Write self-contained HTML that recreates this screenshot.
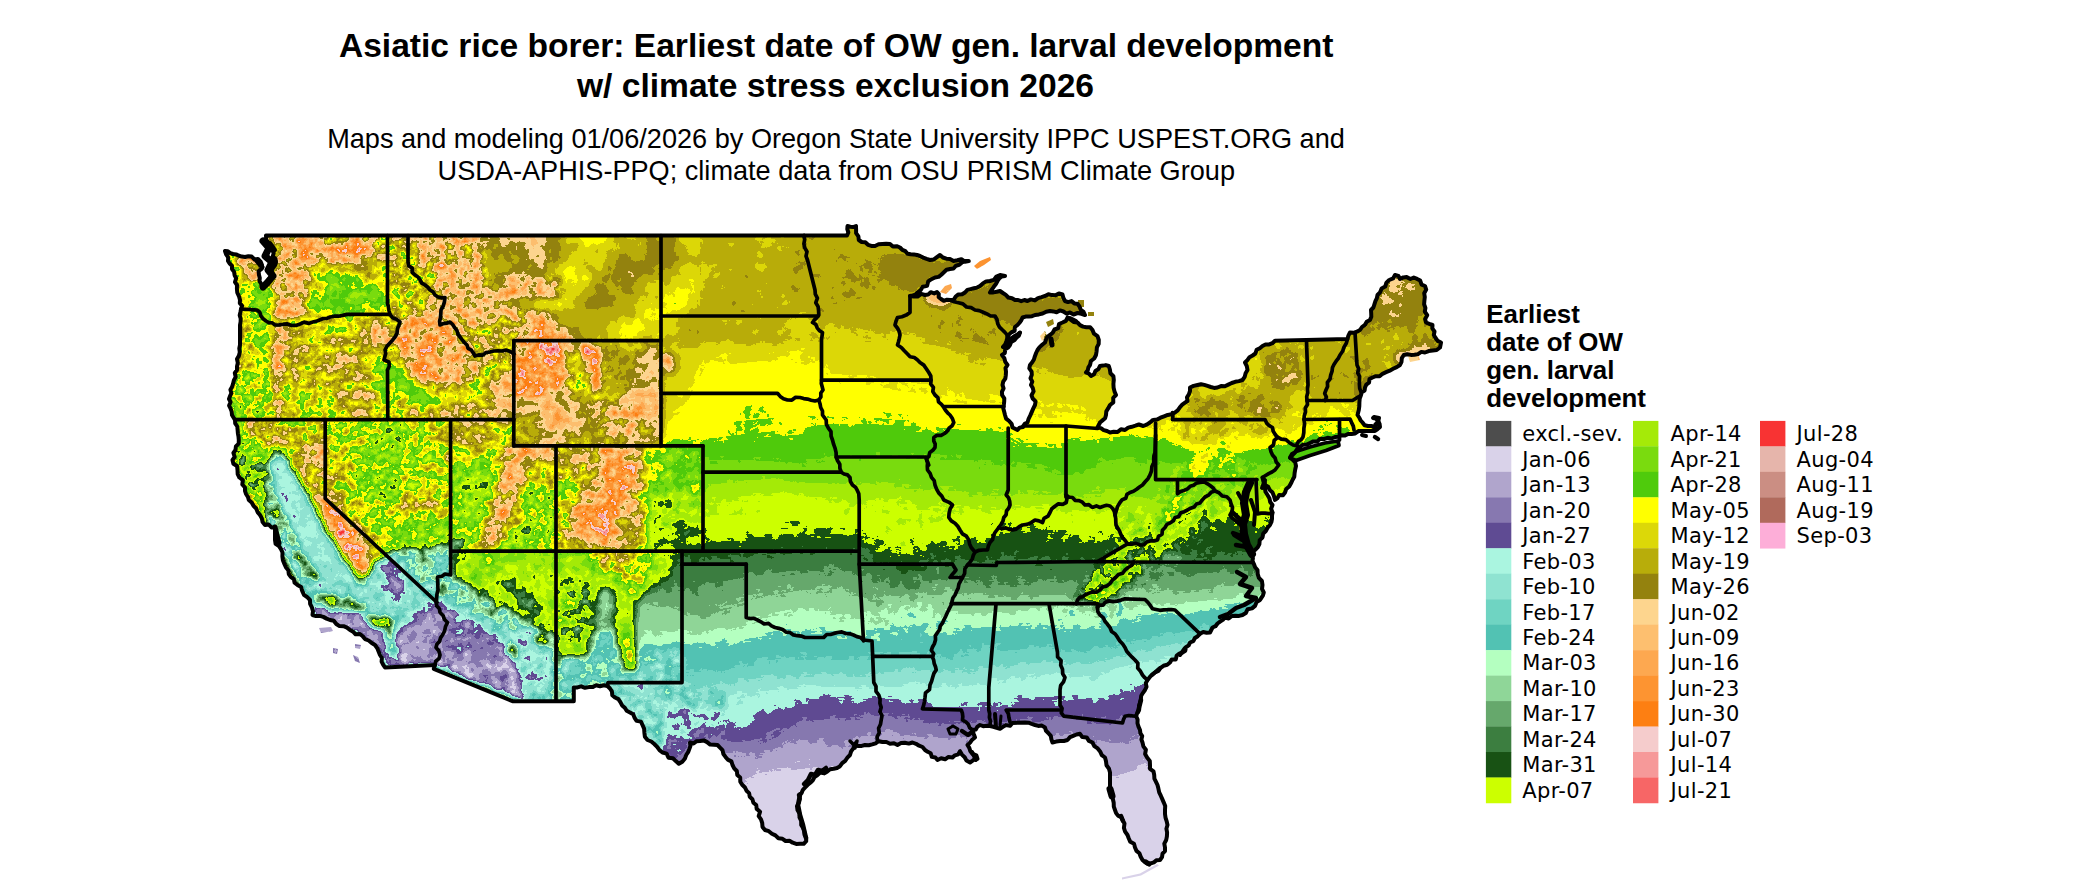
<!DOCTYPE html>
<html><head><meta charset="utf-8"><title>Asiatic rice borer: Earliest date of OW gen. larval development</title>
<style>html,body{margin:0;padding:0;background:#fff}svg{display:block}
.t{font-family:"Liberation Sans",Arial,sans-serif;font-weight:bold;font-size:33.58px;text-anchor:middle;fill:#000}
.s{font-family:"Liberation Sans",Arial,sans-serif;font-size:27.14px;text-anchor:middle;fill:#000}
.lt{font-family:"Liberation Sans",Arial,sans-serif;font-weight:bold;font-size:25.9px;fill:#000}
.ll{font-family:"DejaVu Sans",Verdana,sans-serif;font-size:21px;letter-spacing:0.32px;fill:#000}
.b{fill:none;stroke:#000;stroke-width:3.7;stroke-linejoin:round;stroke-linecap:round}
</style></head><body>
<svg width="2100" height="892" viewBox="0 0 2100 892">
<rect width="2100" height="892" fill="#fff"/>
<defs><clipPath id="us"><path d="M225.0 251.0 L227.9 251.3 L230.3 253.1 L233.0 254.0 L236.1 254.4 L238.9 255.8 L241.9 256.6 L245.0 257.0 L248.4 256.2 L251.7 256.6 L254.6 259.5 L258.0 259.0 L260.6 261.6 L262.0 265.0 L261.8 268.6 L258.6 271.2 L259.0 275.0 L259.8 278.0 L259.5 281.2 L261.3 284.0 L262.0 287.0 L265.2 285.9 L268.0 284.0 L268.0 280.2 L270.4 277.1 L272.1 273.8 L272.0 270.0 L273.4 267.4 L275.3 265.0 L276.0 262.0 L275.5 258.8 L272.8 256.4 L273.7 252.8 L272.0 250.0 L270.8 246.3 L268.4 243.0 L266.2 239.7 L266.0 235.5 L847.0 235.5 L848.3 232.4 L847.3 229.2 L847.5 226.0 L850.3 226.7 L853.2 227.1 L856.0 226.0 L856.1 229.6 L856.1 233.2 L858.4 236.4 L858.8 240.0 L861.7 242.0 L865.3 242.2 L868.0 244.8 L871.4 245.9 L875.0 246.0 L878.6 244.3 L882.4 243.9 L886.1 243.7 L890.0 244.0 L892.9 246.5 L896.7 246.2 L900.0 247.5 L902.3 249.9 L905.4 251.2 L907.5 253.8 L910.6 254.3 L913.8 254.5 L917.0 255.0 L920.0 256.0 L923.2 257.6 L926.6 258.9 L930.0 260.0 L933.9 259.4 L936.9 257.2 L940.0 255.0 L942.9 257.5 L946.3 258.7 L950.0 259.0 L953.6 260.9 L957.4 260.3 L961.4 259.2 L964.9 261.7 L968.8 261.0 L965.1 261.1 L962.0 262.5 L959.3 264.8 L956.0 265.7 L953.5 268.5 L950.0 269.0 L946.5 269.8 L943.9 272.2 L941.3 274.7 L938.6 276.9 L935.0 277.5 L931.4 279.2 L928.2 281.4 L927.1 285.9 L922.7 286.8 L920.6 290.2 L917.5 292.5 L915.4 294.6 L912.8 295.4 L910.0 296.0 L913.8 296.6 L917.6 296.6 L921.2 293.9 L925.0 295.0 L928.1 294.6 L930.7 292.2 L934.2 293.4 L937.0 292.0 L938.8 294.1 L938.7 297.2 L941.0 299.0 L943.8 300.8 L947.0 299.7 L950.0 300.0 L953.7 299.8 L955.7 296.5 L958.4 294.4 L962.1 294.3 L965.0 292.5 L967.4 289.9 L970.6 289.1 L973.9 288.3 L977.1 287.6 L980.0 286.0 L982.9 283.4 L986.1 281.4 L990.0 281.0 L993.9 279.9 L996.4 276.5 L1000.0 275.0 L1005.0 276.0 L1001.7 276.5 L999.3 278.3 L997.5 281.0 L995.9 284.1 L993.8 286.8 L991.8 289.6 L990.0 292.5 L993.4 292.4 L996.7 291.8 L1000.0 291.0 L1002.9 293.0 L1005.8 294.9 L1008.3 297.5 L1012.0 298.2 L1015.0 300.0 L1018.1 300.0 L1021.2 301.2 L1024.4 300.0 L1027.5 301.0 L1030.8 299.4 L1034.9 300.4 L1038.0 298.1 L1041.5 297.1 L1045.0 296.0 L1048.4 294.2 L1052.0 295.1 L1055.5 295.3 L1058.9 293.4 L1062.5 294.5 L1063.4 297.9 L1065.0 301.0 L1068.0 302.1 L1071.5 301.1 L1074.3 303.4 L1077.5 303.8 L1079.5 306.5 L1080.8 309.7 L1083.5 311.9 L1085.0 315.0 L1081.4 313.8 L1077.6 313.0 L1073.5 314.5 L1070.0 312.5 L1066.6 313.6 L1063.4 311.5 L1060.1 310.4 L1056.6 312.2 L1053.3 311.4 L1050.0 311.0 L1046.2 311.7 L1042.6 313.5 L1038.9 314.4 L1035.0 315.0 L1032.0 316.2 L1028.8 316.6 L1025.6 316.6 L1022.5 317.5 L1021.3 320.3 L1019.5 322.7 L1017.5 325.0 L1014.9 327.0 L1014.6 330.9 L1011.3 332.4 L1008.9 334.6 L1007.5 337.5 L1006.5 340.9 L1005.3 344.2 L1003.0 347.0 L1005.9 345.4 L1006.9 341.9 L1009.1 339.6 L1012.0 338.0 L1014.6 336.0 L1017.7 334.8 L1020.0 332.5 L1018.9 335.7 L1016.4 337.8 L1014.4 340.3 L1011.2 341.9 L1010.0 345.0 L1008.1 347.6 L1005.2 349.3 L1004.8 353.1 L1002.0 355.0 L1004.3 358.1 L1005.3 361.9 L1007.5 365.0 L1005.5 368.1 L1006.0 371.7 L1005.8 375.2 L1005.3 378.6 L1003.2 381.6 L1002.5 385.0 L1003.6 388.3 L1002.0 391.7 L1002.1 395.1 L1004.3 398.3 L1004.2 401.6 L1003.8 405.0 L1003.3 408.4 L1004.2 411.7 L1005.0 415.0 L1006.1 418.6 L1009.1 421.0 L1011.6 423.8 L1012.5 427.5 L1017.5 430.0 L1019.6 427.6 L1023.0 427.0 L1024.6 423.8 L1027.5 422.5 L1028.6 418.8 L1030.3 415.4 L1031.8 411.9 L1033.3 408.4 L1035.0 405.0 L1035.6 401.4 L1032.7 398.5 L1031.5 395.3 L1033.6 391.4 L1032.8 388.1 L1031.0 385.0 L1032.3 381.6 L1030.5 378.3 L1031.8 374.9 L1031.6 371.6 L1029.3 368.4 L1030.0 365.0 L1032.2 362.3 L1033.9 359.5 L1034.9 356.2 L1036.1 353.0 L1037.5 350.0 L1039.6 347.1 L1042.2 344.7 L1045.0 342.5 L1046.0 339.5 L1047.3 336.8 L1050.0 335.0 L1052.7 332.7 L1054.5 329.5 L1058.2 328.2 L1059.0 324.0 L1062.5 322.5 L1065.9 320.9 L1067.5 317.5 L1070.6 319.7 L1073.6 322.0 L1077.5 322.5 L1080.0 325.1 L1083.0 326.6 L1086.4 327.2 L1090.2 327.2 L1092.5 330.0 L1094.0 333.7 L1097.5 336.1 L1098.8 340.0 L1098.7 343.9 L1096.9 347.4 L1096.6 351.2 L1096.0 355.0 L1094.2 358.5 L1090.9 361.0 L1090.0 365.0 L1088.4 367.3 L1087.8 370.2 L1086.0 372.5 L1088.9 373.6 L1091.0 376.0 L1094.1 374.2 L1095.4 371.0 L1098.4 369.1 L1100.0 366.0 L1102.9 365.6 L1105.8 365.1 L1108.8 366.0 L1109.9 369.5 L1110.4 373.3 L1113.4 376.2 L1113.8 380.0 L1113.4 383.9 L1113.6 387.7 L1114.5 391.4 L1116.0 395.0 L1113.2 397.8 L1113.3 402.4 L1110.0 405.0 L1108.3 408.2 L1106.3 411.3 L1106.0 415.0 L1105.1 418.3 L1102.5 420.4 L1100.0 422.5 L1097.5 427.5 L1100.9 428.1 L1103.7 430.1 L1107.0 431.0 L1110.0 432.5 L1113.7 431.8 L1117.6 432.1 L1121.0 429.2 L1125.0 430.0 L1128.2 427.6 L1131.8 426.8 L1135.4 425.7 L1138.9 424.5 L1143.3 426.0 L1146.7 424.6 L1150.0 422.5 L1153.1 419.9 L1157.1 419.6 L1160.5 417.7 L1164.1 416.3 L1167.7 414.9 L1171.6 414.3 L1175.0 412.5 L1177.7 410.4 L1179.7 407.6 L1181.9 404.9 L1184.7 402.9 L1187.5 401.0 L1187.0 397.4 L1188.9 394.3 L1190.0 391.0 L1190.0 387.5 L1193.6 385.9 L1197.5 385.0 L1201.0 384.2 L1204.3 384.9 L1207.5 385.9 L1210.8 387.0 L1214.1 387.9 L1217.5 387.5 L1221.0 386.1 L1224.9 386.2 L1228.3 384.6 L1231.7 383.0 L1235.2 381.8 L1238.9 381.1 L1242.5 380.0 L1244.7 376.9 L1245.6 373.2 L1247.5 370.0 L1246.8 366.1 L1245.0 362.5 L1247.4 360.1 L1249.5 357.2 L1252.6 355.5 L1255.4 353.5 L1256.6 349.8 L1259.8 348.2 L1262.5 346.0 L1265.5 344.5 L1269.2 344.4 L1272.4 343.2 L1275.0 340.7 L1347.5 339.0 L1348.4 335.6 L1350.0 332.5 L1353.6 332.8 L1356.9 331.7 L1360.0 330.0 L1362.0 327.0 L1364.9 324.9 L1366.7 321.7 L1370.0 320.0 L1371.3 316.8 L1371.2 313.4 L1371.0 310.0 L1373.4 307.5 L1374.4 304.3 L1375.4 301.2 L1376.8 298.3 L1377.5 295.0 L1380.1 292.3 L1381.6 288.5 L1385.2 286.6 L1386.4 282.6 L1389.2 280.0 L1393.1 278.4 L1395.0 275.0 L1398.4 275.9 L1400.0 279.0 L1403.3 277.4 L1406.7 277.1 L1410.4 279.0 L1413.8 277.5 L1417.1 278.9 L1420.2 280.6 L1421.6 284.7 L1425.0 286.0 L1426.2 289.6 L1424.2 293.3 L1424.8 297.0 L1424.4 300.6 L1424.1 304.3 L1425.4 307.9 L1424.8 311.6 L1427.2 315.2 L1425.1 318.9 L1426.0 322.5 L1429.2 323.8 L1432.5 325.0 L1432.3 328.4 L1434.5 331.5 L1433.8 335.0 L1435.6 338.0 L1437.6 340.9 L1441.0 342.5 L1440.0 347.5 L1436.7 350.0 L1432.7 350.5 L1428.7 351.1 L1425.0 352.5 L1421.3 351.9 L1418.0 354.1 L1414.5 354.7 L1410.9 354.9 L1407.3 354.2 L1403.8 355.0 L1401.8 358.1 L1401.5 361.8 L1400.0 365.0 L1396.7 367.1 L1393.1 368.8 L1389.7 370.7 L1386.1 372.2 L1382.5 373.8 L1379.6 376.2 L1375.8 376.2 L1372.5 377.5 L1369.5 379.1 L1369.0 382.7 L1366.3 384.6 L1365.0 387.5 L1364.6 390.5 L1361.8 392.2 L1361.0 395.0 L1359.7 398.6 L1359.4 402.4 L1359.3 406.2 L1358.8 410.0 L1357.5 415.0 L1359.2 417.5 L1360.5 420.2 L1362.5 422.5 L1364.6 425.3 L1368.0 426.0 L1371.8 426.0 L1375.0 428.0 L1375.4 424.5 L1378.0 422.0 L1376.6 419.0 L1374.0 417.0 L1379.0 418.0 L1378.1 421.1 L1379.6 424.0 L1380.0 427.0 L1377.6 429.1 L1375.0 431.0 L1362.0 431.0 L1358.4 431.1 L1355.2 433.4 L1351.6 433.9 L1348.0 434.0 L1345.0 435.6 L1341.4 435.2 L1338.4 436.8 L1335.0 437.0 L1331.5 438.5 L1327.6 437.8 L1324.0 439.0 L1320.1 438.7 L1317.2 441.6 L1313.3 441.4 L1310.0 443.0 L1306.8 444.6 L1302.9 444.7 L1300.0 447.0 L1297.2 449.1 L1295.1 452.2 L1292.0 454.0 L1290.0 457.5 L1292.7 459.8 L1295.2 462.3 L1296.0 466.0 L1295.2 469.5 L1294.6 473.1 L1294.3 476.7 L1292.5 480.0 L1291.0 483.3 L1289.2 486.5 L1286.2 489.0 L1285.0 492.5 L1283.1 495.2 L1279.1 495.1 L1277.5 498.2 L1275.0 500.0 L1274.0 496.2 L1272.5 492.5 L1269.9 490.1 L1268.2 486.8 L1265.0 485.0 L1264.7 480.9 L1262.5 477.5 L1263.3 481.0 L1264.6 484.5 L1264.9 488.2 L1265.5 491.8 L1267.5 495.0 L1269.4 498.2 L1270.2 502.0 L1272.5 505.0 L1271.1 508.8 L1272.5 512.5 L1272.0 515.6 L1272.0 518.9 L1271.4 522.0 L1270.0 525.0 L1267.6 527.8 L1265.8 531.0 L1263.2 533.7 L1262.5 537.5 L1259.7 540.1 L1259.4 544.1 L1257.7 547.4 L1255.0 550.0 L1251.0 553.0 L1252.2 555.5 L1252.9 558.2 L1252.5 561.0 L1253.8 563.8 L1255.1 567.2 L1257.5 570.0 L1257.7 574.1 L1258.9 577.9 L1261.9 581.0 L1262.5 585.0 L1262.0 588.9 L1263.8 592.5 L1263.0 595.3 L1261.5 597.6 L1260.0 600.0 L1256.6 602.0 L1255.0 605.9 L1252.0 608.4 L1247.7 609.2 L1245.8 613.0 L1242.5 615.0 L1239.1 615.9 L1235.5 615.8 L1231.9 616.0 L1228.7 618.5 L1225.0 617.5 L1222.8 619.9 L1220.1 621.6 L1217.5 623.5 L1215.5 626.2 L1212.5 627.5 L1210.0 632.5 L1206.6 632.7 L1203.2 632.0 L1200.0 633.8 L1197.7 636.2 L1194.9 638.0 L1193.3 641.2 L1190.0 642.5 L1188.7 645.4 L1185.9 647.2 L1185.3 650.7 L1182.5 652.5 L1179.3 653.6 L1176.7 655.5 L1175.8 659.4 L1171.7 659.5 L1170.0 662.5 L1167.2 664.8 L1163.5 665.8 L1160.6 667.9 L1158.3 671.0 L1155.0 672.5 L1152.1 674.6 L1149.7 677.2 L1147.5 680.0 L1145.8 683.1 L1146.5 686.8 L1145.0 690.0 L1143.0 692.8 L1141.2 695.7 L1140.8 699.2 L1140.0 702.5 L1139.0 705.9 L1139.2 709.7 L1137.2 712.8 L1136.2 716.2 L1137.6 719.6 L1137.5 723.3 L1138.5 726.7 L1140.0 730.0 L1140.4 733.2 L1142.2 736.1 L1141.4 739.5 L1142.5 742.5 L1143.4 746.4 L1145.9 749.7 L1145.1 754.1 L1147.1 757.6 L1149.8 760.9 L1150.0 765.0 L1150.0 768.8 L1153.5 771.3 L1154.2 774.8 L1154.4 778.6 L1156.0 781.8 L1157.5 785.0 L1158.4 788.6 L1159.2 792.3 L1160.8 795.7 L1162.3 799.1 L1163.8 802.6 L1165.2 806.1 L1165.0 810.0 L1165.0 813.9 L1165.5 817.6 L1166.7 821.3 L1167.5 825.0 L1166.4 828.7 L1167.1 832.5 L1166.9 836.3 L1166.2 840.0 L1164.3 843.6 L1165.0 847.5 L1165.0 851.1 L1162.5 853.7 L1162.0 857.2 L1160.0 860.0 L1156.6 860.2 L1153.9 862.3 L1150.8 863.3 L1147.5 863.8 L1144.8 862.1 L1142.5 860.0 L1140.7 856.8 L1139.4 853.3 L1136.5 850.9 L1135.0 847.5 L1134.0 843.8 L1130.3 841.8 L1128.8 838.5 L1127.5 835.0 L1125.1 831.6 L1123.9 827.9 L1124.5 823.5 L1122.5 820.0 L1121.2 817.1 L1118.0 815.6 L1116.1 813.1 L1115.0 810.0 L1113.8 806.6 L1113.7 802.8 L1112.9 799.2 L1111.7 795.8 L1110.0 792.5 L1110.0 772.5 L1109.0 768.7 L1106.5 765.3 L1106.0 761.3 L1105.0 757.5 L1101.8 755.1 L1100.1 751.4 L1097.7 748.4 L1094.3 746.1 L1092.5 742.5 L1088.9 740.9 L1086.7 737.4 L1082.3 737.1 L1080.0 733.8 L1076.5 734.5 L1073.2 735.8 L1070.0 737.2 L1067.5 740.0 L1063.8 741.0 L1060.0 741.1 L1056.2 741.6 L1052.5 742.5 L1051.4 739.3 L1050.8 735.9 L1048.5 733.2 L1046.0 730.8 L1045.0 727.5 L1041.9 725.6 L1038.3 725.9 L1035.0 725.0 L1031.7 723.9 L1028.5 722.7 L1025.0 722.5 L1012.5 723.0 L1010.0 725.8 L1005.9 725.1 L1002.9 726.9 L1000.0 728.8 L996.7 727.9 L993.4 726.8 L990.0 726.0 L986.7 725.8 L983.2 726.2 L980.0 725.0 L977.5 726.6 L975.8 729.5 L972.5 730.0 L973.7 733.8 L975.0 737.5 L972.2 739.7 L970.1 742.6 L967.5 745.0 L969.3 747.9 L970.4 751.3 L972.5 753.9 L976.4 755.4 L977.5 758.8 L974.6 759.2 L972.3 760.9 L970.0 762.5 L966.5 760.6 L964.7 757.2 L961.9 754.6 L960.0 751.2 L958.3 754.3 L954.9 755.3 L952.5 757.5 L948.5 756.9 L945.1 759.3 L941.1 758.3 L937.5 760.0 L935.4 757.5 L931.8 756.9 L930.7 753.2 L927.7 751.8 L925.0 750.0 L922.5 747.0 L919.1 745.7 L916.0 743.8 L912.5 742.5 L908.8 743.6 L904.8 742.8 L901.0 743.1 L897.5 745.0 L894.0 743.2 L890.0 743.7 L886.4 742.0 L882.5 742.0 L878.8 741.2 L875.6 743.3 L872.2 744.4 L868.8 745.3 L865.0 745.0 L861.7 745.9 L858.3 746.0 L855.0 745.0 L853.3 748.3 L851.1 751.4 L850.0 755.0 L847.4 757.7 L845.2 760.8 L842.2 763.1 L840.0 766.2 L837.0 768.0 L833.6 768.8 L830.1 769.3 L827.3 771.5 L824.3 773.4 L820.3 772.6 L817.5 775.0 L814.5 777.0 L812.8 780.3 L810.3 782.8 L807.5 785.0 L805.2 787.4 L802.9 789.8 L801.6 793.0 L798.8 795.0 L799.9 798.9 L799.0 802.6 L797.0 806.2 L797.5 810.0 L799.5 813.5 L799.5 817.5 L801.2 821.0 L801.2 825.0 L803.1 828.0 L804.2 831.2 L804.5 834.7 L806.2 837.7 L806.2 841.2 L803.7 843.8 L800.0 843.8 L796.2 843.9 L792.7 842.7 L789.5 840.8 L785.6 841.0 L782.5 838.8 L778.4 838.3 L775.4 835.4 L771.9 833.7 L768.8 831.2 L765.0 830.0 L762.5 826.9 L762.2 823.0 L761.0 819.4 L758.7 816.2 L760.1 811.7 L756.7 808.9 L756.2 805.0 L753.4 802.7 L752.4 799.2 L749.8 796.8 L749.1 793.1 L746.5 790.7 L745.0 787.5 L742.2 784.8 L740.3 781.7 L740.2 777.5 L737.3 775.0 L736.8 771.0 L734.2 768.3 L732.5 765.0 L731.4 761.4 L727.7 759.6 L725.5 756.9 L723.4 754.0 L722.5 750.1 L720.0 747.6 L717.5 745.0 L713.9 744.7 L710.2 744.6 L707.1 742.1 L703.8 740.4 L700.0 741.0 L696.6 741.2 L693.6 743.5 L690.0 742.5 L690.4 746.0 L689.3 749.1 L688.1 752.2 L686.2 755.0 L684.8 758.8 L682.3 761.7 L678.8 763.8 L675.8 761.1 L672.9 758.3 L668.5 757.7 L666.6 753.6 L662.5 752.5 L659.5 750.1 L657.1 746.8 L654.3 744.0 L651.3 741.5 L647.5 740.0 L644.9 736.7 L644.4 732.7 L644.1 728.6 L642.5 725.0 L640.9 721.6 L636.6 720.9 L634.6 717.9 L633.2 714.3 L630.0 712.5 L626.7 710.8 L624.8 707.7 L622.1 705.4 L620.4 702.1 L618.4 699.1 L615.0 697.5 L612.3 695.2 L611.9 691.4 L610.0 688.5 L607.5 686.0 L603.7 685.2 L600.0 686.2 L596.2 685.2 L592.5 687.1 L588.8 687.1 L585.0 687.8 L581.2 686.3 L577.5 687.4 L573.8 687.5 L573.8 701.2 L512.5 701.2 L433.8 668.8 L435.0 665.0 L385.0 667.5 L383.1 664.6 L381.6 661.6 L381.9 657.9 L380.0 655.0 L378.6 651.5 L377.2 648.1 L375.0 645.0 L371.7 643.0 L368.7 640.5 L365.0 639.1 L362.5 636.0 L359.6 633.9 L355.6 634.3 L353.1 631.6 L350.0 630.0 L347.0 627.6 L343.6 626.2 L339.5 626.1 L336.3 624.0 L333.8 620.7 L330.0 620.0 L326.6 618.6 L323.3 616.9 L319.8 615.9 L316.0 616.1 L312.5 615.0 L313.0 611.1 L311.9 607.4 L310.1 603.8 L310.0 600.0 L307.2 597.2 L304.0 594.8 L302.3 591.2 L301.1 587.1 L297.5 585.0 L294.6 582.7 L293.8 579.1 L290.8 576.9 L288.8 574.0 L288.3 570.2 L286.0 567.5 L284.4 563.9 L282.9 560.3 L282.4 556.5 L282.5 552.5 L281.0 549.2 L279.0 546.1 L275.6 543.9 L275.0 540.0 L275.0 527.5 L271.5 527.5 L268.7 524.5 L265.0 525.0 L262.6 522.0 L261.8 518.2 L260.0 515.0 L257.6 512.1 L256.2 508.5 L253.5 505.8 L251.7 502.5 L248.8 500.0 L247.9 496.8 L246.0 494.0 L245.0 490.9 L245.0 487.5 L242.3 484.5 L242.9 480.1 L239.4 477.5 L237.7 474.1 L237.5 470.0 L237.1 466.0 L233.4 463.7 L232.5 460.0 L234.7 457.0 L233.4 453.0 L235.5 450.0 L235.9 446.4 L238.7 443.6 L238.8 440.0 L238.5 436.6 L237.9 433.3 L237.6 429.9 L237.3 426.5 L235.2 423.4 L235.0 420.0 L232.0 415.0 L231.7 411.7 L230.6 408.6 L229.1 405.6 L230.6 402.0 L229.0 399.0 L230.0 396.1 L231.4 393.2 L230.4 389.8 L232.0 387.0 L233.1 383.6 L233.9 380.2 L235.7 377.0 L234.8 373.0 L237.0 370.0 L237.0 366.4 L237.8 362.9 L237.0 359.1 L238.9 355.7 L239.8 352.2 L239.3 348.5 L240.0 345.0 L240.0 325.0 L240.6 321.8 L240.7 318.6 L239.7 315.3 L240.4 312.2 L241.0 309.0 L242.1 305.8 L239.8 303.1 L240.0 300.0 L239.0 296.3 L237.3 292.7 L236.9 288.9 L237.0 285.0 L235.0 282.1 L236.2 278.2 L234.6 275.2 L234.1 271.9 L232.0 269.0 L232.0 265.7 L229.6 263.5 L228.0 261.0 L228.2 257.3 L226.1 254.3Z M1290.0 458.0 L1296.0 451.5 L1310.0 447.0 L1325.0 443.0 L1338.0 441.0 L1339.0 445.5 L1326.0 450.5 L1310.0 455.5 L1296.0 460.5Z M974.0 266.0 L980.0 261.0 L990.0 257.0 L991.0 260.0 L984.0 265.0 L977.0 269.0Z M940.0 292.0 L945.0 286.0 L951.0 284.0 L952.0 288.0 L946.0 294.0Z M1046.0 322.0 L1053.0 319.0 L1054.0 324.0 L1048.0 327.0Z M1040.0 336.0 L1045.0 331.0 L1047.0 336.0 L1042.0 341.0Z M1078.0 300.0 L1084.0 300.0 L1084.0 307.0 L1078.0 307.0Z M1088.0 312.0 L1094.0 312.0 L1094.0 316.0 L1088.0 316.0Z M319.0 628.0 L331.0 627.0 L333.0 631.0 L321.0 633.0Z M333.0 648.0 L338.0 649.0 L337.0 654.0 L333.0 653.0Z M353.0 655.0 L358.0 657.0 L360.0 663.0 L355.0 661.0Z M355.0 644.0 L361.0 645.0 L360.0 649.0 L355.0 648.0Z M1122.0 877.5 L1140.0 873.5 L1157.0 864.0 L1159.0 865.5 L1141.0 875.5 L1122.0 879.5Z M1408.0 356.0 L1418.0 354.0 L1420.0 360.0 L1410.0 362.0Z"/></clipPath>
<filter id="terr" filterUnits="userSpaceOnUse" x="200" y="215" width="1270" height="677" color-interpolation-filters="sRGB">
<feGaussianBlur in="SourceGraphic" stdDeviation="3.5" result="bl"/>
<feColorMatrix in="bl" type="matrix" values="1 0 0 0 0  0 1 0 0 0  0 0 1 0 0  0 0 0 0 1" result="ca"/>
<feTurbulence type="fractalNoise" baseFrequency="0.016" numOctaves="4" seed="7" result="tn"/>
<feColorMatrix in="tn" type="matrix" values="0 0 0 0 1  1 0 0 0 0  0 0 0 0 0  0 0 0 0 1" result="na"/>
<feTurbulence type="fractalNoise" baseFrequency="0.11" numOctaves="3" seed="11" result="tm"/>
<feColorMatrix in="tm" type="matrix" values="0 0 0 0 0  0 0 0 0 0  1 0 0 0 0  0 0 0 0 1" result="nb"/>
<feComposite in="na" in2="nb" operator="arithmetic" k1="0" k2="1" k3="1" k4="0" result="cn"/>
<feComposite in="ca" in2="cn" operator="arithmetic" k1="1" k2="0" k3="0" k4="0" result="pr"/>
<feColorMatrix in="pr" type="matrix" values="1 0.36 0.26 0 0  1 0.36 0.26 0 0  1 0.36 0.26 0 0  0 0 0 0 1" result="xx"/>
<feColorMatrix in="ca" type="matrix" values="0 0.18 0.13 0 0  0 0.18 0.13 0 0  0 0.18 0.13 0 0  0 0 0 0 1" result="yy"/>
<feBlend in="xx" in2="yy" mode="difference" result="t2"/>
<feComponentTransfer in="t2"><feFuncR type="discrete" tableValues="0.851 0.851 0.690 0.529 0.373 0.667 0.561 0.435 0.322 0.706 0.561 0.400 0.235 0.094 0.800 0.647 0.478 0.310 1.000 0.863 0.722 0.580 0.992 0.992 0.992 0.992 0.992 0.961 0.965 0.969 0.973 0.902 0.796 0.690 0.992 0.992 0.992 0.992 0.992 0.992 0.992 0.992 0.992 0.992"/><feFuncG type="discrete" tableValues="0.824 0.824 0.647 0.471 0.294 0.961 0.890 0.831 0.761 1.000 0.839 0.659 0.494 0.322 1.000 0.918 0.859 0.796 1.000 0.847 0.678 0.510 0.835 0.749 0.659 0.580 0.498 0.800 0.600 0.400 0.200 0.710 0.557 0.416 0.682 0.682 0.682 0.682 0.682 0.682 0.682 0.682 0.682 0.682"/><feFuncB type="discrete" tableValues="0.914 0.914 0.800 0.690 0.576 0.878 0.820 0.761 0.702 0.753 0.596 0.424 0.251 0.078 0.000 0.031 0.055 0.047 0.000 0.031 0.039 0.055 0.557 0.435 0.314 0.192 0.071 0.800 0.600 0.400 0.200 0.671 0.514 0.361 0.847 0.847 0.847 0.847 0.847 0.847 0.847 0.847 0.847 0.847"/></feComponentTransfer>
</filter></defs>
<text class="t" x="836.2" y="56.9">Asiatic rice borer: Earliest date of OW gen. larval development</text>
<text class="t" x="835.5" y="96.7">w/ climate stress exclusion 2026</text>
<text class="s" x="836" y="147.5">Maps and modeling 01/06/2026 by Oregon State University IPPC USPEST.ORG and</text>
<text class="s" x="836.3" y="180.4">USDA-APHIS-PPQ; climate data from OSU PRISM Climate Group</text>
<g clip-path="url(#us)"><g id="field" filter="url(#terr)">
<rect x="150" y="165" width="1370" height="777" fill="rgb(119,14,11)"/>
<polygon points="540.0,300.0 550.0,300.0 560.0,300.0 570.0,301.6 580.0,303.2 590.0,304.8 600.0,306.3 610.0,307.9 620.0,309.5 630.0,311.1 640.0,312.7 650.0,314.3 660.0,315.8 670.0,316.0 680.0,316.0 690.0,316.0 700.0,316.0 710.0,316.0 720.0,316.0 730.0,316.0 740.0,316.0 750.0,316.0 760.0,316.0 770.0,316.0 780.0,316.0 790.0,316.0 800.0,316.0 810.0,318.0 820.0,320.0 830.0,322.0 840.0,324.0 850.0,326.0 860.0,328.0 870.0,330.0 880.0,330.0 890.0,330.0 900.0,330.0 910.0,331.7 920.0,333.3 930.0,335.0 940.0,337.3 950.0,339.7 960.0,342.0 970.0,344.5 980.0,347.0 990.0,349.5 1000.0,352.0 1010.0,355.3 1020.0,358.7 1030.0,362.0 1040.0,365.3 1050.0,368.7 1060.0,372.0 1070.0,372.8 1080.0,373.5 1090.0,374.2 1100.0,375.0 1110.0,380.0 1120.0,385.0 1130.0,386.8 1140.0,388.5 1150.0,390.2 1160.0,392.0 1170.0,389.2 1180.0,386.4 1190.0,367.5 1200.0,348.9 1210.0,346.7 1220.0,344.4 1230.0,342.2 1240.0,340.0 1250.0,339.1 1260.0,338.2 1270.0,337.3 1280.0,336.4 1290.0,335.5 1300.0,341.8 1310.0,396.0 1320.0,398.0 1330.0,400.0 1340.0,398.4 1350.0,396.8 1360.0,394.0 1370.0,392.0 1380.0,392.0 1390.0,392.0 1400.0,392.0 1410.0,392.0 1420.0,392.0 1430.0,392.0 1440.0,392.0 1450.0,392.0 1460.0,392.0 1470.0,392.0 1480.0,392.0 1480.0,950.0 540.0,950.0" fill="rgb(115,14,11)"/>
<polygon points="540.0,320.8 550.0,320.8 560.0,320.8 570.0,322.2 580.0,323.5 590.0,324.8 600.0,326.1 610.0,327.4 620.0,328.6 630.0,329.8 640.0,331.1 650.0,332.3 660.0,333.5 670.0,332.5 680.0,331.3 690.0,330.0 700.0,326.1 710.0,323.7 720.0,322.7 730.0,321.7 740.0,321.5 750.0,321.3 760.0,321.2 770.0,321.3 780.0,321.4 790.0,321.5 800.0,321.7 810.0,324.3 820.0,327.0 830.0,332.5 840.0,334.2 850.0,335.8 860.0,337.5 870.0,339.2 880.0,339.6 890.0,339.9 900.0,340.3 910.0,341.9 920.0,343.4 930.0,345.0 940.0,347.1 950.0,349.2 960.0,351.3 970.0,353.7 980.0,356.1 990.0,358.5 1000.0,360.8 1010.0,364.3 1020.0,367.8 1030.0,371.3 1040.0,374.2 1050.0,377.1 1060.0,380.0 1070.0,380.8 1080.0,381.6 1090.0,382.4 1100.0,383.2 1110.0,387.6 1120.0,391.9 1130.0,393.6 1140.0,395.3 1150.0,397.0 1160.0,398.7 1170.0,396.5 1180.0,394.3 1190.0,378.8 1200.0,363.4 1210.0,361.7 1220.0,360.0 1230.0,358.4 1240.0,356.7 1250.0,355.7 1260.0,354.7 1270.0,353.7 1280.0,352.4 1290.0,351.0 1300.0,355.7 1310.0,400.1 1320.0,401.1 1330.0,402.0 1340.0,400.0 1350.0,398.0 1360.0,395.0 1370.0,393.1 1380.0,392.9 1390.0,392.7 1400.0,392.5 1410.0,392.4 1420.0,392.2 1430.0,392.1 1440.0,392.1 1450.0,392.1 1460.0,392.1 1470.0,392.1 1480.0,392.1 1480.0,950.0 540.0,950.0" fill="rgb(114,14,11)"/>
<polygon points="540.0,341.7 550.0,341.7 560.0,341.7 570.0,342.7 580.0,343.8 590.0,344.8 600.0,345.9 610.0,346.8 620.0,347.7 630.0,348.6 640.0,349.5 650.0,350.4 660.0,351.2 670.0,349.1 680.0,346.5 690.0,344.0 700.0,336.2 710.0,331.3 720.0,329.3 730.0,327.3 740.0,327.0 750.0,326.7 760.0,326.3 770.0,326.6 780.0,326.8 790.0,327.1 800.0,327.3 810.0,330.7 820.0,334.0 830.0,343.0 840.0,344.3 850.0,345.7 860.0,347.0 870.0,348.3 880.0,349.1 890.0,349.9 900.0,350.7 910.0,352.1 920.0,353.6 930.0,355.0 940.0,356.9 950.0,358.8 960.0,360.7 970.0,362.9 980.0,365.2 990.0,367.4 1000.0,369.7 1010.0,373.3 1020.0,377.0 1030.0,380.7 1040.0,383.1 1050.0,385.6 1060.0,388.0 1070.0,388.8 1080.0,389.7 1090.0,390.5 1100.0,391.3 1110.0,395.1 1120.0,398.9 1130.0,400.5 1140.0,402.1 1150.0,403.7 1160.0,405.3 1170.0,403.8 1180.0,402.3 1190.0,390.0 1200.0,377.9 1210.0,376.8 1220.0,375.6 1230.0,374.5 1240.0,373.3 1250.0,372.3 1260.0,371.2 1270.0,370.2 1280.0,368.4 1290.0,366.5 1300.0,369.5 1310.0,404.2 1320.0,404.1 1330.0,404.0 1340.0,401.6 1350.0,399.2 1360.0,396.0 1370.0,394.2 1380.0,393.8 1390.0,393.4 1400.0,393.0 1410.0,392.7 1420.0,392.4 1430.0,392.2 1440.0,392.2 1450.0,392.2 1460.0,392.2 1470.0,392.2 1480.0,392.2 1480.0,950.0 540.0,950.0" fill="rgb(113,14,11)"/>
<polygon points="540.0,362.5 550.0,362.5 560.0,362.5 570.0,363.3 580.0,364.1 590.0,364.9 600.0,365.7 610.0,366.2 620.0,366.8 630.0,367.3 640.0,367.9 650.0,368.4 660.0,368.9 670.0,365.6 680.0,361.8 690.0,358.0 700.0,346.3 710.0,339.0 720.0,336.0 730.0,333.0 740.0,332.5 750.0,332.0 760.0,331.5 770.0,331.9 780.0,332.2 790.0,332.6 800.0,333.0 810.0,337.0 820.0,341.0 830.0,353.5 840.0,354.5 850.0,355.5 860.0,356.5 870.0,357.5 880.0,358.7 890.0,359.8 900.0,361.0 910.0,362.3 920.0,363.7 930.0,365.0 940.0,366.7 950.0,368.3 960.0,370.0 970.0,372.1 980.0,374.2 990.0,376.4 1000.0,378.5 1010.0,382.3 1020.0,386.2 1030.0,390.0 1040.0,392.0 1050.0,394.0 1060.0,396.0 1070.0,396.9 1080.0,397.8 1090.0,398.6 1100.0,399.5 1110.0,402.7 1120.0,405.8 1130.0,407.4 1140.0,408.9 1150.0,410.5 1160.0,412.0 1170.0,411.1 1180.0,410.2 1190.0,401.2 1200.0,392.4 1210.0,391.8 1220.0,391.2 1230.0,390.6 1240.0,390.0 1250.0,388.9 1260.0,387.8 1270.0,386.6 1280.0,384.3 1290.0,382.1 1300.0,383.4 1310.0,408.3 1320.0,407.2 1330.0,406.0 1340.0,403.2 1350.0,400.4 1360.0,397.0 1370.0,395.4 1380.0,394.8 1390.0,394.1 1400.0,393.5 1410.0,393.1 1420.0,392.7 1430.0,392.2 1440.0,392.2 1450.0,392.2 1460.0,392.2 1470.0,392.2 1480.0,392.2 1480.0,950.0 540.0,950.0" fill="rgb(113,14,11)"/>
<polygon points="540.0,383.3 550.0,383.3 560.0,383.3 570.0,383.9 580.0,384.4 590.0,384.9 600.0,385.4 610.0,385.6 620.0,385.8 630.0,386.0 640.0,386.2 650.0,386.4 660.0,386.6 670.0,382.1 680.0,377.1 690.0,372.0 700.0,356.4 710.0,346.7 720.0,342.7 730.0,338.7 740.0,338.0 750.0,337.3 760.0,336.7 770.0,337.2 780.0,337.7 790.0,338.2 800.0,338.7 810.0,343.3 820.0,348.0 830.0,364.0 840.0,364.7 850.0,365.3 860.0,366.0 870.0,366.7 880.0,368.2 890.0,369.8 900.0,371.3 910.0,372.6 920.0,373.8 930.0,375.0 940.0,376.4 950.0,377.9 960.0,379.3 970.0,381.3 980.0,383.3 990.0,385.3 1000.0,387.3 1010.0,391.3 1020.0,395.3 1030.0,399.3 1040.0,400.9 1050.0,402.4 1060.0,404.0 1070.0,404.9 1080.0,405.8 1090.0,406.8 1100.0,407.7 1110.0,410.2 1120.0,412.8 1130.0,414.2 1140.0,415.7 1150.0,417.2 1160.0,418.7 1170.0,418.4 1180.0,418.1 1190.0,412.5 1200.0,407.0 1210.0,406.9 1220.0,406.8 1230.0,406.7 1240.0,406.7 1250.0,405.5 1260.0,404.3 1270.0,403.1 1280.0,400.3 1290.0,397.6 1300.0,397.3 1310.0,412.4 1320.0,410.2 1330.0,408.0 1340.0,404.8 1350.0,401.6 1360.0,398.0 1370.0,396.5 1380.0,395.7 1390.0,394.8 1400.0,394.0 1410.0,393.4 1420.0,392.9 1430.0,392.3 1440.0,392.3 1450.0,392.3 1460.0,392.3 1470.0,392.3 1480.0,392.3 1480.0,950.0 540.0,950.0" fill="rgb(112,14,11)"/>
<polygon points="540.0,404.2 550.0,404.2 560.0,404.2 570.0,404.4 580.0,404.7 590.0,405.0 600.0,405.2 610.0,405.1 620.0,404.9 630.0,404.8 640.0,404.6 650.0,404.5 660.0,404.3 670.0,398.6 680.0,392.3 690.0,386.0 700.0,366.6 710.0,354.3 720.0,349.3 730.0,344.3 740.0,343.5 750.0,342.7 760.0,341.8 770.0,342.5 780.0,343.1 790.0,343.7 800.0,344.3 810.0,349.7 820.0,355.0 830.0,374.5 840.0,374.8 850.0,375.2 860.0,375.5 870.0,375.8 880.0,377.8 890.0,379.7 900.0,381.7 910.0,382.8 920.0,383.9 930.0,385.0 940.0,386.2 950.0,387.4 960.0,388.7 970.0,390.5 980.0,392.4 990.0,394.3 1000.0,396.2 1010.0,400.3 1020.0,404.5 1030.0,408.7 1040.0,409.8 1050.0,410.9 1060.0,412.0 1070.0,413.0 1080.0,413.9 1090.0,414.9 1100.0,415.8 1110.0,417.8 1120.0,419.7 1130.0,421.1 1140.0,422.5 1150.0,423.9 1160.0,425.3 1170.0,425.7 1180.0,426.1 1190.0,423.8 1200.0,421.5 1210.0,421.9 1220.0,422.4 1230.0,422.9 1240.0,423.3 1250.0,422.1 1260.0,420.8 1270.0,419.5 1280.0,416.3 1290.0,413.1 1300.0,411.1 1310.0,416.6 1320.0,413.3 1330.0,410.0 1340.0,406.4 1350.0,402.8 1360.0,399.0 1370.0,397.6 1380.0,396.6 1390.0,395.5 1400.0,394.5 1410.0,393.8 1420.0,393.1 1430.0,392.4 1440.0,392.4 1450.0,392.4 1460.0,392.4 1470.0,392.4 1480.0,392.4 1480.0,950.0 540.0,950.0" fill="rgb(111,14,11)"/>
<polygon points="540.0,425.0 550.0,425.0 560.0,425.0 570.0,425.0 580.0,425.0 590.0,425.0 600.0,425.0 610.0,424.5 620.0,424.0 630.0,423.5 640.0,423.0 650.0,422.5 660.0,422.0 670.0,415.2 680.0,407.6 690.0,400.0 700.0,376.7 710.0,362.0 720.0,356.0 730.0,350.0 740.0,349.0 750.0,348.0 760.0,347.0 770.0,347.8 780.0,348.5 790.0,349.2 800.0,350.0 810.0,356.0 820.0,362.0 830.0,385.0 840.0,385.0 850.0,385.0 860.0,385.0 870.0,385.0 880.0,387.3 890.0,389.7 900.0,392.0 910.0,393.0 920.0,394.0 930.0,395.0 940.0,396.0 950.0,397.0 960.0,398.0 970.0,399.8 980.0,401.5 990.0,403.2 1000.0,405.0 1010.0,409.3 1020.0,413.7 1030.0,418.0 1040.0,418.7 1050.0,419.3 1060.0,420.0 1070.0,421.0 1080.0,422.0 1090.0,423.0 1100.0,424.0 1110.0,425.3 1120.0,426.7 1130.0,428.0 1140.0,429.3 1150.0,430.7 1160.0,432.0 1170.0,433.0 1180.0,434.0 1190.0,435.0 1200.0,436.0 1210.0,437.0 1220.0,438.0 1230.0,439.0 1240.0,440.0 1250.0,438.7 1260.0,437.3 1270.0,436.0 1280.0,432.3 1290.0,428.7 1300.0,425.0 1310.0,420.7 1320.0,416.3 1330.0,412.0 1340.0,408.0 1350.0,404.0 1360.0,400.0 1370.0,398.8 1380.0,397.5 1390.0,396.2 1400.0,395.0 1410.0,394.2 1420.0,393.3 1430.0,392.5 1440.0,391.7 1450.0,390.8 1460.0,390.0 1470.0,390.0 1480.0,390.0 1480.0,950.0 540.0,950.0" fill="rgb(110,14,11)"/>
<polygon points="540.0,429.2 550.0,429.2 560.0,429.2 570.0,429.2 580.0,429.2 590.0,429.2 600.0,429.2 610.0,428.7 620.0,428.2 630.0,427.8 640.0,427.3 650.0,426.8 660.0,426.4 670.0,420.4 680.0,413.8 690.0,407.1 700.0,387.4 710.0,375.0 720.0,369.8 730.0,364.5 740.0,363.5 750.0,362.5 760.0,361.5 770.0,362.0 780.0,362.4 790.0,362.9 800.0,363.3 810.0,368.0 820.0,372.7 830.0,391.5 840.0,391.5 850.0,391.5 860.0,391.5 870.0,391.6 880.0,393.6 890.0,395.6 900.0,397.7 910.0,398.6 920.0,399.5 930.0,400.4 940.0,401.3 950.0,402.3 960.0,403.3 970.0,404.9 980.0,406.4 990.0,408.0 1000.0,409.5 1010.0,414.1 1020.0,418.7 1030.0,422.3 1040.0,422.9 1050.0,423.4 1060.0,424.0 1070.0,424.6 1080.0,425.2 1090.0,425.8 1100.0,426.3 1110.0,427.2 1120.0,428.1 1130.0,429.0 1140.0,430.4 1150.0,431.9 1160.0,433.3 1170.0,434.7 1180.0,436.0 1190.0,437.3 1200.0,438.7 1210.0,439.8 1220.0,441.0 1230.0,442.2 1240.0,442.6 1250.0,441.0 1260.0,439.4 1270.0,437.8 1280.0,434.2 1290.0,430.6 1300.0,427.3 1310.0,423.4 1320.0,419.6 1330.0,415.8 1340.0,412.2 1350.0,408.7 1360.0,405.3 1370.0,404.2 1380.0,403.2 1390.0,402.1 1400.0,401.0 1410.0,400.3 1420.0,399.6 1430.0,398.8 1440.0,398.1 1450.0,397.4 1460.0,396.7 1470.0,396.7 1480.0,396.7 1480.0,950.0 540.0,950.0" fill="rgb(109,14,11)"/>
<polygon points="540.0,433.3 550.0,433.3 560.0,433.3 570.0,433.3 580.0,433.3 590.0,433.3 600.0,433.3 610.0,432.9 620.0,432.5 630.0,432.0 640.0,431.6 650.0,431.1 660.0,430.7 670.0,425.6 680.0,419.9 690.0,414.3 700.0,398.1 710.0,387.9 720.0,383.5 730.0,379.1 740.0,378.0 750.0,377.0 760.0,376.0 770.0,376.2 780.0,376.3 790.0,376.5 800.0,376.7 810.0,380.0 820.0,383.3 830.0,398.0 840.0,398.0 850.0,398.0 860.0,398.0 870.0,398.2 880.0,399.9 890.0,401.6 900.0,403.3 910.0,404.2 920.0,405.0 930.0,405.8 940.0,406.7 950.0,407.7 960.0,408.7 970.0,410.0 980.0,411.3 990.0,412.7 1000.0,414.0 1010.0,418.9 1020.0,423.8 1030.0,426.7 1040.0,427.1 1050.0,427.6 1060.0,428.0 1070.0,428.2 1080.0,428.3 1090.0,428.5 1100.0,428.7 1110.0,429.1 1120.0,429.6 1130.0,430.0 1140.0,431.6 1150.0,433.1 1160.0,434.7 1170.0,436.3 1180.0,438.0 1190.0,439.7 1200.0,441.3 1210.0,442.7 1220.0,444.0 1230.0,445.3 1240.0,445.1 1250.0,443.3 1260.0,441.6 1270.0,439.6 1280.0,436.0 1290.0,432.4 1300.0,429.6 1310.0,426.2 1320.0,422.9 1330.0,419.6 1340.0,416.4 1350.0,413.3 1360.0,410.6 1370.0,409.7 1380.0,408.8 1390.0,407.9 1400.0,407.0 1410.0,406.4 1420.0,405.8 1430.0,405.2 1440.0,404.6 1450.0,403.9 1460.0,403.3 1470.0,403.3 1480.0,403.3 1480.0,950.0 540.0,950.0" fill="rgb(108,14,11)"/>
<polygon points="540.0,437.5 550.0,437.5 560.0,437.5 570.0,437.5 580.0,437.5 590.0,437.5 600.0,437.5 610.0,437.1 620.0,436.7 630.0,436.3 640.0,435.9 650.0,435.5 660.0,435.0 670.0,430.8 680.0,426.1 690.0,421.4 700.0,408.8 710.0,400.9 720.0,397.2 730.0,393.6 740.0,392.5 750.0,391.5 760.0,390.5 770.0,390.4 780.0,390.2 790.0,390.1 800.0,390.0 810.0,392.0 820.0,394.0 830.0,404.5 840.0,404.5 850.0,404.5 860.0,404.5 870.0,404.8 880.0,406.2 890.0,407.6 900.0,409.0 910.0,409.8 920.0,410.5 930.0,411.2 940.0,412.0 950.0,413.0 960.0,414.0 970.0,415.1 980.0,416.2 990.0,417.4 1000.0,418.5 1010.0,423.7 1020.0,428.8 1030.0,431.0 1040.0,431.3 1050.0,431.7 1060.0,432.0 1070.0,431.8 1080.0,431.5 1090.0,431.2 1100.0,431.0 1110.0,431.0 1120.0,431.0 1130.0,431.0 1140.0,432.7 1150.0,434.3 1160.0,436.0 1170.0,438.0 1180.0,440.0 1190.0,442.0 1200.0,444.0 1210.0,445.5 1220.0,447.0 1230.0,448.5 1240.0,447.7 1250.0,445.7 1260.0,443.7 1270.0,441.3 1280.0,437.8 1290.0,434.3 1300.0,431.8 1310.0,429.0 1320.0,426.2 1330.0,423.3 1340.0,420.7 1350.0,418.0 1360.0,415.9 1370.0,415.2 1380.0,414.5 1390.0,413.8 1400.0,413.0 1410.0,412.5 1420.0,412.0 1430.0,411.5 1440.0,411.0 1450.0,410.5 1460.0,410.0 1470.0,410.0 1480.0,410.0 1480.0,950.0 540.0,950.0" fill="rgb(107,14,11)"/>
<polygon points="540.0,441.7 550.0,441.7 560.0,441.7 570.0,441.7 580.0,441.7 590.0,441.7 600.0,441.7 610.0,441.3 620.0,440.9 630.0,440.5 640.0,440.1 650.0,439.8 660.0,439.4 670.0,436.0 680.0,432.3 690.0,428.5 700.0,419.6 710.0,413.8 720.0,411.0 730.0,408.2 740.0,407.0 750.0,406.0 760.0,405.0 770.0,404.6 780.0,404.2 790.0,403.8 800.0,403.3 810.0,404.0 820.0,404.7 830.0,411.0 840.0,411.0 850.0,411.0 860.0,411.0 870.0,411.3 880.0,412.4 890.0,413.6 900.0,414.7 910.0,415.3 920.0,416.0 930.0,416.7 940.0,417.3 950.0,418.3 960.0,419.3 970.0,420.2 980.0,421.2 990.0,422.1 1000.0,423.0 1010.0,428.4 1020.0,433.9 1030.0,435.3 1040.0,435.6 1050.0,435.8 1060.0,436.0 1070.0,435.3 1080.0,434.7 1090.0,434.0 1100.0,433.3 1110.0,432.9 1120.0,432.4 1130.0,432.0 1140.0,433.8 1150.0,435.6 1160.0,437.3 1170.0,439.7 1180.0,442.0 1190.0,444.3 1200.0,446.7 1210.0,448.3 1220.0,450.0 1230.0,451.7 1240.0,450.2 1250.0,448.0 1260.0,445.8 1270.0,443.1 1280.0,439.7 1290.0,436.2 1300.0,434.1 1310.0,431.8 1320.0,429.4 1330.0,427.1 1340.0,424.9 1350.0,422.7 1360.0,421.2 1370.0,420.7 1380.0,420.1 1390.0,419.6 1400.0,419.1 1410.0,418.7 1420.0,418.3 1430.0,417.9 1440.0,417.5 1450.0,417.1 1460.0,416.7 1470.0,416.7 1480.0,416.7 1480.0,950.0 540.0,950.0" fill="rgb(106,14,11)"/>
<polygon points="540.0,445.8 550.0,445.8 560.0,445.8 570.0,445.8 580.0,445.8 590.0,445.8 600.0,445.8 610.0,445.5 620.0,445.1 630.0,444.8 640.0,444.4 650.0,444.1 660.0,443.7 670.0,441.2 680.0,438.4 690.0,435.7 700.0,430.3 710.0,426.8 720.0,424.8 730.0,422.7 740.0,421.5 750.0,420.5 760.0,419.5 770.0,418.8 780.0,418.1 790.0,417.4 800.0,416.7 810.0,416.0 820.0,415.3 830.0,417.5 840.0,417.5 850.0,417.5 860.0,417.5 870.0,417.9 880.0,418.7 890.0,419.5 900.0,420.3 910.0,420.9 920.0,421.5 930.0,422.1 940.0,422.7 950.0,423.7 960.0,424.7 970.0,425.4 980.0,426.1 990.0,426.8 1000.0,427.5 1010.0,433.2 1020.0,438.9 1030.0,439.7 1040.0,439.8 1050.0,439.9 1060.0,440.0 1070.0,438.9 1080.0,437.8 1090.0,436.8 1100.0,435.7 1110.0,434.8 1120.0,433.9 1130.0,433.0 1140.0,434.9 1150.0,436.8 1160.0,438.7 1170.0,441.3 1180.0,444.0 1190.0,446.7 1200.0,449.3 1210.0,451.2 1220.0,453.0 1230.0,454.8 1240.0,452.8 1250.0,450.3 1260.0,447.9 1270.0,444.9 1280.0,441.5 1290.0,438.1 1300.0,436.4 1310.0,434.6 1320.0,432.7 1330.0,430.9 1340.0,429.1 1350.0,427.3 1360.0,426.5 1370.0,426.2 1380.0,425.8 1390.0,425.4 1400.0,425.1 1410.0,424.8 1420.0,424.5 1430.0,424.2 1440.0,423.9 1450.0,423.6 1460.0,423.3 1470.0,423.3 1480.0,423.3 1480.0,950.0 540.0,950.0" fill="rgb(105,14,11)"/>
<polygon points="540.0,450.0 550.0,450.0 560.0,450.0 570.0,450.0 580.0,450.0 590.0,450.0 600.0,450.0 610.0,449.7 620.0,449.3 630.0,449.0 640.0,448.7 650.0,448.4 660.0,448.0 670.0,446.4 680.0,444.6 690.0,442.8 700.0,441.0 710.0,439.8 720.0,438.5 730.0,437.2 740.0,436.0 750.0,435.0 760.0,434.0 770.0,433.0 780.0,432.0 790.0,431.0 800.0,430.0 810.0,428.0 820.0,426.0 830.0,424.0 840.0,424.0 850.0,424.0 860.0,424.0 870.0,424.5 880.0,425.0 890.0,425.5 900.0,426.0 910.0,426.5 920.0,427.0 930.0,427.5 940.0,428.0 950.0,429.0 960.0,430.0 970.0,430.5 980.0,431.0 990.0,431.5 1000.0,432.0 1010.0,438.0 1020.0,444.0 1030.0,444.0 1040.0,444.0 1050.0,444.0 1060.0,444.0 1070.0,442.5 1080.0,441.0 1090.0,439.5 1100.0,438.0 1110.0,436.7 1120.0,435.3 1130.0,434.0 1140.0,436.0 1150.0,438.0 1160.0,440.0 1170.0,443.0 1180.0,446.0 1190.0,449.0 1200.0,452.0 1210.0,454.0 1220.0,456.0 1230.0,458.0 1240.0,455.3 1250.0,452.7 1260.0,450.0 1270.0,446.7 1280.0,443.3 1290.0,440.0 1300.0,438.7 1310.0,437.3 1320.0,436.0 1330.0,434.7 1340.0,433.3 1350.0,432.0 1360.0,431.8 1370.0,431.6 1380.0,431.5 1390.0,431.3 1400.0,431.1 1410.0,430.9 1420.0,430.7 1430.0,430.5 1440.0,430.4 1450.0,430.2 1460.0,430.0 1470.0,430.0 1480.0,430.0 1480.0,950.0 540.0,950.0" fill="rgb(104,14,11)"/>
<polygon points="540.0,452.0 550.0,452.0 560.0,452.0 570.0,452.0 580.0,452.0 590.0,452.0 600.0,452.0 610.0,451.6 620.0,451.3 630.0,450.9 640.0,450.5 650.0,450.2 660.0,449.8 670.0,448.3 680.0,446.7 690.0,445.1 700.0,443.5 710.0,442.5 720.0,441.4 730.0,440.4 740.0,439.3 750.0,438.6 760.0,437.9 770.0,437.2 780.0,436.4 790.0,435.7 800.0,435.0 810.0,433.3 820.0,431.6 830.0,429.8 840.0,429.8 850.0,429.7 860.0,429.7 870.0,430.1 880.0,430.5 890.0,430.9 900.0,431.3 910.0,431.8 920.0,432.3 930.0,432.8 940.0,433.3 950.0,434.2 960.0,435.0 970.0,435.4 980.0,435.8 990.0,436.2 1000.0,436.7 1010.0,441.8 1020.0,447.0 1030.0,447.2 1040.0,447.3 1050.0,448.0 1060.0,448.7 1070.0,447.2 1080.0,445.8 1090.0,444.4 1100.0,443.0 1110.0,441.6 1120.0,440.1 1130.0,438.7 1140.0,440.6 1150.0,442.4 1160.0,444.3 1170.0,447.2 1180.0,450.2 1190.0,453.1 1200.0,456.0 1210.0,457.8 1220.0,459.5 1230.0,461.2 1240.0,459.1 1250.0,456.4 1260.0,453.8 1270.0,450.6 1280.0,446.9 1290.0,443.3 1300.0,442.2 1310.0,441.0 1320.0,439.9 1330.0,438.7 1340.0,437.5 1350.0,436.4 1360.0,436.2 1370.0,436.0 1380.0,435.8 1390.0,435.6 1400.0,435.4 1410.0,435.2 1420.0,435.0 1430.0,434.8 1440.0,434.6 1450.0,434.4 1460.0,434.2 1470.0,434.2 1480.0,434.2 1480.0,950.0 540.0,950.0" fill="rgb(103,14,11)"/>
<polygon points="540.0,454.0 550.0,454.0 560.0,454.0 570.0,454.0 580.0,454.0 590.0,454.0 600.0,454.0 610.0,453.6 620.0,453.2 630.0,452.8 640.0,452.4 650.0,452.0 660.0,451.5 670.0,450.3 680.0,448.9 690.0,447.5 700.0,446.1 710.0,445.2 720.0,444.3 730.0,443.5 740.0,442.7 750.0,442.2 760.0,441.8 770.0,441.3 780.0,440.9 790.0,440.4 800.0,440.0 810.0,438.6 820.0,437.1 830.0,435.7 840.0,435.6 850.0,435.4 860.0,435.3 870.0,435.7 880.0,436.0 890.0,436.3 900.0,436.7 910.0,437.2 920.0,437.7 930.0,438.2 940.0,438.7 950.0,439.3 960.0,440.0 970.0,440.3 980.0,440.7 990.0,441.0 1000.0,441.3 1010.0,445.7 1020.0,450.0 1030.0,450.3 1040.0,450.7 1050.0,452.0 1060.0,453.3 1070.0,452.0 1080.0,450.7 1090.0,449.3 1100.0,448.0 1110.0,446.4 1120.0,444.9 1130.0,443.3 1140.0,445.1 1150.0,446.9 1160.0,448.7 1170.0,451.5 1180.0,454.3 1190.0,457.2 1200.0,460.0 1210.0,461.5 1220.0,463.0 1230.0,464.5 1240.0,462.9 1250.0,460.2 1260.0,457.6 1270.0,454.4 1280.0,450.6 1290.0,446.7 1300.0,445.7 1310.0,444.7 1320.0,443.7 1330.0,442.7 1340.0,441.7 1350.0,440.7 1360.0,440.5 1370.0,440.3 1380.0,440.1 1390.0,439.9 1400.0,439.6 1410.0,439.4 1420.0,439.2 1430.0,439.0 1440.0,438.8 1450.0,438.6 1460.0,438.3 1470.0,438.3 1480.0,438.3 1480.0,950.0 540.0,950.0" fill="rgb(102,14,11)"/>
<polygon points="540.0,456.0 550.0,456.0 560.0,456.0 570.0,456.0 580.0,456.0 590.0,456.0 600.0,456.0 610.0,455.6 620.0,455.1 630.0,454.7 640.0,454.2 650.0,453.8 660.0,453.3 670.0,452.2 680.0,451.0 690.0,449.8 700.0,448.6 710.0,447.9 720.0,447.2 730.0,446.6 740.0,446.0 750.0,445.8 760.0,445.7 770.0,445.5 780.0,445.3 790.0,445.2 800.0,445.0 810.0,443.8 820.0,442.7 830.0,441.5 840.0,441.3 850.0,441.2 860.0,441.0 870.0,441.2 880.0,441.5 890.0,441.8 900.0,442.0 910.0,442.5 920.0,443.0 930.0,443.5 940.0,444.0 950.0,444.5 960.0,445.0 970.0,445.2 980.0,445.5 990.0,445.8 1000.0,446.0 1010.0,449.5 1020.0,453.0 1030.0,453.5 1040.0,454.0 1050.0,456.0 1060.0,458.0 1070.0,456.8 1080.0,455.5 1090.0,454.2 1100.0,453.0 1110.0,451.3 1120.0,449.7 1130.0,448.0 1140.0,449.7 1150.0,451.3 1160.0,453.0 1170.0,455.8 1180.0,458.5 1190.0,461.2 1200.0,464.0 1210.0,465.2 1220.0,466.5 1230.0,467.8 1240.0,466.7 1250.0,464.0 1260.0,461.3 1270.0,458.3 1280.0,454.2 1290.0,450.0 1300.0,449.2 1310.0,448.4 1320.0,447.6 1330.0,446.7 1340.0,445.9 1350.0,445.1 1360.0,444.9 1370.0,444.6 1380.0,444.4 1390.0,444.2 1400.0,443.9 1410.0,443.7 1420.0,443.5 1430.0,443.2 1440.0,443.0 1450.0,442.7 1460.0,442.5 1470.0,442.5 1480.0,442.5 1480.0,950.0 540.0,950.0" fill="rgb(101,14,11)"/>
<polygon points="540.0,458.0 550.0,458.0 560.0,458.0 570.0,458.0 580.0,458.0 590.0,458.0 600.0,458.0 610.0,457.5 620.0,457.0 630.0,456.5 640.0,456.0 650.0,455.5 660.0,455.1 670.0,454.1 680.0,453.1 690.0,452.2 700.0,451.2 710.0,450.6 720.0,450.2 730.0,449.8 740.0,449.3 750.0,449.4 760.0,449.6 770.0,449.7 780.0,449.8 790.0,449.9 800.0,450.0 810.0,449.1 820.0,448.2 830.0,447.3 840.0,447.1 850.0,446.9 860.0,446.7 870.0,446.8 880.0,447.0 890.0,447.2 900.0,447.3 910.0,447.8 920.0,448.3 930.0,448.8 940.0,449.3 950.0,449.7 960.0,450.0 970.0,450.2 980.0,450.3 990.0,450.5 1000.0,450.7 1010.0,453.3 1020.0,456.0 1030.0,456.7 1040.0,457.3 1050.0,460.0 1060.0,462.7 1070.0,461.5 1080.0,460.3 1090.0,459.2 1100.0,458.0 1110.0,456.2 1120.0,454.4 1130.0,452.7 1140.0,454.2 1150.0,455.8 1160.0,457.3 1170.0,460.0 1180.0,462.7 1190.0,465.3 1200.0,468.0 1210.0,469.0 1220.0,470.0 1230.0,471.0 1240.0,470.4 1250.0,467.8 1260.0,465.1 1270.0,462.2 1280.0,457.8 1290.0,453.3 1300.0,452.7 1310.0,452.1 1320.0,451.4 1330.0,450.8 1340.0,450.1 1350.0,449.5 1360.0,449.2 1370.0,449.0 1380.0,448.7 1390.0,448.5 1400.0,448.2 1410.0,448.0 1420.0,447.7 1430.0,447.4 1440.0,447.2 1450.0,446.9 1460.0,446.7 1470.0,446.7 1480.0,446.7 1480.0,950.0 540.0,950.0" fill="rgb(100,14,11)"/>
<polygon points="540.0,460.0 550.0,460.0 560.0,460.0 570.0,460.0 580.0,460.0 590.0,460.0 600.0,460.0 610.0,459.5 620.0,458.9 630.0,458.4 640.0,457.9 650.0,457.3 660.0,456.8 670.0,456.1 680.0,455.3 690.0,454.5 700.0,453.7 710.0,453.3 720.0,453.1 730.0,452.9 740.0,452.7 750.0,453.1 760.0,453.4 770.0,453.8 780.0,454.2 790.0,454.6 800.0,455.0 810.0,454.4 820.0,453.8 830.0,453.2 840.0,452.9 850.0,452.6 860.0,452.3 870.0,452.4 880.0,452.5 890.0,452.6 900.0,452.7 910.0,453.2 920.0,453.7 930.0,454.2 940.0,454.7 950.0,454.8 960.0,455.0 970.0,455.1 980.0,455.2 990.0,455.2 1000.0,455.3 1010.0,457.2 1020.0,459.0 1030.0,459.8 1040.0,460.7 1050.0,464.0 1060.0,467.3 1070.0,466.2 1080.0,465.2 1090.0,464.1 1100.0,463.0 1110.0,461.1 1120.0,459.2 1130.0,457.3 1140.0,458.8 1150.0,460.2 1160.0,461.7 1170.0,464.2 1180.0,466.8 1190.0,469.4 1200.0,472.0 1210.0,472.8 1220.0,473.5 1230.0,474.2 1240.0,474.2 1250.0,471.6 1260.0,468.9 1270.0,466.1 1280.0,461.4 1290.0,456.7 1300.0,456.2 1310.0,455.7 1320.0,455.3 1330.0,454.8 1340.0,454.3 1350.0,453.9 1360.0,453.6 1370.0,453.3 1380.0,453.0 1390.0,452.8 1400.0,452.5 1410.0,452.2 1420.0,451.9 1430.0,451.7 1440.0,451.4 1450.0,451.1 1460.0,450.8 1470.0,450.8 1480.0,450.8 1480.0,950.0 540.0,950.0" fill="rgb(99,14,11)"/>
<polygon points="540.0,462.0 550.0,462.0 560.0,462.0 570.0,462.0 580.0,462.0 590.0,462.0 600.0,462.0 610.0,461.4 620.0,460.9 630.0,460.3 640.0,459.7 650.0,459.1 660.0,458.6 670.0,458.0 680.0,457.4 690.0,456.9 700.0,456.3 710.0,456.0 720.0,456.0 730.0,456.0 740.0,456.0 750.0,456.7 760.0,457.3 770.0,458.0 780.0,458.7 790.0,459.3 800.0,460.0 810.0,459.7 820.0,459.3 830.0,459.0 840.0,458.7 850.0,458.3 860.0,458.0 870.0,458.0 880.0,458.0 890.0,458.0 900.0,458.0 910.0,458.5 920.0,459.0 930.0,459.5 940.0,460.0 950.0,460.0 960.0,460.0 970.0,460.0 980.0,460.0 990.0,460.0 1000.0,460.0 1010.0,461.0 1020.0,462.0 1030.0,463.0 1040.0,464.0 1050.0,468.0 1060.0,472.0 1070.0,471.0 1080.0,470.0 1090.0,469.0 1100.0,468.0 1110.0,466.0 1120.0,464.0 1130.0,462.0 1140.0,463.3 1150.0,464.7 1160.0,466.0 1170.0,468.5 1180.0,471.0 1190.0,473.5 1200.0,476.0 1210.0,476.5 1220.0,477.0 1230.0,477.5 1240.0,478.0 1250.0,475.3 1260.0,472.7 1270.0,470.0 1280.0,465.0 1290.0,460.0 1300.0,459.7 1310.0,459.4 1320.0,459.1 1330.0,458.8 1340.0,458.5 1350.0,458.2 1360.0,457.9 1370.0,457.6 1380.0,457.4 1390.0,457.1 1400.0,456.8 1410.0,456.5 1420.0,456.2 1430.0,455.9 1440.0,455.6 1450.0,455.3 1460.0,455.0 1470.0,455.0 1480.0,455.0 1480.0,950.0 540.0,950.0" fill="rgb(98,14,11)"/>
<polygon points="540.0,465.8 550.0,465.8 560.0,465.8 570.0,465.8 580.0,465.8 590.0,465.8 600.0,465.8 610.0,465.3 620.0,464.8 630.0,464.3 640.0,463.7 650.0,463.2 660.0,462.7 670.0,462.1 680.0,461.6 690.0,461.1 700.0,460.6 710.0,460.3 720.0,460.2 730.0,460.2 740.0,460.2 750.0,460.7 760.0,461.2 770.0,461.7 780.0,462.2 790.0,462.8 800.0,463.4 810.0,463.2 820.0,463.0 830.0,462.7 840.0,462.5 850.0,462.3 860.0,462.3 870.0,462.5 880.0,462.8 890.0,463.1 900.0,463.3 910.0,463.8 920.0,464.3 930.0,464.8 940.0,465.3 950.0,465.3 960.0,465.4 970.0,465.5 980.0,465.6 990.0,465.7 1000.0,465.8 1010.0,466.7 1020.0,467.6 1030.0,468.5 1040.0,469.4 1050.0,472.8 1060.0,476.1 1070.0,475.2 1080.0,474.3 1090.0,473.4 1100.0,472.5 1110.0,470.7 1120.0,468.9 1130.0,467.1 1140.0,468.1 1150.0,469.6 1160.0,471.0 1170.0,473.4 1180.0,475.8 1190.0,477.8 1200.0,479.8 1210.0,480.2 1220.0,480.5 1230.0,480.5 1240.0,480.5 1250.0,477.9 1260.0,475.2 1270.0,472.2 1280.0,467.2 1290.0,462.9 1300.0,462.6 1310.0,462.3 1320.0,462.0 1330.0,461.6 1340.0,461.3 1350.0,461.0 1360.0,460.7 1370.0,460.4 1380.0,460.1 1390.0,459.7 1400.0,459.4 1410.0,459.1 1420.0,458.8 1430.0,458.5 1440.0,458.1 1450.0,457.8 1460.0,457.5 1470.0,457.5 1480.0,457.5 1480.0,950.0 540.0,950.0" fill="rgb(97,14,11)"/>
<polygon points="540.0,469.7 550.0,469.7 560.0,469.7 570.0,469.7 580.0,469.7 590.0,469.7 600.0,469.7 610.0,469.2 620.0,468.7 630.0,468.2 640.0,467.7 650.0,467.3 660.0,466.8 670.0,466.3 680.0,465.8 690.0,465.3 700.0,464.9 710.0,464.6 720.0,464.5 730.0,464.4 740.0,464.3 750.0,464.7 760.0,465.0 770.0,465.4 780.0,465.8 790.0,466.4 800.0,466.9 810.0,466.8 820.0,466.6 830.0,466.5 840.0,466.4 850.0,466.2 860.0,466.5 870.0,467.1 880.0,467.6 890.0,468.1 900.0,468.7 910.0,469.1 920.0,469.6 930.0,470.1 940.0,470.5 950.0,470.7 960.0,470.9 970.0,471.1 980.0,471.3 990.0,471.5 1000.0,471.7 1010.0,472.5 1020.0,473.3 1030.0,474.1 1040.0,474.9 1050.0,477.7 1060.0,480.2 1070.0,479.4 1080.0,478.6 1090.0,477.8 1100.0,477.0 1110.0,475.4 1120.0,473.8 1130.0,472.2 1140.0,472.9 1150.0,474.4 1160.0,476.0 1170.0,478.3 1180.0,480.7 1190.0,482.2 1200.0,483.7 1210.0,483.8 1220.0,484.0 1230.0,483.5 1240.0,483.0 1250.0,480.4 1260.0,477.8 1270.0,474.3 1280.0,469.3 1290.0,465.9 1300.0,465.5 1310.0,465.2 1320.0,464.8 1330.0,464.5 1340.0,464.1 1350.0,463.8 1360.0,463.4 1370.0,463.1 1380.0,462.8 1390.0,462.4 1400.0,462.1 1410.0,461.7 1420.0,461.4 1430.0,461.0 1440.0,460.7 1450.0,460.3 1460.0,460.0 1470.0,460.0 1480.0,460.0 1480.0,950.0 540.0,950.0" fill="rgb(96,14,11)"/>
<polygon points="540.0,473.5 550.0,473.5 560.0,473.5 570.0,473.5 580.0,473.5 590.0,473.5 600.0,473.5 610.0,473.1 620.0,472.6 630.0,472.2 640.0,471.8 650.0,471.3 660.0,470.9 670.0,470.4 680.0,470.0 690.0,469.6 700.0,469.1 710.0,468.9 720.0,468.7 730.0,468.6 740.0,468.5 750.0,468.7 760.0,468.9 770.0,469.1 780.0,469.4 790.0,469.9 800.0,470.3 810.0,470.3 820.0,470.3 830.0,470.2 840.0,470.2 850.0,470.2 860.0,470.8 870.0,471.6 880.0,472.4 890.0,473.2 900.0,474.0 910.0,474.4 920.0,474.9 930.0,475.4 940.0,475.8 950.0,476.0 960.0,476.3 970.0,476.6 980.0,476.9 990.0,477.2 1000.0,477.5 1010.0,478.2 1020.0,478.9 1030.0,479.6 1040.0,480.3 1050.0,482.5 1060.0,484.3 1070.0,483.6 1080.0,482.9 1090.0,482.2 1100.0,481.5 1110.0,480.1 1120.0,478.8 1130.0,477.4 1140.0,477.7 1150.0,479.3 1160.0,481.0 1170.0,483.2 1180.0,485.5 1190.0,486.5 1200.0,487.5 1210.0,487.5 1220.0,487.5 1230.0,486.5 1240.0,485.5 1250.0,482.9 1260.0,480.3 1270.0,476.5 1280.0,471.5 1290.0,468.8 1300.0,468.4 1310.0,468.0 1320.0,467.7 1330.0,467.3 1340.0,466.9 1350.0,466.6 1360.0,466.2 1370.0,465.8 1380.0,465.5 1390.0,465.1 1400.0,464.7 1410.0,464.3 1420.0,464.0 1430.0,463.6 1440.0,463.2 1450.0,462.9 1460.0,462.5 1470.0,462.5 1480.0,462.5 1480.0,950.0 540.0,950.0" fill="rgb(95,14,11)"/>
<polygon points="540.0,477.3 550.0,477.3 560.0,477.3 570.0,477.3 580.0,477.3 590.0,477.3 600.0,477.3 610.0,476.9 620.0,476.6 630.0,476.2 640.0,475.8 650.0,475.4 660.0,475.0 670.0,474.6 680.0,474.2 690.0,473.8 700.0,473.4 710.0,473.2 720.0,473.0 730.0,472.8 740.0,472.6 750.0,472.7 760.0,472.7 770.0,472.8 780.0,473.0 790.0,473.4 800.0,473.8 810.0,473.8 820.0,473.9 830.0,474.0 840.0,474.0 850.0,474.1 860.0,475.1 870.0,476.1 880.0,477.2 890.0,478.3 900.0,479.3 910.0,479.8 920.0,480.2 930.0,480.6 940.0,481.1 950.0,481.3 960.0,481.7 970.0,482.1 980.0,482.5 990.0,482.9 1000.0,483.3 1010.0,483.9 1020.0,484.5 1030.0,485.1 1040.0,485.7 1050.0,487.3 1060.0,488.4 1070.0,487.8 1080.0,487.2 1090.0,486.6 1100.0,486.0 1110.0,484.8 1120.0,483.7 1130.0,482.5 1140.0,482.4 1150.0,484.2 1160.0,486.0 1170.0,488.2 1180.0,490.3 1190.0,490.8 1200.0,491.3 1210.0,491.2 1220.0,491.0 1230.0,489.5 1240.0,488.0 1250.0,485.4 1260.0,482.9 1270.0,478.7 1280.0,473.7 1290.0,471.7 1300.0,471.3 1310.0,470.9 1320.0,470.5 1330.0,470.1 1340.0,469.7 1350.0,469.3 1360.0,468.9 1370.0,468.5 1380.0,468.2 1390.0,467.8 1400.0,467.4 1410.0,467.0 1420.0,466.6 1430.0,466.2 1440.0,465.8 1450.0,465.4 1460.0,465.0 1470.0,465.0 1480.0,465.0 1480.0,950.0 540.0,950.0" fill="rgb(94,14,11)"/>
<polygon points="540.0,481.2 550.0,481.2 560.0,481.2 570.0,481.2 580.0,481.2 590.0,481.2 600.0,481.2 610.0,480.8 620.0,480.5 630.0,480.1 640.0,479.8 650.0,479.4 660.0,479.1 670.0,478.8 680.0,478.4 690.0,478.1 700.0,477.7 710.0,477.4 720.0,477.2 730.0,477.0 740.0,476.8 750.0,476.7 760.0,476.6 770.0,476.4 780.0,476.6 790.0,476.9 800.0,477.2 810.0,477.4 820.0,477.6 830.0,477.7 840.0,477.9 850.0,478.1 860.0,479.3 870.0,480.7 880.0,482.0 890.0,483.3 900.0,484.7 910.0,485.1 920.0,485.5 930.0,485.9 940.0,486.3 950.0,486.7 960.0,487.2 970.0,487.7 980.0,488.2 990.0,488.7 1000.0,489.2 1010.0,489.7 1020.0,490.2 1030.0,490.7 1040.0,491.2 1050.0,492.2 1060.0,492.5 1070.0,492.0 1080.0,491.5 1090.0,491.0 1100.0,490.5 1110.0,489.5 1120.0,488.6 1130.0,487.6 1140.0,487.2 1150.0,489.1 1160.0,491.0 1170.0,493.1 1180.0,495.2 1190.0,495.2 1200.0,495.2 1210.0,494.8 1220.0,494.5 1230.0,492.5 1240.0,490.5 1250.0,488.0 1260.0,485.4 1270.0,480.8 1280.0,475.8 1290.0,474.6 1300.0,474.2 1310.0,473.8 1320.0,473.4 1330.0,473.0 1340.0,472.5 1350.0,472.1 1360.0,471.7 1370.0,471.3 1380.0,470.9 1390.0,470.4 1400.0,470.0 1410.0,469.6 1420.0,469.2 1430.0,468.8 1440.0,468.3 1450.0,467.9 1460.0,467.5 1470.0,467.5 1480.0,467.5 1480.0,950.0 540.0,950.0" fill="rgb(93,14,11)"/>
<polygon points="540.0,485.0 550.0,485.0 560.0,485.0 570.0,485.0 580.0,485.0 590.0,485.0 600.0,485.0 610.0,484.7 620.0,484.4 630.0,484.1 640.0,483.8 650.0,483.5 660.0,483.2 670.0,482.9 680.0,482.6 690.0,482.3 700.0,482.0 710.0,481.7 720.0,481.5 730.0,481.2 740.0,480.9 750.0,480.7 760.0,480.4 770.0,480.1 780.0,480.1 790.0,480.4 800.0,480.7 810.0,480.9 820.0,481.2 830.0,481.5 840.0,481.7 850.0,482.0 860.0,483.6 870.0,485.2 880.0,486.8 890.0,488.4 900.0,490.0 910.0,490.4 920.0,490.8 930.0,491.2 940.0,491.6 950.0,492.0 960.0,492.6 970.0,493.2 980.0,493.8 990.0,494.4 1000.0,495.0 1010.0,495.4 1020.0,495.8 1030.0,496.2 1040.0,496.6 1050.0,497.0 1060.0,496.6 1070.0,496.2 1080.0,495.8 1090.0,495.4 1100.0,495.0 1110.0,494.2 1120.0,493.5 1130.0,492.8 1140.0,492.0 1150.0,494.0 1160.0,496.0 1170.0,498.0 1180.0,500.0 1190.0,499.5 1200.0,499.0 1210.0,498.5 1220.0,498.0 1230.0,495.5 1240.0,493.0 1250.0,490.5 1260.0,488.0 1270.0,483.0 1280.0,478.0 1290.0,477.6 1300.0,477.1 1310.0,476.7 1320.0,476.2 1330.0,475.8 1340.0,475.3 1350.0,474.9 1360.0,474.4 1370.0,474.0 1380.0,473.6 1390.0,473.1 1400.0,472.7 1410.0,472.2 1420.0,471.8 1430.0,471.3 1440.0,470.9 1450.0,470.4 1460.0,470.0 1470.0,470.0 1480.0,470.0 1480.0,950.0 540.0,950.0" fill="rgb(92,14,11)"/>
<polygon points="540.0,487.5 550.0,487.5 560.0,487.5 570.0,487.5 580.0,487.5 590.0,487.5 600.0,487.5 610.0,487.2 620.0,486.9 630.0,486.6 640.0,486.3 650.0,486.0 660.0,485.7 670.0,485.4 680.0,485.1 690.0,484.8 700.0,484.5 710.0,484.2 720.0,484.0 730.0,483.7 740.0,483.4 750.0,483.2 760.0,482.9 770.0,482.6 780.0,482.6 790.0,482.9 800.0,483.2 810.0,483.4 820.0,483.7 830.0,484.0 840.0,484.2 850.0,484.5 860.0,486.0 870.0,487.5 880.0,489.0 890.0,490.5 900.0,492.0 910.0,492.5 920.0,493.0 930.0,493.5 940.0,494.0 950.0,494.5 960.0,495.1 970.0,495.7 980.0,496.3 990.0,496.9 1000.0,497.5 1010.0,497.9 1020.0,498.3 1030.0,498.7 1040.0,499.1 1050.0,499.5 1060.0,499.1 1070.0,498.7 1080.0,498.3 1090.0,497.9 1100.0,497.5 1110.0,496.8 1120.0,496.1 1130.0,495.4 1140.0,494.7 1150.0,496.3 1160.0,498.1 1170.0,499.9 1180.0,501.7 1190.0,501.4 1200.0,501.2 1210.0,500.5 1220.0,499.8 1230.0,497.5 1240.0,495.2 1250.0,492.6 1260.0,489.9 1270.0,485.2 1280.0,480.3 1290.0,479.6 1300.0,479.2 1310.0,478.8 1320.0,478.4 1330.0,477.9 1340.0,477.5 1350.0,477.1 1360.0,476.7 1370.0,476.3 1380.0,475.8 1390.0,475.4 1400.0,475.0 1410.0,474.6 1420.0,474.2 1430.0,473.8 1440.0,473.3 1450.0,472.9 1460.0,472.5 1470.0,472.5 1480.0,472.5 1480.0,950.0 540.0,950.0" fill="rgb(91,14,11)"/>
<polygon points="540.0,490.0 550.0,490.0 560.0,490.0 570.0,490.0 580.0,490.0 590.0,490.0 600.0,490.0 610.0,489.7 620.0,489.4 630.0,489.1 640.0,488.8 650.0,488.5 660.0,488.2 670.0,487.9 680.0,487.6 690.0,487.3 700.0,487.0 710.0,486.7 720.0,486.5 730.0,486.2 740.0,485.9 750.0,485.7 760.0,485.4 770.0,485.1 780.0,485.1 790.0,485.4 800.0,485.7 810.0,485.9 820.0,486.2 830.0,486.5 840.0,486.7 850.0,487.0 860.0,488.4 870.0,489.8 880.0,491.2 890.0,492.6 900.0,494.0 910.0,494.6 920.0,495.2 930.0,495.8 940.0,496.4 950.0,497.0 960.0,497.6 970.0,498.2 980.0,498.8 990.0,499.4 1000.0,500.0 1010.0,500.4 1020.0,500.8 1030.0,501.2 1040.0,501.6 1050.0,502.0 1060.0,501.6 1070.0,501.2 1080.0,500.8 1090.0,500.4 1100.0,500.0 1110.0,499.4 1120.0,498.7 1130.0,498.1 1140.0,497.5 1150.0,498.7 1160.0,500.3 1170.0,501.9 1180.0,503.5 1190.0,503.4 1200.0,503.3 1210.0,502.5 1220.0,501.7 1230.0,499.5 1240.0,497.3 1250.0,494.6 1260.0,491.9 1270.0,487.3 1280.0,482.7 1290.0,481.7 1300.0,481.3 1310.0,480.9 1320.0,480.5 1330.0,480.1 1340.0,479.7 1350.0,479.3 1360.0,478.9 1370.0,478.5 1380.0,478.1 1390.0,477.7 1400.0,477.3 1410.0,477.0 1420.0,476.6 1430.0,476.2 1440.0,475.8 1450.0,475.4 1460.0,475.0 1470.0,475.0 1480.0,475.0 1480.0,950.0 540.0,950.0" fill="rgb(90,14,11)"/>
<polygon points="540.0,492.5 550.0,492.5 560.0,492.5 570.0,492.5 580.0,492.5 590.0,492.5 600.0,492.5 610.0,492.2 620.0,491.9 630.0,491.6 640.0,491.3 650.0,491.0 660.0,490.7 670.0,490.4 680.0,490.1 690.0,489.8 700.0,489.5 710.0,489.2 720.0,489.0 730.0,488.7 740.0,488.4 750.0,488.2 760.0,487.9 770.0,487.6 780.0,487.6 790.0,487.9 800.0,488.2 810.0,488.4 820.0,488.7 830.0,489.0 840.0,489.2 850.0,489.5 860.0,490.8 870.0,492.1 880.0,493.4 890.0,494.7 900.0,496.0 910.0,496.7 920.0,497.4 930.0,498.1 940.0,498.8 950.0,499.5 960.0,500.1 970.0,500.7 980.0,501.3 990.0,501.9 1000.0,502.5 1010.0,502.9 1020.0,503.3 1030.0,503.7 1040.0,504.1 1050.0,504.5 1060.0,504.1 1070.0,503.7 1080.0,503.3 1090.0,502.9 1100.0,502.5 1110.0,501.9 1120.0,501.4 1130.0,500.8 1140.0,500.2 1150.0,501.0 1160.0,502.4 1170.0,503.8 1180.0,505.2 1190.0,505.4 1200.0,505.5 1210.0,504.5 1220.0,503.5 1230.0,501.5 1240.0,499.5 1250.0,496.6 1260.0,493.8 1270.0,489.5 1280.0,485.0 1290.0,483.7 1300.0,483.3 1310.0,483.0 1320.0,482.6 1330.0,482.2 1340.0,481.9 1350.0,481.5 1360.0,481.2 1370.0,480.8 1380.0,480.4 1390.0,480.1 1400.0,479.7 1410.0,479.3 1420.0,479.0 1430.0,478.6 1440.0,478.2 1450.0,477.9 1460.0,477.5 1470.0,477.5 1480.0,477.5 1480.0,950.0 540.0,950.0" fill="rgb(89,14,11)"/>
<polygon points="540.0,495.0 550.0,495.0 560.0,495.0 570.0,495.0 580.0,495.0 590.0,495.0 600.0,495.0 610.0,494.7 620.0,494.4 630.0,494.1 640.0,493.8 650.0,493.5 660.0,493.2 670.0,492.9 680.0,492.6 690.0,492.3 700.0,492.0 710.0,491.7 720.0,491.5 730.0,491.2 740.0,490.9 750.0,490.7 760.0,490.4 770.0,490.1 780.0,490.1 790.0,490.4 800.0,490.7 810.0,490.9 820.0,491.2 830.0,491.5 840.0,491.7 850.0,492.0 860.0,493.2 870.0,494.4 880.0,495.6 890.0,496.8 900.0,498.0 910.0,498.8 920.0,499.6 930.0,500.4 940.0,501.2 950.0,502.0 960.0,502.6 970.0,503.2 980.0,503.8 990.0,504.4 1000.0,505.0 1010.0,505.4 1020.0,505.8 1030.0,506.2 1040.0,506.6 1050.0,507.0 1060.0,506.6 1070.0,506.2 1080.0,505.8 1090.0,505.4 1100.0,505.0 1110.0,504.5 1120.0,504.0 1130.0,503.4 1140.0,502.9 1150.0,503.3 1160.0,504.5 1170.0,505.7 1180.0,506.9 1190.0,507.3 1200.0,507.7 1210.0,506.5 1220.0,505.3 1230.0,503.5 1240.0,501.7 1250.0,498.7 1260.0,495.7 1270.0,491.7 1280.0,487.3 1290.0,485.8 1300.0,485.4 1310.0,485.1 1320.0,484.7 1330.0,484.4 1340.0,484.1 1350.0,483.7 1360.0,483.4 1370.0,483.0 1380.0,482.7 1390.0,482.4 1400.0,482.0 1410.0,481.7 1420.0,481.4 1430.0,481.0 1440.0,480.7 1450.0,480.3 1460.0,480.0 1470.0,480.0 1480.0,480.0 1480.0,950.0 540.0,950.0" fill="rgb(88,14,11)"/>
<polygon points="540.0,497.5 550.0,497.5 560.0,497.5 570.0,497.5 580.0,497.5 590.0,497.5 600.0,497.5 610.0,497.2 620.0,496.9 630.0,496.6 640.0,496.3 650.0,496.0 660.0,495.7 670.0,495.4 680.0,495.1 690.0,494.8 700.0,494.5 710.0,494.2 720.0,494.0 730.0,493.7 740.0,493.4 750.0,493.2 760.0,492.9 770.0,492.6 780.0,492.6 790.0,492.9 800.0,493.2 810.0,493.4 820.0,493.7 830.0,494.0 840.0,494.2 850.0,494.5 860.0,495.6 870.0,496.7 880.0,497.8 890.0,498.9 900.0,500.0 910.0,500.9 920.0,501.8 930.0,502.7 940.0,503.6 950.0,504.5 960.0,505.1 970.0,505.7 980.0,506.3 990.0,506.9 1000.0,507.5 1010.0,507.9 1020.0,508.3 1030.0,508.7 1040.0,509.1 1050.0,509.5 1060.0,509.1 1070.0,508.7 1080.0,508.3 1090.0,507.9 1100.0,507.5 1110.0,507.0 1120.0,506.6 1130.0,506.1 1140.0,505.7 1150.0,505.7 1160.0,506.7 1170.0,507.7 1180.0,508.7 1190.0,509.2 1200.0,509.8 1210.0,508.5 1220.0,507.2 1230.0,505.5 1240.0,503.8 1250.0,500.8 1260.0,497.7 1270.0,493.8 1280.0,489.7 1290.0,487.8 1300.0,487.5 1310.0,487.2 1320.0,486.9 1330.0,486.6 1340.0,486.2 1350.0,485.9 1360.0,485.6 1370.0,485.3 1380.0,485.0 1390.0,484.7 1400.0,484.4 1410.0,484.1 1420.0,483.7 1430.0,483.4 1440.0,483.1 1450.0,482.8 1460.0,482.5 1470.0,482.5 1480.0,482.5 1480.0,950.0 540.0,950.0" fill="rgb(87,14,11)"/>
<polygon points="540.0,500.0 550.0,500.0 560.0,500.0 570.0,500.0 580.0,500.0 590.0,500.0 600.0,500.0 610.0,499.7 620.0,499.4 630.0,499.1 640.0,498.8 650.0,498.5 660.0,498.2 670.0,497.9 680.0,497.6 690.0,497.3 700.0,497.0 710.0,496.7 720.0,496.5 730.0,496.2 740.0,495.9 750.0,495.7 760.0,495.4 770.0,495.1 780.0,495.1 790.0,495.4 800.0,495.7 810.0,495.9 820.0,496.2 830.0,496.5 840.0,496.7 850.0,497.0 860.0,498.0 870.0,499.0 880.0,500.0 890.0,501.0 900.0,502.0 910.0,503.0 920.0,504.0 930.0,505.0 940.0,506.0 950.0,507.0 960.0,507.6 970.0,508.2 980.0,508.8 990.0,509.4 1000.0,510.0 1010.0,510.4 1020.0,510.8 1030.0,511.2 1040.0,511.6 1050.0,512.0 1060.0,511.6 1070.0,511.2 1080.0,510.8 1090.0,510.4 1100.0,510.0 1110.0,509.6 1120.0,509.2 1130.0,508.8 1140.0,508.4 1150.0,508.0 1160.0,508.8 1170.0,509.6 1180.0,510.4 1190.0,511.2 1200.0,512.0 1210.0,510.5 1220.0,509.0 1230.0,507.5 1240.0,506.0 1250.0,502.8 1260.0,499.6 1270.0,496.0 1280.0,492.0 1290.0,489.9 1300.0,489.6 1310.0,489.3 1320.0,489.0 1330.0,488.7 1340.0,488.4 1350.0,488.1 1360.0,487.9 1370.0,487.6 1380.0,487.3 1390.0,487.0 1400.0,486.7 1410.0,486.4 1420.0,486.1 1430.0,485.9 1440.0,485.6 1450.0,485.3 1460.0,485.0 1470.0,485.0 1480.0,485.0 1480.0,950.0 540.0,950.0" fill="rgb(86,14,11)"/>
<polygon points="540.0,509.3 550.0,509.3 560.0,509.3 570.0,509.3 580.0,509.3 590.0,509.3 600.0,509.3 610.0,508.9 620.0,508.5 630.0,508.1 640.0,507.7 650.0,507.1 660.0,506.6 670.0,506.1 680.0,505.6 690.0,504.5 700.0,503.3 710.0,503.1 720.0,502.9 730.0,502.7 740.0,502.4 750.0,502.2 760.0,502.0 770.0,501.8 780.0,501.8 790.0,502.0 800.0,502.2 810.0,502.4 820.0,502.7 830.0,502.9 840.0,503.1 850.0,503.3 860.0,504.5 870.0,505.7 880.0,507.0 890.0,508.5 900.0,510.0 910.0,510.3 920.0,510.6 930.0,511.1 940.0,511.8 950.0,512.5 960.0,513.1 970.0,513.8 980.0,514.2 990.0,514.3 1000.0,514.5 1010.0,514.7 1020.0,514.9 1030.0,515.3 1040.0,516.0 1050.0,516.7 1060.0,516.3 1070.0,516.0 1080.0,515.7 1090.0,515.5 1100.0,515.3 1110.0,514.7 1120.0,514.0 1130.0,513.3 1140.0,512.5 1150.0,511.7 1160.0,511.8 1170.0,511.9 1180.0,512.0 1190.0,512.0 1200.0,512.1 1210.0,510.6 1220.0,509.1 1230.0,508.2 1240.0,507.5 1250.0,505.7 1260.0,503.8 1270.0,500.8 1280.0,497.5 1290.0,495.7 1300.0,495.5 1310.0,495.2 1320.0,495.0 1330.0,494.8 1340.0,494.5 1350.0,494.3 1360.0,494.0 1370.0,493.8 1380.0,493.6 1390.0,493.3 1400.0,493.1 1410.0,492.9 1420.0,492.6 1430.0,492.4 1440.0,492.1 1450.0,491.9 1460.0,491.7 1470.0,491.7 1480.0,491.7 1480.0,950.0 540.0,950.0" fill="rgb(85,14,11)"/>
<polygon points="540.0,518.7 550.0,518.7 560.0,518.7 570.0,518.7 580.0,518.7 590.0,518.7 600.0,518.7 610.0,518.1 620.0,517.6 630.0,517.1 640.0,516.5 650.0,515.8 660.0,515.0 670.0,514.3 680.0,513.5 690.0,511.7 700.0,509.7 710.0,509.5 720.0,509.3 730.0,509.1 740.0,509.0 750.0,508.8 760.0,508.6 770.0,508.4 780.0,508.4 790.0,508.6 800.0,508.8 810.0,509.0 820.0,509.1 830.0,509.3 840.0,509.5 850.0,509.7 860.0,511.0 870.0,512.3 880.0,514.0 890.0,516.0 900.0,518.0 910.0,517.6 920.0,517.2 930.0,517.2 940.0,517.6 950.0,518.0 960.0,518.7 970.0,519.3 980.0,519.5 990.0,519.3 1000.0,519.0 1010.0,519.0 1020.0,519.0 1030.0,519.5 1040.0,520.4 1050.0,521.3 1060.0,521.1 1070.0,520.8 1080.0,520.7 1090.0,520.7 1100.0,520.7 1110.0,519.7 1120.0,518.8 1130.0,517.7 1140.0,516.5 1150.0,515.3 1160.0,514.8 1170.0,514.2 1180.0,513.6 1190.0,512.8 1200.0,512.2 1210.0,510.7 1220.0,509.2 1230.0,508.8 1240.0,509.0 1250.0,508.5 1260.0,508.1 1270.0,505.7 1280.0,503.0 1290.0,501.6 1300.0,501.4 1310.0,501.2 1320.0,501.0 1330.0,500.8 1340.0,500.6 1350.0,500.4 1360.0,500.2 1370.0,500.0 1380.0,499.9 1390.0,499.7 1400.0,499.5 1410.0,499.3 1420.0,499.1 1430.0,498.9 1440.0,498.7 1450.0,498.5 1460.0,498.3 1470.0,498.3 1480.0,498.3 1480.0,950.0 540.0,950.0" fill="rgb(85,14,11)"/>
<polygon points="540.0,528.0 550.0,528.0 560.0,528.0 570.0,528.0 580.0,528.0 590.0,528.0 600.0,528.0 610.0,527.4 620.0,526.7 630.0,526.0 640.0,525.4 650.0,524.4 660.0,523.4 670.0,522.5 680.0,521.5 690.0,518.9 700.0,516.0 710.0,515.9 720.0,515.7 730.0,515.6 740.0,515.5 750.0,515.3 760.0,515.2 770.0,515.1 780.0,515.1 790.0,515.2 800.0,515.3 810.0,515.5 820.0,515.6 830.0,515.7 840.0,515.9 850.0,516.0 860.0,517.5 870.0,519.0 880.0,521.0 890.0,523.5 900.0,526.0 910.0,524.9 920.0,523.8 930.0,523.3 940.0,523.4 950.0,523.5 960.0,524.2 970.0,524.9 980.0,524.9 990.0,524.2 1000.0,523.5 1010.0,523.3 1020.0,523.1 1030.0,523.6 1040.0,524.8 1050.0,526.0 1060.0,525.8 1070.0,525.6 1080.0,525.6 1090.0,525.8 1100.0,526.0 1110.0,524.8 1120.0,523.6 1130.0,522.2 1140.0,520.6 1150.0,519.0 1160.0,517.7 1170.0,516.5 1180.0,515.2 1190.0,513.6 1200.0,512.2 1210.0,510.8 1220.0,509.2 1230.0,509.5 1240.0,510.5 1250.0,511.4 1260.0,512.3 1270.0,510.5 1280.0,508.5 1290.0,507.4 1300.0,507.3 1310.0,507.1 1320.0,507.0 1330.0,506.9 1340.0,506.7 1350.0,506.6 1360.0,506.4 1370.0,506.3 1380.0,506.1 1390.0,506.0 1400.0,505.9 1410.0,505.7 1420.0,505.6 1430.0,505.4 1440.0,505.3 1450.0,505.1 1460.0,505.0 1470.0,505.0 1480.0,505.0 1480.0,950.0 540.0,950.0" fill="rgb(84,14,11)"/>
<polygon points="540.0,537.3 550.0,537.3 560.0,537.3 570.0,537.3 580.0,537.3 590.0,537.3 600.0,537.3 610.0,536.6 620.0,535.8 630.0,535.0 640.0,534.3 650.0,533.1 660.0,531.8 670.0,530.6 680.0,529.4 690.0,526.1 700.0,522.3 710.0,522.2 720.0,522.2 730.0,522.1 740.0,522.0 750.0,521.9 760.0,521.8 770.0,521.7 780.0,521.7 790.0,521.8 800.0,521.9 810.0,522.0 820.0,522.1 830.0,522.2 840.0,522.2 850.0,522.3 860.0,524.0 870.0,525.7 880.0,528.0 890.0,531.0 900.0,534.0 910.0,532.2 920.0,530.4 930.0,529.4 940.0,529.2 950.0,529.0 960.0,529.7 970.0,530.5 980.0,530.3 990.0,529.1 1000.0,528.0 1010.0,527.6 1020.0,527.2 1030.0,527.7 1040.0,529.2 1050.0,530.7 1060.0,530.5 1070.0,530.4 1080.0,530.5 1090.0,530.9 1100.0,531.3 1110.0,529.9 1120.0,528.4 1130.0,526.7 1140.0,524.7 1150.0,522.7 1160.0,520.7 1170.0,518.8 1180.0,516.8 1190.0,514.4 1200.0,512.3 1210.0,510.8 1220.0,509.3 1230.0,510.2 1240.0,512.0 1250.0,514.3 1260.0,516.5 1270.0,515.3 1280.0,514.0 1290.0,513.3 1300.0,513.2 1310.0,513.1 1320.0,513.0 1330.0,512.9 1340.0,512.8 1350.0,512.7 1360.0,512.6 1370.0,512.5 1380.0,512.4 1390.0,512.3 1400.0,512.2 1410.0,512.1 1420.0,512.0 1430.0,512.0 1440.0,511.9 1450.0,511.8 1460.0,511.7 1470.0,511.7 1480.0,511.7 1480.0,950.0 540.0,950.0" fill="rgb(83,14,11)"/>
<polygon points="540.0,546.7 550.0,546.7 560.0,546.7 570.0,546.7 580.0,546.7 590.0,546.7 600.0,546.7 610.0,545.8 620.0,544.9 630.0,544.0 640.0,543.1 650.0,541.7 660.0,540.3 670.0,538.8 680.0,537.4 690.0,533.3 700.0,528.7 710.0,528.6 720.0,528.6 730.0,528.5 740.0,528.5 750.0,528.4 760.0,528.4 770.0,528.4 780.0,528.4 790.0,528.4 800.0,528.4 810.0,528.5 820.0,528.5 830.0,528.6 840.0,528.6 850.0,528.7 860.0,530.5 870.0,532.3 880.0,535.0 890.0,538.5 900.0,542.0 910.0,539.5 920.0,537.0 930.0,535.5 940.0,535.0 950.0,534.5 960.0,535.3 970.0,536.0 980.0,535.6 990.0,534.1 1000.0,532.5 1010.0,531.9 1020.0,531.3 1030.0,531.9 1040.0,533.6 1050.0,535.3 1060.0,535.3 1070.0,535.2 1080.0,535.5 1090.0,536.1 1100.0,536.7 1110.0,534.9 1120.0,533.2 1130.0,531.1 1140.0,528.7 1150.0,526.3 1160.0,523.7 1170.0,521.0 1180.0,518.4 1190.0,515.2 1200.0,512.4 1210.0,510.9 1220.0,509.4 1230.0,510.8 1240.0,513.5 1250.0,517.1 1260.0,520.8 1270.0,520.2 1280.0,519.5 1290.0,519.1 1300.0,519.1 1310.0,519.0 1320.0,519.0 1330.0,519.0 1340.0,518.9 1350.0,518.9 1360.0,518.8 1370.0,518.8 1380.0,518.7 1390.0,518.7 1400.0,518.6 1410.0,518.6 1420.0,518.5 1430.0,518.5 1440.0,518.4 1450.0,518.4 1460.0,518.3 1470.0,518.3 1480.0,518.3 1480.0,950.0 540.0,950.0" fill="rgb(82,14,11)"/>
<polygon points="540.0,556.0 550.0,556.0 560.0,556.0 570.0,556.0 580.0,556.0 590.0,556.0 600.0,556.0 610.0,555.0 620.0,554.0 630.0,553.0 640.0,552.0 650.0,550.3 660.0,548.7 670.0,547.0 680.0,545.3 690.0,540.6 700.0,535.0 710.0,535.0 720.0,535.0 730.0,535.0 740.0,535.0 750.0,535.0 760.0,535.0 770.0,535.0 780.0,535.0 790.0,535.0 800.0,535.0 810.0,535.0 820.0,535.0 830.0,535.0 840.0,535.0 850.0,535.0 860.0,537.0 870.0,539.0 880.0,542.0 890.0,546.0 900.0,550.0 910.0,546.8 920.0,543.6 930.0,541.6 940.0,540.8 950.0,540.0 960.0,540.8 970.0,541.6 980.0,541.0 990.0,539.0 1000.0,537.0 1010.0,536.2 1020.0,535.4 1030.0,536.0 1040.0,538.0 1050.0,540.0 1060.0,540.0 1070.0,540.0 1080.0,540.4 1090.0,541.2 1100.0,542.0 1110.0,540.0 1120.0,538.0 1130.0,535.6 1140.0,532.8 1150.0,530.0 1160.0,526.7 1170.0,523.3 1180.0,520.0 1190.0,516.0 1200.0,512.0 1210.0,510.0 1220.0,508.0 1230.0,511.5 1240.0,515.0 1250.0,520.0 1260.0,525.0 1270.0,525.0 1280.0,525.0 1290.0,525.0 1300.0,525.0 1310.0,525.0 1320.0,525.0 1330.0,525.0 1340.0,525.0 1350.0,525.0 1360.0,525.0 1370.0,525.0 1380.0,525.0 1390.0,525.0 1400.0,525.0 1410.0,525.0 1420.0,525.0 1430.0,525.0 1440.0,525.0 1450.0,525.0 1460.0,525.0 1470.0,525.0 1480.0,525.0 1480.0,950.0 540.0,950.0" fill="rgb(81,14,11)"/>
<polygon points="540.0,558.3 550.0,558.3 560.0,558.3 570.0,558.3 580.0,558.3 590.0,558.3 600.0,558.3 610.0,557.3 620.0,556.3 630.0,555.3 640.0,554.3 650.0,552.7 660.0,551.1 670.0,549.5 680.0,547.8 690.0,543.6 700.0,538.7 710.0,538.5 720.0,538.4 730.0,538.3 740.0,538.1 750.0,538.0 760.0,537.8 770.0,537.6 780.0,537.6 790.0,537.7 800.0,537.8 810.0,537.9 820.0,538.0 830.0,538.1 840.0,538.2 850.0,538.3 860.0,540.2 870.0,542.0 880.0,544.7 890.0,548.2 900.0,551.7 910.0,549.0 920.0,546.3 930.0,544.7 940.0,544.0 950.0,543.3 960.0,544.0 970.0,544.7 980.0,544.2 990.0,542.5 1000.0,540.8 1010.0,540.2 1020.0,539.5 1030.0,540.0 1040.0,541.7 1050.0,543.3 1060.0,543.4 1070.0,543.5 1080.0,543.9 1090.0,544.6 1100.0,545.3 1110.0,543.6 1120.0,541.9 1130.0,539.8 1140.0,537.4 1150.0,535.0 1160.0,532.1 1170.0,529.1 1180.0,526.2 1190.0,522.7 1200.0,519.2 1210.0,517.4 1220.0,515.6 1230.0,518.4 1240.0,521.2 1250.0,525.7 1260.0,530.2 1270.0,530.2 1280.0,530.2 1290.0,530.2 1300.0,530.2 1310.0,530.2 1320.0,530.2 1330.0,530.2 1340.0,530.2 1350.0,530.2 1360.0,530.2 1370.0,530.2 1380.0,530.2 1390.0,530.2 1400.0,530.2 1410.0,530.2 1420.0,530.2 1430.0,530.2 1440.0,530.2 1450.0,530.2 1460.0,530.2 1470.0,530.2 1480.0,530.2 1480.0,950.0 540.0,950.0" fill="rgb(80,14,11)"/>
<polygon points="540.0,560.7 550.0,560.7 560.0,560.7 570.0,560.7 580.0,560.7 590.0,560.7 600.0,560.7 610.0,559.7 620.0,558.7 630.0,557.7 640.0,556.7 650.0,555.1 660.0,553.5 670.0,551.9 680.0,550.3 690.0,546.6 700.0,542.3 710.0,542.1 720.0,541.8 730.0,541.5 740.0,541.3 750.0,541.0 760.0,540.6 770.0,540.2 780.0,540.1 790.0,540.3 800.0,540.6 810.0,540.8 820.0,541.0 830.0,541.2 840.0,541.4 850.0,541.7 860.0,543.3 870.0,545.0 880.0,547.3 890.0,550.3 900.0,553.3 910.0,551.2 920.0,549.1 930.0,547.7 940.0,547.2 950.0,546.7 960.0,547.2 970.0,547.7 980.0,547.3 990.0,546.0 1000.0,544.7 1010.0,544.1 1020.0,543.6 1030.0,544.0 1040.0,545.3 1050.0,546.7 1060.0,546.8 1070.0,546.9 1080.0,547.3 1090.0,548.0 1100.0,548.7 1110.0,547.2 1120.0,545.7 1130.0,544.0 1140.0,542.0 1150.0,540.0 1160.0,537.4 1170.0,534.9 1180.0,532.3 1190.0,529.3 1200.0,526.3 1210.0,524.8 1220.0,523.2 1230.0,525.2 1240.0,527.3 1250.0,531.3 1260.0,535.3 1270.0,535.3 1280.0,535.3 1290.0,535.3 1300.0,535.3 1310.0,535.3 1320.0,535.3 1330.0,535.3 1340.0,535.3 1350.0,535.3 1360.0,535.3 1370.0,535.3 1380.0,535.3 1390.0,535.3 1400.0,535.3 1410.0,535.3 1420.0,535.3 1430.0,535.3 1440.0,535.3 1450.0,535.3 1460.0,535.3 1470.0,535.3 1480.0,535.3 1480.0,950.0 540.0,950.0" fill="rgb(79,14,11)"/>
<polygon points="540.0,563.0 550.0,563.0 560.0,563.0 570.0,563.0 580.0,563.0 590.0,563.0 600.0,563.0 610.0,562.0 620.0,561.0 630.0,560.0 640.0,559.0 650.0,557.5 660.0,555.9 670.0,554.4 680.0,552.8 690.0,549.6 700.0,546.0 710.0,545.6 720.0,545.2 730.0,544.8 740.0,544.4 750.0,544.0 760.0,543.4 770.0,542.8 780.0,542.7 790.0,543.0 800.0,543.3 810.0,543.7 820.0,544.0 830.0,544.3 840.0,544.7 850.0,545.0 860.0,546.5 870.0,548.0 880.0,550.0 890.0,552.5 900.0,555.0 910.0,553.4 920.0,551.8 930.0,550.8 940.0,550.4 950.0,550.0 960.0,550.4 970.0,550.8 980.0,550.5 990.0,549.5 1000.0,548.5 1010.0,548.1 1020.0,547.7 1030.0,548.0 1040.0,549.0 1050.0,550.0 1060.0,550.2 1070.0,550.4 1080.0,550.8 1090.0,551.4 1100.0,552.0 1110.0,550.8 1120.0,549.6 1130.0,548.2 1140.0,546.6 1150.0,545.0 1160.0,542.8 1170.0,540.7 1180.0,538.5 1190.0,536.0 1200.0,533.5 1210.0,532.1 1220.0,530.8 1230.0,532.1 1240.0,533.5 1250.0,537.0 1260.0,540.5 1270.0,540.5 1280.0,540.5 1290.0,540.5 1300.0,540.5 1310.0,540.5 1320.0,540.5 1330.0,540.5 1340.0,540.5 1350.0,540.5 1360.0,540.5 1370.0,540.5 1380.0,540.5 1390.0,540.5 1400.0,540.5 1410.0,540.5 1420.0,540.5 1430.0,540.5 1440.0,540.5 1450.0,540.5 1460.0,540.5 1470.0,540.5 1480.0,540.5 1480.0,950.0 540.0,950.0" fill="rgb(78,14,11)"/>
<polygon points="540.0,565.3 550.0,565.3 560.0,565.3 570.0,565.3 580.0,565.3 590.0,565.3 600.0,565.3 610.0,564.3 620.0,563.3 630.0,562.3 640.0,561.3 650.0,559.8 660.0,558.3 670.0,556.8 680.0,555.3 690.0,552.6 700.0,549.7 710.0,549.1 720.0,548.6 730.0,548.1 740.0,547.5 750.0,547.0 760.0,546.2 770.0,545.4 780.0,545.2 790.0,545.7 800.0,546.1 810.0,546.6 820.0,547.0 830.0,547.4 840.0,547.9 850.0,548.3 860.0,549.7 870.0,551.0 880.0,552.7 890.0,554.7 900.0,556.7 910.0,555.6 920.0,554.5 930.0,553.9 940.0,553.6 950.0,553.3 960.0,553.6 970.0,553.9 980.0,553.7 990.0,553.0 1000.0,552.3 1010.0,552.1 1020.0,551.8 1030.0,552.0 1040.0,552.7 1050.0,553.3 1060.0,553.6 1070.0,553.9 1080.0,554.3 1090.0,554.8 1100.0,555.3 1110.0,554.4 1120.0,553.5 1130.0,552.4 1140.0,551.2 1150.0,550.0 1160.0,548.2 1170.0,546.4 1180.0,544.7 1190.0,542.7 1200.0,540.7 1210.0,539.5 1220.0,538.3 1230.0,539.0 1240.0,539.7 1250.0,542.7 1260.0,545.7 1270.0,545.7 1280.0,545.7 1290.0,545.7 1300.0,545.7 1310.0,545.7 1320.0,545.7 1330.0,545.7 1340.0,545.7 1350.0,545.7 1360.0,545.7 1370.0,545.7 1380.0,545.7 1390.0,545.7 1400.0,545.7 1410.0,545.7 1420.0,545.7 1430.0,545.7 1440.0,545.7 1450.0,545.7 1460.0,545.7 1470.0,545.7 1480.0,545.7 1480.0,950.0 540.0,950.0" fill="rgb(77,14,11)"/>
<polygon points="540.0,567.7 550.0,567.7 560.0,567.7 570.0,567.7 580.0,567.7 590.0,567.7 600.0,567.7 610.0,566.7 620.0,565.7 630.0,564.7 640.0,563.7 650.0,562.2 660.0,560.7 670.0,559.3 680.0,557.8 690.0,555.6 700.0,553.3 710.0,552.7 720.0,552.0 730.0,551.3 740.0,550.7 750.0,550.0 760.0,549.0 770.0,548.0 780.0,547.8 790.0,548.3 800.0,548.9 810.0,549.4 820.0,550.0 830.0,550.6 840.0,551.1 850.0,551.7 860.0,552.8 870.0,554.0 880.0,555.3 890.0,556.8 900.0,558.3 910.0,557.8 920.0,557.3 930.0,556.9 940.0,556.8 950.0,556.7 960.0,556.8 970.0,556.9 980.0,556.8 990.0,556.5 1000.0,556.2 1010.0,556.0 1020.0,555.9 1030.0,556.0 1040.0,556.3 1050.0,556.7 1060.0,557.0 1070.0,557.3 1080.0,557.7 1090.0,558.2 1100.0,558.7 1110.0,558.0 1120.0,557.3 1130.0,556.6 1140.0,555.8 1150.0,555.0 1160.0,553.6 1170.0,552.2 1180.0,550.8 1190.0,549.3 1200.0,547.8 1210.0,546.9 1220.0,545.9 1230.0,545.9 1240.0,545.8 1250.0,548.3 1260.0,550.8 1270.0,550.8 1280.0,550.8 1290.0,550.8 1300.0,550.8 1310.0,550.8 1320.0,550.8 1330.0,550.8 1340.0,550.8 1350.0,550.8 1360.0,550.8 1370.0,550.8 1380.0,550.8 1390.0,550.8 1400.0,550.8 1410.0,550.8 1420.0,550.8 1430.0,550.8 1440.0,550.8 1450.0,550.8 1460.0,550.8 1470.0,550.8 1480.0,550.8 1480.0,950.0 540.0,950.0" fill="rgb(76,14,11)"/>
<polygon points="540.0,570.0 550.0,570.0 560.0,570.0 570.0,570.0 580.0,570.0 590.0,570.0 600.0,570.0 610.0,569.0 620.0,568.0 630.0,567.0 640.0,566.0 650.0,564.6 660.0,563.1 670.0,561.7 680.0,560.3 690.0,558.7 700.0,557.0 710.0,556.2 720.0,555.4 730.0,554.6 740.0,553.8 750.0,553.0 760.0,551.8 770.0,550.6 780.0,550.3 790.0,551.0 800.0,551.7 810.0,552.3 820.0,553.0 830.0,553.7 840.0,554.3 850.0,555.0 860.0,556.0 870.0,557.0 880.0,558.0 890.0,559.0 900.0,560.0 910.0,560.0 920.0,560.0 930.0,560.0 940.0,560.0 950.0,560.0 960.0,560.0 970.0,560.0 980.0,560.0 990.0,560.0 1000.0,560.0 1010.0,560.0 1020.0,560.0 1030.0,560.0 1040.0,560.0 1050.0,560.0 1060.0,560.4 1070.0,560.8 1080.0,561.2 1090.0,561.6 1100.0,562.0 1110.0,561.6 1120.0,561.2 1130.0,560.8 1140.0,560.4 1150.0,560.0 1160.0,559.0 1170.0,558.0 1180.0,557.0 1190.0,556.0 1200.0,555.0 1210.0,554.2 1220.0,553.5 1230.0,552.8 1240.0,552.0 1250.0,554.0 1260.0,556.0 1270.0,556.0 1280.0,556.0 1290.0,556.0 1300.0,556.0 1310.0,556.0 1320.0,556.0 1330.0,556.0 1340.0,556.0 1350.0,556.0 1360.0,556.0 1370.0,556.0 1380.0,556.0 1390.0,556.0 1400.0,556.0 1410.0,556.0 1420.0,556.0 1430.0,556.0 1440.0,556.0 1450.0,556.0 1460.0,556.0 1470.0,556.0 1480.0,556.0 1480.0,950.0 540.0,950.0" fill="rgb(75,14,11)"/>
<polygon points="540.0,573.7 550.0,573.7 560.0,573.7 570.0,573.7 580.0,573.7 590.0,573.7 600.0,573.7 610.0,572.8 620.0,571.8 630.0,570.9 640.0,570.0 650.0,568.7 660.0,567.5 670.0,566.2 680.0,564.9 690.0,563.4 700.0,561.8 710.0,560.9 720.0,559.9 730.0,558.9 740.0,558.0 750.0,557.0 760.0,555.8 770.0,554.5 780.0,554.1 790.0,554.4 800.0,554.7 810.0,555.4 820.0,556.2 830.0,556.9 840.0,557.6 850.0,558.3 860.0,559.4 870.0,560.5 880.0,561.5 890.0,562.6 900.0,563.7 910.0,563.7 920.0,563.7 930.0,563.7 940.0,563.7 950.0,563.7 960.0,563.6 970.0,563.5 980.0,563.5 990.0,563.4 1000.0,563.3 1010.0,563.3 1020.0,563.3 1030.0,563.3 1040.0,563.3 1050.0,563.3 1060.0,563.7 1070.0,564.1 1080.0,564.5 1090.0,564.9 1100.0,565.3 1110.0,564.9 1120.0,564.4 1130.0,563.9 1140.0,563.5 1150.0,563.0 1160.0,562.0 1170.0,561.1 1180.0,560.1 1190.0,559.1 1200.0,558.2 1210.0,557.5 1220.0,556.8 1230.0,556.1 1240.0,555.4 1250.0,557.1 1260.0,558.7 1270.0,558.7 1280.0,558.7 1290.0,558.7 1300.0,558.7 1310.0,558.7 1320.0,558.7 1330.0,558.7 1340.0,558.7 1350.0,558.7 1360.0,558.7 1370.0,558.7 1380.0,558.7 1390.0,558.7 1400.0,558.7 1410.0,558.7 1420.0,558.7 1430.0,558.7 1440.0,558.7 1450.0,558.7 1460.0,558.7 1470.0,558.7 1480.0,558.7 1480.0,950.0 540.0,950.0" fill="rgb(74,14,11)"/>
<polygon points="540.0,577.3 550.0,577.3 560.0,577.3 570.0,577.3 580.0,577.3 590.0,577.3 600.0,577.3 610.0,576.5 620.0,575.7 630.0,574.8 640.0,574.0 650.0,572.9 660.0,571.8 670.0,570.7 680.0,569.6 690.0,568.1 700.0,566.7 710.0,565.5 720.0,564.4 730.0,563.3 740.0,562.1 750.0,561.0 760.0,559.7 770.0,558.5 780.0,557.8 790.0,557.8 800.0,557.8 810.0,558.6 820.0,559.3 830.0,560.1 840.0,560.9 850.0,561.7 860.0,562.8 870.0,563.9 880.0,565.1 890.0,566.2 900.0,567.3 910.0,567.3 920.0,567.3 930.0,567.3 940.0,567.3 950.0,567.3 960.0,567.2 970.0,567.1 980.0,566.9 990.0,566.8 1000.0,566.7 1010.0,566.7 1020.0,566.7 1030.0,566.7 1040.0,566.7 1050.0,566.7 1060.0,567.1 1070.0,567.5 1080.0,567.9 1090.0,568.3 1100.0,568.7 1110.0,568.1 1120.0,567.6 1130.0,567.1 1140.0,566.5 1150.0,566.0 1160.0,565.1 1170.0,564.1 1180.0,563.2 1190.0,562.3 1200.0,561.3 1210.0,560.7 1220.0,560.1 1230.0,559.5 1240.0,558.9 1250.0,560.1 1260.0,561.3 1270.0,561.3 1280.0,561.3 1290.0,561.3 1300.0,561.3 1310.0,561.3 1320.0,561.3 1330.0,561.3 1340.0,561.3 1350.0,561.3 1360.0,561.3 1370.0,561.3 1380.0,561.3 1390.0,561.3 1400.0,561.3 1410.0,561.3 1420.0,561.3 1430.0,561.3 1440.0,561.3 1450.0,561.3 1460.0,561.3 1470.0,561.3 1480.0,561.3 1480.0,950.0 540.0,950.0" fill="rgb(73,14,11)"/>
<polygon points="540.0,581.0 550.0,581.0 560.0,581.0 570.0,581.0 580.0,581.0 590.0,581.0 600.0,581.0 610.0,580.2 620.0,579.5 630.0,578.8 640.0,578.0 650.0,577.0 660.0,576.1 670.0,575.1 680.0,574.2 690.0,572.9 700.0,571.5 710.0,570.2 720.0,568.9 730.0,567.6 740.0,566.3 750.0,565.0 760.0,563.7 770.0,562.4 780.0,561.6 790.0,561.2 800.0,560.8 810.0,561.7 820.0,562.5 830.0,563.3 840.0,564.2 850.0,565.0 860.0,566.2 870.0,567.4 880.0,568.6 890.0,569.8 900.0,571.0 910.0,571.0 920.0,571.0 930.0,571.0 940.0,571.0 950.0,571.0 960.0,570.8 970.0,570.6 980.0,570.4 990.0,570.2 1000.0,570.0 1010.0,570.0 1020.0,570.0 1030.0,570.0 1040.0,570.0 1050.0,570.0 1060.0,570.4 1070.0,570.8 1080.0,571.2 1090.0,571.6 1100.0,572.0 1110.0,571.4 1120.0,570.8 1130.0,570.2 1140.0,569.6 1150.0,569.0 1160.0,568.1 1170.0,567.2 1180.0,566.3 1190.0,565.4 1200.0,564.5 1210.0,564.0 1220.0,563.4 1230.0,562.9 1240.0,562.3 1250.0,563.2 1260.0,564.0 1270.0,564.0 1280.0,564.0 1290.0,564.0 1300.0,564.0 1310.0,564.0 1320.0,564.0 1330.0,564.0 1340.0,564.0 1350.0,564.0 1360.0,564.0 1370.0,564.0 1380.0,564.0 1390.0,564.0 1400.0,564.0 1410.0,564.0 1420.0,564.0 1430.0,564.0 1440.0,564.0 1450.0,564.0 1460.0,564.0 1470.0,564.0 1480.0,564.0 1480.0,950.0 540.0,950.0" fill="rgb(72,14,11)"/>
<polygon points="540.0,584.7 550.0,584.7 560.0,584.7 570.0,584.7 580.0,584.7 590.0,584.7 600.0,584.7 610.0,584.0 620.0,583.3 630.0,582.7 640.0,582.0 650.0,581.2 660.0,580.4 670.0,579.6 680.0,578.8 690.0,577.6 700.0,576.3 710.0,574.9 720.0,573.4 730.0,571.9 740.0,570.5 750.0,569.0 760.0,567.7 770.0,566.3 780.0,565.3 790.0,564.6 800.0,563.9 810.0,564.8 820.0,565.7 830.0,566.6 840.0,567.4 850.0,568.3 860.0,569.6 870.0,570.9 880.0,572.1 890.0,573.4 900.0,574.7 910.0,574.7 920.0,574.7 930.0,574.7 940.0,574.7 950.0,574.7 960.0,574.4 970.0,574.1 980.0,573.9 990.0,573.6 1000.0,573.3 1010.0,573.3 1020.0,573.3 1030.0,573.3 1040.0,573.3 1050.0,573.3 1060.0,573.7 1070.0,574.1 1080.0,574.5 1090.0,574.9 1100.0,575.3 1110.0,574.7 1120.0,574.0 1130.0,573.3 1140.0,572.7 1150.0,572.0 1160.0,571.1 1170.0,570.3 1180.0,569.4 1190.0,568.5 1200.0,567.7 1210.0,567.2 1220.0,566.7 1230.0,566.2 1240.0,565.8 1250.0,566.2 1260.0,566.7 1270.0,566.7 1280.0,566.7 1290.0,566.7 1300.0,566.7 1310.0,566.7 1320.0,566.7 1330.0,566.7 1340.0,566.7 1350.0,566.7 1360.0,566.7 1370.0,566.7 1380.0,566.7 1390.0,566.7 1400.0,566.7 1410.0,566.7 1420.0,566.7 1430.0,566.7 1440.0,566.7 1450.0,566.7 1460.0,566.7 1470.0,566.7 1480.0,566.7 1480.0,950.0 540.0,950.0" fill="rgb(71,14,11)"/>
<polygon points="540.0,588.3 550.0,588.3 560.0,588.3 570.0,588.3 580.0,588.3 590.0,588.3 600.0,588.3 610.0,587.8 620.0,587.2 630.0,586.6 640.0,586.0 650.0,585.4 660.0,584.7 670.0,584.1 680.0,583.5 690.0,582.4 700.0,581.2 710.0,579.5 720.0,577.9 730.0,576.3 740.0,574.6 750.0,573.0 760.0,571.6 770.0,570.3 780.0,569.1 790.0,568.0 800.0,566.9 810.0,567.9 820.0,568.8 830.0,569.8 840.0,570.7 850.0,571.7 860.0,573.0 870.0,574.3 880.0,575.7 890.0,577.0 900.0,578.3 910.0,578.3 920.0,578.3 930.0,578.3 940.0,578.3 950.0,578.3 960.0,578.0 970.0,577.7 980.0,577.3 990.0,577.0 1000.0,576.7 1010.0,576.7 1020.0,576.7 1030.0,576.7 1040.0,576.7 1050.0,576.7 1060.0,577.1 1070.0,577.5 1080.0,577.9 1090.0,578.3 1100.0,578.7 1110.0,577.9 1120.0,577.2 1130.0,576.5 1140.0,575.7 1150.0,575.0 1160.0,574.2 1170.0,573.3 1180.0,572.5 1190.0,571.7 1200.0,570.8 1210.0,570.4 1220.0,570.0 1230.0,569.6 1240.0,569.2 1250.0,569.3 1260.0,569.3 1270.0,569.3 1280.0,569.3 1290.0,569.3 1300.0,569.3 1310.0,569.3 1320.0,569.3 1330.0,569.3 1340.0,569.3 1350.0,569.3 1360.0,569.3 1370.0,569.3 1380.0,569.3 1390.0,569.3 1400.0,569.3 1410.0,569.3 1420.0,569.3 1430.0,569.3 1440.0,569.3 1450.0,569.3 1460.0,569.3 1470.0,569.3 1480.0,569.3 1480.0,950.0 540.0,950.0" fill="rgb(70,14,11)"/>
<polygon points="540.0,592.0 550.0,592.0 560.0,592.0 570.0,592.0 580.0,592.0 590.0,592.0 600.0,592.0 610.0,591.5 620.0,591.0 630.0,590.5 640.0,590.0 650.0,589.5 660.0,589.0 670.0,588.6 680.0,588.1 690.0,587.1 700.0,586.0 710.0,584.2 720.0,582.4 730.0,580.6 740.0,578.8 750.0,577.0 760.0,575.6 770.0,574.2 780.0,572.8 790.0,571.4 800.0,570.0 810.0,571.0 820.0,572.0 830.0,573.0 840.0,574.0 850.0,575.0 860.0,576.4 870.0,577.8 880.0,579.2 890.0,580.6 900.0,582.0 910.0,582.0 920.0,582.0 930.0,582.0 940.0,582.0 950.0,582.0 960.0,581.6 970.0,581.2 980.0,580.8 990.0,580.4 1000.0,580.0 1010.0,580.0 1020.0,580.0 1030.0,580.0 1040.0,580.0 1050.0,580.0 1060.0,580.4 1070.0,580.8 1080.0,581.2 1090.0,581.6 1100.0,582.0 1110.0,581.2 1120.0,580.4 1130.0,579.6 1140.0,578.8 1150.0,578.0 1160.0,577.2 1170.0,576.4 1180.0,575.6 1190.0,574.8 1200.0,574.0 1210.0,573.7 1220.0,573.3 1230.0,573.0 1240.0,572.7 1250.0,572.3 1260.0,572.0 1270.0,572.0 1280.0,572.0 1290.0,572.0 1300.0,572.0 1310.0,572.0 1320.0,572.0 1330.0,572.0 1340.0,572.0 1350.0,572.0 1360.0,572.0 1370.0,572.0 1380.0,572.0 1390.0,572.0 1400.0,572.0 1410.0,572.0 1420.0,572.0 1430.0,572.0 1440.0,572.0 1450.0,572.0 1460.0,572.0 1470.0,572.0 1480.0,572.0 1480.0,950.0 540.0,950.0" fill="rgb(69,14,11)"/>
<polygon points="540.0,593.7 550.0,593.7 560.0,593.7 570.0,593.7 580.0,593.7 590.0,593.7 600.0,593.7 610.0,593.2 620.0,592.8 630.0,592.3 640.0,591.8 650.0,591.5 660.0,591.2 670.0,590.9 680.0,591.3 690.0,591.9 700.0,591.3 710.0,589.4 720.0,587.5 730.0,585.5 740.0,583.6 750.0,581.7 760.0,580.2 770.0,578.7 780.0,577.2 790.0,575.7 800.0,574.2 810.0,574.9 820.0,575.6 830.0,576.4 840.0,577.1 850.0,577.8 860.0,579.3 870.0,580.7 880.0,582.1 890.0,583.6 900.0,585.0 910.0,584.9 920.0,584.8 930.0,584.7 940.0,584.6 950.0,584.5 960.0,584.1 970.0,583.7 980.0,583.3 990.0,582.9 1000.0,582.5 1010.0,582.5 1020.0,582.5 1030.0,582.5 1040.0,582.5 1050.0,582.5 1060.0,582.9 1070.0,583.4 1080.0,583.8 1090.0,584.2 1100.0,584.7 1110.0,583.8 1120.0,582.9 1130.0,582.1 1140.0,581.2 1150.0,580.3 1160.0,579.5 1170.0,578.7 1180.0,577.9 1190.0,577.1 1200.0,576.3 1210.0,576.0 1220.0,575.7 1230.0,575.3 1240.0,575.0 1250.0,574.7 1260.0,574.3 1270.0,574.3 1280.0,574.3 1290.0,574.3 1300.0,574.3 1310.0,574.3 1320.0,574.3 1330.0,574.3 1340.0,574.3 1350.0,574.3 1360.0,574.3 1370.0,574.3 1380.0,574.3 1390.0,574.3 1400.0,574.3 1410.0,574.3 1420.0,574.3 1430.0,574.3 1440.0,574.3 1450.0,574.3 1460.0,574.3 1470.0,574.3 1480.0,574.3 1480.0,950.0 540.0,950.0" fill="rgb(68,14,11)"/>
<polygon points="540.0,595.3 550.0,595.3 560.0,595.3 570.0,595.3 580.0,595.3 590.0,595.3 600.0,595.3 610.0,594.9 620.0,594.5 630.0,594.1 640.0,593.7 650.0,593.5 660.0,593.4 670.0,593.3 680.0,594.5 690.0,596.7 700.0,596.7 710.0,594.6 720.0,592.5 730.0,590.5 740.0,588.4 750.0,586.3 760.0,584.7 770.0,583.1 780.0,581.5 790.0,579.9 800.0,578.3 810.0,578.8 820.0,579.3 830.0,579.7 840.0,580.2 850.0,580.7 860.0,582.1 870.0,583.6 880.0,585.1 890.0,586.5 900.0,588.0 910.0,587.8 920.0,587.6 930.0,587.4 940.0,587.2 950.0,587.0 960.0,586.6 970.0,586.2 980.0,585.8 990.0,585.4 1000.0,585.0 1010.0,585.0 1020.0,585.0 1030.0,585.0 1040.0,585.0 1050.0,585.0 1060.0,585.5 1070.0,585.9 1080.0,586.4 1090.0,586.9 1100.0,587.3 1110.0,586.4 1120.0,585.5 1130.0,584.5 1140.0,583.6 1150.0,582.7 1160.0,581.9 1170.0,581.1 1180.0,580.3 1190.0,579.5 1200.0,578.7 1210.0,578.3 1220.0,578.0 1230.0,577.7 1240.0,577.3 1250.0,577.0 1260.0,576.7 1270.0,576.7 1280.0,576.7 1290.0,576.7 1300.0,576.7 1310.0,576.7 1320.0,576.7 1330.0,576.7 1340.0,576.7 1350.0,576.7 1360.0,576.7 1370.0,576.7 1380.0,576.7 1390.0,576.7 1400.0,576.7 1410.0,576.7 1420.0,576.7 1430.0,576.7 1440.0,576.7 1450.0,576.7 1460.0,576.7 1470.0,576.7 1480.0,576.7 1480.0,950.0 540.0,950.0" fill="rgb(67,14,11)"/>
<polygon points="540.0,597.0 550.0,597.0 560.0,597.0 570.0,597.0 580.0,597.0 590.0,597.0 600.0,597.0 610.0,596.6 620.0,596.2 630.0,595.9 640.0,595.5 650.0,595.5 660.0,595.6 670.0,595.6 680.0,597.7 690.0,601.6 700.0,602.0 710.0,599.8 720.0,597.6 730.0,595.4 740.0,593.2 750.0,591.0 760.0,589.3 770.0,587.6 780.0,585.9 790.0,584.2 800.0,582.5 810.0,582.7 820.0,582.9 830.0,583.1 840.0,583.3 850.0,583.5 860.0,585.0 870.0,586.5 880.0,588.0 890.0,589.5 900.0,591.0 910.0,590.7 920.0,590.4 930.0,590.1 940.0,589.8 950.0,589.5 960.0,589.1 970.0,588.7 980.0,588.3 990.0,587.9 1000.0,587.5 1010.0,587.5 1020.0,587.5 1030.0,587.5 1040.0,587.5 1050.0,587.5 1060.0,588.0 1070.0,588.5 1080.0,589.0 1090.0,589.5 1100.0,590.0 1110.0,589.0 1120.0,588.0 1130.0,587.0 1140.0,586.0 1150.0,585.0 1160.0,584.2 1170.0,583.4 1180.0,582.6 1190.0,581.8 1200.0,581.0 1210.0,580.7 1220.0,580.3 1230.0,580.0 1240.0,579.7 1250.0,579.3 1260.0,579.0 1270.0,579.0 1280.0,579.0 1290.0,579.0 1300.0,579.0 1310.0,579.0 1320.0,579.0 1330.0,579.0 1340.0,579.0 1350.0,579.0 1360.0,579.0 1370.0,579.0 1380.0,579.0 1390.0,579.0 1400.0,579.0 1410.0,579.0 1420.0,579.0 1430.0,579.0 1440.0,579.0 1450.0,579.0 1460.0,579.0 1470.0,579.0 1480.0,579.0 1480.0,950.0 540.0,950.0" fill="rgb(66,14,11)"/>
<polygon points="540.0,598.7 550.0,598.7 560.0,598.7 570.0,598.7 580.0,598.7 590.0,598.7 600.0,598.7 610.0,598.3 620.0,598.0 630.0,597.7 640.0,597.3 650.0,597.6 660.0,597.8 670.0,598.0 680.0,600.9 690.0,606.4 700.0,607.3 710.0,605.0 720.0,602.7 730.0,600.3 740.0,598.0 750.0,595.7 760.0,593.9 770.0,592.1 780.0,590.3 790.0,588.5 800.0,586.7 810.0,586.6 820.0,586.5 830.0,586.5 840.0,586.4 850.0,586.3 860.0,587.9 870.0,589.4 880.0,590.9 890.0,592.5 900.0,594.0 910.0,593.6 920.0,593.2 930.0,592.8 940.0,592.4 950.0,592.0 960.0,591.6 970.0,591.2 980.0,590.8 990.0,590.4 1000.0,590.0 1010.0,590.0 1020.0,590.0 1030.0,590.0 1040.0,590.0 1050.0,590.0 1060.0,590.5 1070.0,591.1 1080.0,591.6 1090.0,592.1 1100.0,592.7 1110.0,591.6 1120.0,590.5 1130.0,589.5 1140.0,588.4 1150.0,587.3 1160.0,586.5 1170.0,585.7 1180.0,584.9 1190.0,584.1 1200.0,583.3 1210.0,583.0 1220.0,582.7 1230.0,582.3 1240.0,582.0 1250.0,581.7 1260.0,581.3 1270.0,581.3 1280.0,581.3 1290.0,581.3 1300.0,581.3 1310.0,581.3 1320.0,581.3 1330.0,581.3 1340.0,581.3 1350.0,581.3 1360.0,581.3 1370.0,581.3 1380.0,581.3 1390.0,581.3 1400.0,581.3 1410.0,581.3 1420.0,581.3 1430.0,581.3 1440.0,581.3 1450.0,581.3 1460.0,581.3 1470.0,581.3 1480.0,581.3 1480.0,950.0 540.0,950.0" fill="rgb(65,14,11)"/>
<polygon points="540.0,600.3 550.0,600.3 560.0,600.3 570.0,600.3 580.0,600.3 590.0,600.3 600.0,600.3 610.0,600.0 620.0,599.8 630.0,599.5 640.0,599.2 650.0,599.6 660.0,600.0 670.0,600.4 680.0,604.1 690.0,611.2 700.0,612.7 710.0,610.2 720.0,607.7 730.0,605.3 740.0,602.8 750.0,600.3 760.0,598.4 770.0,596.5 780.0,594.6 790.0,592.7 800.0,590.8 810.0,590.5 820.0,590.2 830.0,589.8 840.0,589.5 850.0,589.2 860.0,590.7 870.0,592.3 880.0,593.9 890.0,595.4 900.0,597.0 910.0,596.5 920.0,596.0 930.0,595.5 940.0,595.0 950.0,594.5 960.0,594.1 970.0,593.7 980.0,593.3 990.0,592.9 1000.0,592.5 1010.0,592.5 1020.0,592.5 1030.0,592.5 1040.0,592.5 1050.0,592.5 1060.0,593.1 1070.0,593.6 1080.0,594.2 1090.0,594.8 1100.0,595.3 1110.0,594.2 1120.0,593.1 1130.0,591.9 1140.0,590.8 1150.0,589.7 1160.0,588.9 1170.0,588.1 1180.0,587.3 1190.0,586.5 1200.0,585.7 1210.0,585.3 1220.0,585.0 1230.0,584.7 1240.0,584.3 1250.0,584.0 1260.0,583.7 1270.0,583.7 1280.0,583.7 1290.0,583.7 1300.0,583.7 1310.0,583.7 1320.0,583.7 1330.0,583.7 1340.0,583.7 1350.0,583.7 1360.0,583.7 1370.0,583.7 1380.0,583.7 1390.0,583.7 1400.0,583.7 1410.0,583.7 1420.0,583.7 1430.0,583.7 1440.0,583.7 1450.0,583.7 1460.0,583.7 1470.0,583.7 1480.0,583.7 1480.0,950.0 540.0,950.0" fill="rgb(64,14,11)"/>
<polygon points="540.0,602.0 550.0,602.0 560.0,602.0 570.0,602.0 580.0,602.0 590.0,602.0 600.0,602.0 610.0,601.8 620.0,601.5 630.0,601.2 640.0,601.0 650.0,601.6 660.0,602.1 670.0,602.7 680.0,607.3 690.0,616.0 700.0,618.0 710.0,615.4 720.0,612.8 730.0,610.2 740.0,607.6 750.0,605.0 760.0,603.0 770.0,601.0 780.0,599.0 790.0,597.0 800.0,595.0 810.0,594.4 820.0,593.8 830.0,593.2 840.0,592.6 850.0,592.0 860.0,593.6 870.0,595.2 880.0,596.8 890.0,598.4 900.0,600.0 910.0,599.4 920.0,598.8 930.0,598.2 940.0,597.6 950.0,597.0 960.0,596.6 970.0,596.2 980.0,595.8 990.0,595.4 1000.0,595.0 1010.0,595.0 1020.0,595.0 1030.0,595.0 1040.0,595.0 1050.0,595.0 1060.0,595.6 1070.0,596.2 1080.0,596.8 1090.0,597.4 1100.0,598.0 1110.0,596.8 1120.0,595.6 1130.0,594.4 1140.0,593.2 1150.0,592.0 1160.0,591.2 1170.0,590.4 1180.0,589.6 1190.0,588.8 1200.0,588.0 1210.0,587.7 1220.0,587.3 1230.0,587.0 1240.0,586.7 1250.0,586.3 1260.0,586.0 1270.0,586.0 1280.0,586.0 1290.0,586.0 1300.0,586.0 1310.0,586.0 1320.0,586.0 1330.0,586.0 1340.0,586.0 1350.0,586.0 1360.0,586.0 1370.0,586.0 1380.0,586.0 1390.0,586.0 1400.0,586.0 1410.0,586.0 1420.0,586.0 1430.0,586.0 1440.0,586.0 1450.0,586.0 1460.0,586.0 1470.0,586.0 1480.0,586.0 1480.0,950.0 540.0,950.0" fill="rgb(63,14,11)"/>
<polygon points="540.0,606.7 550.0,606.7 560.0,606.7 570.0,606.7 580.0,606.7 590.0,606.7 600.0,606.7 610.0,606.5 620.0,606.3 630.0,606.2 640.0,606.0 650.0,606.6 660.0,607.2 670.0,607.8 680.0,611.8 690.0,619.1 700.0,621.0 710.0,618.5 720.0,615.9 730.0,613.4 740.0,610.9 750.0,608.3 760.0,606.3 770.0,604.3 780.0,602.3 790.0,600.3 800.0,598.3 810.0,597.8 820.0,597.3 830.0,596.8 840.0,596.3 850.0,595.8 860.0,597.2 870.0,598.6 880.0,600.0 890.0,601.4 900.0,602.8 910.0,602.3 920.0,601.7 930.0,601.1 940.0,600.6 950.0,600.0 960.0,599.6 970.0,599.1 980.0,598.7 990.0,598.3 1000.0,597.8 1010.0,597.8 1020.0,597.7 1030.0,597.6 1040.0,597.6 1050.0,597.5 1060.0,598.1 1070.0,598.6 1080.0,599.2 1090.0,599.8 1100.0,600.3 1110.0,599.1 1120.0,597.9 1130.0,596.7 1140.0,595.5 1150.0,594.3 1160.0,593.5 1170.0,592.6 1180.0,591.7 1190.0,590.9 1200.0,590.0 1210.0,589.6 1220.0,589.2 1230.0,588.8 1240.0,588.4 1250.0,588.1 1260.0,587.7 1270.0,587.7 1280.0,587.7 1290.0,587.7 1300.0,587.7 1310.0,587.7 1320.0,587.7 1330.0,587.7 1340.0,587.7 1350.0,587.7 1360.0,587.7 1370.0,587.7 1380.0,587.7 1390.0,587.7 1400.0,587.7 1410.0,587.7 1420.0,587.7 1430.0,587.7 1440.0,587.7 1450.0,587.7 1460.0,587.7 1470.0,587.7 1480.0,587.7 1480.0,950.0 540.0,950.0" fill="rgb(62,14,11)"/>
<polygon points="540.0,611.3 550.0,611.3 560.0,611.3 570.0,611.3 580.0,611.3 590.0,611.3 600.0,611.3 610.0,611.2 620.0,611.2 630.0,611.1 640.0,611.0 650.0,611.6 660.0,612.2 670.0,612.9 680.0,616.2 690.0,622.3 700.0,624.0 710.0,621.5 720.0,619.1 730.0,616.6 740.0,614.1 750.0,611.7 760.0,609.7 770.0,607.7 780.0,605.7 790.0,603.7 800.0,601.7 810.0,601.3 820.0,600.9 830.0,600.5 840.0,600.1 850.0,599.7 860.0,600.9 870.0,602.1 880.0,603.3 890.0,604.5 900.0,605.7 910.0,605.1 920.0,604.6 930.0,604.1 940.0,603.5 950.0,603.0 960.0,602.5 970.0,602.1 980.0,601.6 990.0,601.1 1000.0,600.7 1010.0,600.5 1020.0,600.4 1030.0,600.3 1040.0,600.1 1050.0,600.0 1060.0,600.5 1070.0,601.1 1080.0,601.6 1090.0,602.1 1100.0,602.7 1110.0,601.5 1120.0,600.3 1130.0,599.1 1140.0,597.9 1150.0,596.7 1160.0,595.7 1170.0,594.8 1180.0,593.9 1190.0,592.9 1200.0,592.0 1210.0,591.6 1220.0,591.1 1230.0,590.7 1240.0,590.2 1250.0,589.8 1260.0,589.3 1270.0,589.3 1280.0,589.3 1290.0,589.3 1300.0,589.3 1310.0,589.3 1320.0,589.3 1330.0,589.3 1340.0,589.3 1350.0,589.3 1360.0,589.3 1370.0,589.3 1380.0,589.3 1390.0,589.3 1400.0,589.3 1410.0,589.3 1420.0,589.3 1430.0,589.3 1440.0,589.3 1450.0,589.3 1460.0,589.3 1470.0,589.3 1480.0,589.3 1480.0,950.0 540.0,950.0" fill="rgb(61,14,11)"/>
<polygon points="540.0,616.0 550.0,616.0 560.0,616.0 570.0,616.0 580.0,616.0 590.0,616.0 600.0,616.0 610.0,616.0 620.0,616.0 630.0,616.0 640.0,616.0 650.0,616.6 660.0,617.3 670.0,617.9 680.0,620.6 690.0,625.4 700.0,627.0 710.0,624.6 720.0,622.2 730.0,619.8 740.0,617.4 750.0,615.0 760.0,613.0 770.0,611.0 780.0,609.0 790.0,607.0 800.0,605.0 810.0,604.7 820.0,604.4 830.0,604.1 840.0,603.8 850.0,603.5 860.0,604.5 870.0,605.5 880.0,606.5 890.0,607.5 900.0,608.5 910.0,608.0 920.0,607.5 930.0,607.0 940.0,606.5 950.0,606.0 960.0,605.5 970.0,605.0 980.0,604.5 990.0,604.0 1000.0,603.5 1010.0,603.3 1020.0,603.1 1030.0,602.9 1040.0,602.7 1050.0,602.5 1060.0,603.0 1070.0,603.5 1080.0,604.0 1090.0,604.5 1100.0,605.0 1110.0,603.8 1120.0,602.6 1130.0,601.4 1140.0,600.2 1150.0,599.0 1160.0,598.0 1170.0,597.0 1180.0,596.0 1190.0,595.0 1200.0,594.0 1210.0,593.5 1220.0,593.0 1230.0,592.5 1240.0,592.0 1250.0,591.5 1260.0,591.0 1270.0,591.0 1280.0,591.0 1290.0,591.0 1300.0,591.0 1310.0,591.0 1320.0,591.0 1330.0,591.0 1340.0,591.0 1350.0,591.0 1360.0,591.0 1370.0,591.0 1380.0,591.0 1390.0,591.0 1400.0,591.0 1410.0,591.0 1420.0,591.0 1430.0,591.0 1440.0,591.0 1450.0,591.0 1460.0,591.0 1470.0,591.0 1480.0,591.0 1480.0,950.0 540.0,950.0" fill="rgb(60,14,11)"/>
<polygon points="540.0,620.7 550.0,620.7 560.0,620.7 570.0,620.7 580.0,620.7 590.0,620.7 600.0,620.7 610.0,620.8 620.0,620.8 630.0,620.9 640.0,621.0 650.0,621.7 660.0,622.3 670.0,623.0 680.0,625.0 690.0,628.6 700.0,630.0 710.0,627.7 720.0,625.3 730.0,623.0 740.0,620.7 750.0,618.3 760.0,616.3 770.0,614.3 780.0,612.3 790.0,610.3 800.0,608.3 810.0,608.1 820.0,607.9 830.0,607.7 840.0,607.5 850.0,607.3 860.0,608.1 870.0,608.9 880.0,609.7 890.0,610.5 900.0,611.3 910.0,610.9 920.0,610.4 930.0,609.9 940.0,609.5 950.0,609.0 960.0,608.5 970.0,607.9 980.0,607.4 990.0,606.9 1000.0,606.3 1010.0,606.1 1020.0,605.8 1030.0,605.5 1040.0,605.3 1050.0,605.0 1060.0,605.5 1070.0,605.9 1080.0,606.4 1090.0,606.9 1100.0,607.3 1110.0,606.1 1120.0,604.9 1130.0,603.7 1140.0,602.5 1150.0,601.3 1160.0,600.3 1170.0,599.2 1180.0,598.1 1190.0,597.1 1200.0,596.0 1210.0,595.4 1220.0,594.9 1230.0,594.3 1240.0,593.8 1250.0,593.2 1260.0,592.7 1270.0,592.7 1280.0,592.7 1290.0,592.7 1300.0,592.7 1310.0,592.7 1320.0,592.7 1330.0,592.7 1340.0,592.7 1350.0,592.7 1360.0,592.7 1370.0,592.7 1380.0,592.7 1390.0,592.7 1400.0,592.7 1410.0,592.7 1420.0,592.7 1430.0,592.7 1440.0,592.7 1450.0,592.7 1460.0,592.7 1470.0,592.7 1480.0,592.7 1480.0,950.0 540.0,950.0" fill="rgb(59,14,11)"/>
<polygon points="540.0,625.3 550.0,625.3 560.0,625.3 570.0,625.3 580.0,625.3 590.0,625.3 600.0,625.3 610.0,625.5 620.0,625.7 630.0,625.8 640.0,626.0 650.0,626.7 660.0,627.4 670.0,628.1 680.0,629.4 690.0,631.7 700.0,633.0 710.0,630.7 720.0,628.5 730.0,626.2 740.0,623.9 750.0,621.7 760.0,619.7 770.0,617.7 780.0,615.7 790.0,613.7 800.0,611.7 810.0,611.6 820.0,611.5 830.0,611.4 840.0,611.3 850.0,611.2 860.0,611.8 870.0,612.4 880.0,613.0 890.0,613.6 900.0,614.2 910.0,613.7 920.0,613.3 930.0,612.9 940.0,612.4 950.0,612.0 960.0,611.4 970.0,610.9 980.0,610.3 990.0,609.7 1000.0,609.2 1010.0,608.8 1020.0,608.5 1030.0,608.2 1040.0,607.8 1050.0,607.5 1060.0,607.9 1070.0,608.4 1080.0,608.8 1090.0,609.2 1100.0,609.7 1110.0,608.5 1120.0,607.3 1130.0,606.1 1140.0,604.9 1150.0,603.7 1160.0,602.5 1170.0,601.4 1180.0,600.3 1190.0,599.1 1200.0,598.0 1210.0,597.4 1220.0,596.8 1230.0,596.2 1240.0,595.6 1250.0,594.9 1260.0,594.3 1270.0,594.3 1280.0,594.3 1290.0,594.3 1300.0,594.3 1310.0,594.3 1320.0,594.3 1330.0,594.3 1340.0,594.3 1350.0,594.3 1360.0,594.3 1370.0,594.3 1380.0,594.3 1390.0,594.3 1400.0,594.3 1410.0,594.3 1420.0,594.3 1430.0,594.3 1440.0,594.3 1450.0,594.3 1460.0,594.3 1470.0,594.3 1480.0,594.3 1480.0,950.0 540.0,950.0" fill="rgb(58,14,11)"/>
<polygon points="540.0,630.0 550.0,630.0 560.0,630.0 570.0,630.0 580.0,630.0 590.0,630.0 600.0,630.0 610.0,630.2 620.0,630.5 630.0,630.8 640.0,631.0 650.0,631.7 660.0,632.4 670.0,633.1 680.0,633.9 690.0,634.9 700.0,636.0 710.0,633.8 720.0,631.6 730.0,629.4 740.0,627.2 750.0,625.0 760.0,623.0 770.0,621.0 780.0,619.0 790.0,617.0 800.0,615.0 810.0,615.0 820.0,615.0 830.0,615.0 840.0,615.0 850.0,615.0 860.0,615.4 870.0,615.8 880.0,616.2 890.0,616.6 900.0,617.0 910.0,616.6 920.0,616.2 930.0,615.8 940.0,615.4 950.0,615.0 960.0,614.4 970.0,613.8 980.0,613.2 990.0,612.6 1000.0,612.0 1010.0,611.6 1020.0,611.2 1030.0,610.8 1040.0,610.4 1050.0,610.0 1060.0,610.4 1070.0,610.8 1080.0,611.2 1090.0,611.6 1100.0,612.0 1110.0,610.8 1120.0,609.6 1130.0,608.4 1140.0,607.2 1150.0,606.0 1160.0,604.8 1170.0,603.6 1180.0,602.4 1190.0,601.2 1200.0,600.0 1210.0,599.3 1220.0,598.7 1230.0,598.0 1240.0,597.3 1250.0,596.7 1260.0,596.0 1270.0,596.0 1280.0,596.0 1290.0,596.0 1300.0,596.0 1310.0,596.0 1320.0,596.0 1330.0,596.0 1340.0,596.0 1350.0,596.0 1360.0,596.0 1370.0,596.0 1380.0,596.0 1390.0,596.0 1400.0,596.0 1410.0,596.0 1420.0,596.0 1430.0,596.0 1440.0,596.0 1450.0,596.0 1460.0,596.0 1470.0,596.0 1480.0,596.0 1480.0,950.0 540.0,950.0" fill="rgb(57,14,11)"/>
<polygon points="540.0,632.0 550.0,632.0 560.0,632.0 570.0,632.0 580.0,632.0 590.0,632.0 600.0,632.0 610.0,632.2 620.0,632.5 630.0,632.8 640.0,633.0 650.0,633.7 660.0,634.4 670.0,635.1 680.0,635.9 690.0,636.9 700.0,638.0 710.0,635.8 720.0,633.7 730.0,631.5 740.0,629.3 750.0,627.2 760.0,625.2 770.0,623.3 780.0,621.4 790.0,619.4 800.0,617.5 810.0,617.5 820.0,617.5 830.0,617.5 840.0,617.5 850.0,617.5 860.0,617.8 870.0,618.2 880.0,618.5 890.0,618.8 900.0,619.2 910.0,618.7 920.0,618.3 930.0,617.9 940.0,617.4 950.0,617.0 960.0,616.5 970.0,616.0 980.0,615.5 990.0,615.0 1000.0,614.5 1010.0,614.1 1020.0,613.7 1030.0,613.3 1040.0,612.9 1050.0,612.5 1060.0,612.9 1070.0,613.2 1080.0,613.6 1090.0,614.0 1100.0,614.3 1110.0,613.0 1120.0,611.7 1130.0,610.3 1140.0,609.0 1150.0,607.7 1160.0,606.4 1170.0,605.1 1180.0,603.9 1190.0,602.6 1200.0,601.3 1210.0,600.6 1220.0,599.9 1230.0,599.2 1240.0,598.4 1250.0,597.7 1260.0,597.0 1270.0,597.0 1280.0,597.0 1290.0,597.0 1300.0,597.0 1310.0,597.0 1320.0,597.0 1330.0,597.0 1340.0,597.0 1350.0,597.0 1360.0,597.0 1370.0,597.0 1380.0,597.0 1390.0,597.0 1400.0,597.0 1410.0,597.0 1420.0,597.0 1430.0,597.0 1440.0,597.0 1450.0,597.0 1460.0,597.0 1470.0,597.0 1480.0,597.0 1480.0,950.0 540.0,950.0" fill="rgb(57,14,11)"/>
<polygon points="540.0,634.0 550.0,634.0 560.0,634.0 570.0,634.0 580.0,634.0 590.0,634.0 600.0,634.0 610.0,634.2 620.0,634.5 630.0,634.8 640.0,635.0 650.0,635.7 660.0,636.4 670.0,637.1 680.0,637.9 690.0,638.9 700.0,640.0 710.0,637.9 720.0,635.7 730.0,633.6 740.0,631.5 750.0,629.3 760.0,627.5 770.0,625.6 780.0,623.7 790.0,621.9 800.0,620.0 810.0,620.0 820.0,620.0 830.0,620.0 840.0,620.0 850.0,620.0 860.0,620.3 870.0,620.5 880.0,620.8 890.0,621.1 900.0,621.3 910.0,620.9 920.0,620.4 930.0,619.9 940.0,619.5 950.0,619.0 960.0,618.6 970.0,618.2 980.0,617.8 990.0,617.4 1000.0,617.0 1010.0,616.6 1020.0,616.2 1030.0,615.8 1040.0,615.4 1050.0,615.0 1060.0,615.3 1070.0,615.7 1080.0,616.0 1090.0,616.3 1100.0,616.7 1110.0,615.2 1120.0,613.7 1130.0,612.3 1140.0,610.8 1150.0,609.3 1160.0,608.0 1170.0,606.7 1180.0,605.3 1190.0,604.0 1200.0,602.7 1210.0,601.9 1220.0,601.1 1230.0,600.3 1240.0,599.6 1250.0,598.8 1260.0,598.0 1270.0,598.0 1280.0,598.0 1290.0,598.0 1300.0,598.0 1310.0,598.0 1320.0,598.0 1330.0,598.0 1340.0,598.0 1350.0,598.0 1360.0,598.0 1370.0,598.0 1380.0,598.0 1390.0,598.0 1400.0,598.0 1410.0,598.0 1420.0,598.0 1430.0,598.0 1440.0,598.0 1450.0,598.0 1460.0,598.0 1470.0,598.0 1480.0,598.0 1480.0,950.0 540.0,950.0" fill="rgb(56,14,11)"/>
<polygon points="540.0,636.0 550.0,636.0 560.0,636.0 570.0,636.0 580.0,636.0 590.0,636.0 600.0,636.0 610.0,636.2 620.0,636.5 630.0,636.8 640.0,637.0 650.0,637.7 660.0,638.4 670.0,639.1 680.0,639.9 690.0,640.9 700.0,642.0 710.0,639.9 720.0,637.8 730.0,635.7 740.0,633.6 750.0,631.5 760.0,629.7 770.0,627.9 780.0,626.1 790.0,624.3 800.0,622.5 810.0,622.5 820.0,622.5 830.0,622.5 840.0,622.5 850.0,622.5 860.0,622.7 870.0,622.9 880.0,623.1 890.0,623.3 900.0,623.5 910.0,623.0 920.0,622.5 930.0,622.0 940.0,621.5 950.0,621.0 960.0,620.7 970.0,620.4 980.0,620.1 990.0,619.8 1000.0,619.5 1010.0,619.1 1020.0,618.7 1030.0,618.3 1040.0,617.9 1050.0,617.5 1060.0,617.8 1070.0,618.1 1080.0,618.4 1090.0,618.7 1100.0,619.0 1110.0,617.4 1120.0,615.8 1130.0,614.2 1140.0,612.6 1150.0,611.0 1160.0,609.6 1170.0,608.2 1180.0,606.8 1190.0,605.4 1200.0,604.0 1210.0,603.2 1220.0,602.3 1230.0,601.5 1240.0,600.7 1250.0,599.8 1260.0,599.0 1270.0,599.0 1280.0,599.0 1290.0,599.0 1300.0,599.0 1310.0,599.0 1320.0,599.0 1330.0,599.0 1340.0,599.0 1350.0,599.0 1360.0,599.0 1370.0,599.0 1380.0,599.0 1390.0,599.0 1400.0,599.0 1410.0,599.0 1420.0,599.0 1430.0,599.0 1440.0,599.0 1450.0,599.0 1460.0,599.0 1470.0,599.0 1480.0,599.0 1480.0,950.0 540.0,950.0" fill="rgb(55,14,11)"/>
<polygon points="540.0,638.0 550.0,638.0 560.0,638.0 570.0,638.0 580.0,638.0 590.0,638.0 600.0,638.0 610.0,638.2 620.0,638.5 630.0,638.8 640.0,639.0 650.0,639.7 660.0,640.4 670.0,641.1 680.0,641.9 690.0,642.9 700.0,644.0 710.0,641.9 720.0,639.9 730.0,637.8 740.0,635.7 750.0,633.7 760.0,631.9 770.0,630.2 780.0,628.5 790.0,626.7 800.0,625.0 810.0,625.0 820.0,625.0 830.0,625.0 840.0,625.0 850.0,625.0 860.0,625.1 870.0,625.3 880.0,625.4 890.0,625.5 900.0,625.7 910.0,625.1 920.0,624.6 930.0,624.1 940.0,623.5 950.0,623.0 960.0,622.8 970.0,622.6 980.0,622.4 990.0,622.2 1000.0,622.0 1010.0,621.6 1020.0,621.2 1030.0,620.8 1040.0,620.4 1050.0,620.0 1060.0,620.3 1070.0,620.5 1080.0,620.8 1090.0,621.1 1100.0,621.3 1110.0,619.6 1120.0,617.9 1130.0,616.1 1140.0,614.4 1150.0,612.7 1160.0,611.2 1170.0,609.7 1180.0,608.3 1190.0,606.8 1200.0,605.3 1210.0,604.4 1220.0,603.6 1230.0,602.7 1240.0,601.8 1250.0,600.9 1260.0,600.0 1270.0,600.0 1280.0,600.0 1290.0,600.0 1300.0,600.0 1310.0,600.0 1320.0,600.0 1330.0,600.0 1340.0,600.0 1350.0,600.0 1360.0,600.0 1370.0,600.0 1380.0,600.0 1390.0,600.0 1400.0,600.0 1410.0,600.0 1420.0,600.0 1430.0,600.0 1440.0,600.0 1450.0,600.0 1460.0,600.0 1470.0,600.0 1480.0,600.0 1480.0,950.0 540.0,950.0" fill="rgb(54,14,11)"/>
<polygon points="540.0,640.0 550.0,640.0 560.0,640.0 570.0,640.0 580.0,640.0 590.0,640.0 600.0,640.0 610.0,640.2 620.0,640.5 630.0,640.8 640.0,641.0 650.0,641.7 660.0,642.4 670.0,643.1 680.0,643.9 690.0,644.9 700.0,646.0 710.0,644.0 720.0,641.9 730.0,639.9 740.0,637.9 750.0,635.8 760.0,634.2 770.0,632.5 780.0,630.8 790.0,629.2 800.0,627.5 810.0,627.5 820.0,627.5 830.0,627.5 840.0,627.5 850.0,627.5 860.0,627.6 870.0,627.6 880.0,627.7 890.0,627.8 900.0,627.8 910.0,627.3 920.0,626.7 930.0,626.1 940.0,625.6 950.0,625.0 960.0,624.9 970.0,624.8 980.0,624.7 990.0,624.6 1000.0,624.5 1010.0,624.1 1020.0,623.7 1030.0,623.3 1040.0,622.9 1050.0,622.5 1060.0,622.7 1070.0,623.0 1080.0,623.2 1090.0,623.4 1100.0,623.7 1110.0,621.8 1120.0,619.9 1130.0,618.1 1140.0,616.2 1150.0,614.3 1160.0,612.8 1170.0,611.3 1180.0,609.7 1190.0,608.2 1200.0,606.7 1210.0,605.7 1220.0,604.8 1230.0,603.8 1240.0,602.9 1250.0,601.9 1260.0,601.0 1270.0,601.0 1280.0,601.0 1290.0,601.0 1300.0,601.0 1310.0,601.0 1320.0,601.0 1330.0,601.0 1340.0,601.0 1350.0,601.0 1360.0,601.0 1370.0,601.0 1380.0,601.0 1390.0,601.0 1400.0,601.0 1410.0,601.0 1420.0,601.0 1430.0,601.0 1440.0,601.0 1450.0,601.0 1460.0,601.0 1470.0,601.0 1480.0,601.0 1480.0,950.0 540.0,950.0" fill="rgb(53,14,11)"/>
<polygon points="540.0,642.0 550.0,642.0 560.0,642.0 570.0,642.0 580.0,642.0 590.0,642.0 600.0,642.0 610.0,642.2 620.0,642.5 630.0,642.8 640.0,643.0 650.0,643.7 660.0,644.4 670.0,645.1 680.0,645.9 690.0,646.9 700.0,648.0 710.0,646.0 720.0,644.0 730.0,642.0 740.0,640.0 750.0,638.0 760.0,636.4 770.0,634.8 780.0,633.2 790.0,631.6 800.0,630.0 810.0,630.0 820.0,630.0 830.0,630.0 840.0,630.0 850.0,630.0 860.0,630.0 870.0,630.0 880.0,630.0 890.0,630.0 900.0,630.0 910.0,629.4 920.0,628.8 930.0,628.2 940.0,627.6 950.0,627.0 960.0,627.0 970.0,627.0 980.0,627.0 990.0,627.0 1000.0,627.0 1010.0,626.6 1020.0,626.2 1030.0,625.8 1040.0,625.4 1050.0,625.0 1060.0,625.2 1070.0,625.4 1080.0,625.6 1090.0,625.8 1100.0,626.0 1110.0,624.0 1120.0,622.0 1130.0,620.0 1140.0,618.0 1150.0,616.0 1160.0,614.4 1170.0,612.8 1180.0,611.2 1190.0,609.6 1200.0,608.0 1210.0,607.0 1220.0,606.0 1230.0,605.0 1240.0,604.0 1250.0,603.0 1260.0,602.0 1270.0,602.0 1280.0,602.0 1290.0,602.0 1300.0,602.0 1310.0,602.0 1320.0,602.0 1330.0,602.0 1340.0,602.0 1350.0,602.0 1360.0,602.0 1370.0,602.0 1380.0,602.0 1390.0,602.0 1400.0,602.0 1410.0,602.0 1420.0,602.0 1430.0,602.0 1440.0,602.0 1450.0,602.0 1460.0,602.0 1470.0,602.0 1480.0,602.0 1480.0,950.0 540.0,950.0" fill="rgb(52,14,11)"/>
<polygon points="540.0,648.3 550.0,648.3 560.0,648.3 570.0,648.3 580.0,648.3 590.0,648.3 600.0,648.3 610.0,648.5 620.0,648.6 630.0,648.7 640.0,648.8 650.0,649.3 660.0,649.8 670.0,650.3 680.0,650.7 690.0,651.4 700.0,652.2 710.0,650.2 720.0,648.2 730.0,646.3 740.0,644.3 750.0,642.3 760.0,640.8 770.0,639.2 780.0,637.6 790.0,636.1 800.0,634.5 810.0,634.5 820.0,634.5 830.0,634.5 840.0,634.5 850.0,634.5 860.0,634.5 870.0,634.5 880.0,634.5 890.0,634.5 900.0,634.5 910.0,633.9 920.0,633.4 930.0,632.8 940.0,632.2 950.0,631.7 960.0,631.6 970.0,631.5 980.0,631.4 990.0,631.3 1000.0,631.2 1010.0,630.7 1020.0,630.2 1030.0,629.8 1040.0,629.3 1050.0,628.8 1060.0,629.0 1070.0,629.1 1080.0,629.2 1090.0,629.4 1100.0,629.5 1110.0,627.6 1120.0,625.7 1130.0,623.8 1140.0,621.9 1150.0,620.0 1160.0,618.3 1170.0,616.7 1180.0,615.0 1190.0,613.3 1200.0,611.7 1210.0,610.8 1220.0,609.9 1230.0,609.1 1240.0,608.2 1250.0,607.3 1260.0,606.5 1270.0,606.4 1280.0,606.4 1290.0,606.4 1300.0,606.3 1310.0,606.3 1320.0,606.3 1330.0,606.2 1340.0,606.2 1350.0,606.2 1360.0,606.2 1370.0,606.1 1380.0,606.1 1390.0,606.1 1400.0,606.0 1410.0,606.0 1420.0,606.0 1430.0,605.9 1440.0,605.9 1450.0,605.9 1460.0,605.8 1470.0,605.8 1480.0,605.8 1480.0,950.0 540.0,950.0" fill="rgb(51,14,11)"/>
<polygon points="540.0,654.7 550.0,654.7 560.0,654.7 570.0,654.7 580.0,654.7 590.0,654.7 600.0,654.7 610.0,654.7 620.0,654.7 630.0,654.7 640.0,654.7 650.0,654.9 660.0,655.1 670.0,655.4 680.0,655.6 690.0,656.0 700.0,656.3 710.0,654.4 720.0,652.5 730.0,650.5 740.0,648.6 750.0,646.7 760.0,645.1 770.0,643.6 780.0,642.1 790.0,640.5 800.0,639.0 810.0,639.0 820.0,639.0 830.0,639.0 840.0,639.0 850.0,639.0 860.0,639.0 870.0,639.0 880.0,639.0 890.0,639.0 900.0,639.0 910.0,638.5 920.0,637.9 930.0,637.4 940.0,636.9 950.0,636.3 960.0,636.1 970.0,635.9 980.0,635.7 990.0,635.5 1000.0,635.3 1010.0,634.8 1020.0,634.3 1030.0,633.7 1040.0,633.2 1050.0,632.7 1060.0,632.7 1070.0,632.8 1080.0,632.9 1090.0,632.9 1100.0,633.0 1110.0,631.2 1120.0,629.4 1130.0,627.6 1140.0,625.8 1150.0,624.0 1160.0,622.3 1170.0,620.5 1180.0,618.8 1190.0,617.1 1200.0,615.3 1210.0,614.6 1220.0,613.9 1230.0,613.1 1240.0,612.4 1250.0,611.7 1260.0,610.9 1270.0,610.9 1280.0,610.8 1290.0,610.8 1300.0,610.7 1310.0,610.6 1320.0,610.6 1330.0,610.5 1340.0,610.4 1350.0,610.4 1360.0,610.3 1370.0,610.2 1380.0,610.2 1390.0,610.1 1400.0,610.1 1410.0,610.0 1420.0,609.9 1430.0,609.9 1440.0,609.8 1450.0,609.7 1460.0,609.7 1470.0,609.7 1480.0,609.7 1480.0,950.0 540.0,950.0" fill="rgb(50,14,11)"/>
<polygon points="540.0,661.0 550.0,661.0 560.0,661.0 570.0,661.0 580.0,661.0 590.0,661.0 600.0,661.0 610.0,660.9 620.0,660.8 630.0,660.6 640.0,660.5 650.0,660.5 660.0,660.5 670.0,660.5 680.0,660.5 690.0,660.5 700.0,660.5 710.0,658.6 720.0,656.7 730.0,654.8 740.0,652.9 750.0,651.0 760.0,649.5 770.0,648.0 780.0,646.5 790.0,645.0 800.0,643.5 810.0,643.5 820.0,643.5 830.0,643.5 840.0,643.5 850.0,643.5 860.0,643.5 870.0,643.5 880.0,643.5 890.0,643.5 900.0,643.5 910.0,643.0 920.0,642.5 930.0,642.0 940.0,641.5 950.0,641.0 960.0,640.7 970.0,640.4 980.0,640.1 990.0,639.8 1000.0,639.5 1010.0,638.9 1020.0,638.3 1030.0,637.7 1040.0,637.1 1050.0,636.5 1060.0,636.5 1070.0,636.5 1080.0,636.5 1090.0,636.5 1100.0,636.5 1110.0,634.8 1120.0,633.1 1130.0,631.4 1140.0,629.7 1150.0,628.0 1160.0,626.2 1170.0,624.4 1180.0,622.6 1190.0,620.8 1200.0,619.0 1210.0,618.4 1220.0,617.8 1230.0,617.2 1240.0,616.6 1250.0,616.0 1260.0,615.4 1270.0,615.3 1280.0,615.2 1290.0,615.1 1300.0,615.0 1310.0,614.9 1320.0,614.8 1330.0,614.8 1340.0,614.7 1350.0,614.6 1360.0,614.5 1370.0,614.4 1380.0,614.3 1390.0,614.2 1400.0,614.1 1410.0,614.0 1420.0,613.9 1430.0,613.8 1440.0,613.7 1450.0,613.6 1460.0,613.5 1470.0,613.5 1480.0,613.5 1480.0,950.0 540.0,950.0" fill="rgb(49,14,11)"/>
<polygon points="540.0,667.3 550.0,667.3 560.0,667.3 570.0,667.3 580.0,667.3 590.0,667.3 600.0,667.3 610.0,667.1 620.0,666.8 630.0,666.6 640.0,666.3 650.0,666.1 660.0,665.9 670.0,665.6 680.0,665.4 690.0,665.0 700.0,664.7 710.0,662.8 720.0,660.9 730.0,659.1 740.0,657.2 750.0,655.3 760.0,653.9 770.0,652.4 780.0,650.9 790.0,649.5 800.0,648.0 810.0,648.0 820.0,648.0 830.0,648.0 840.0,648.0 850.0,648.0 860.0,648.0 870.0,648.0 880.0,648.0 890.0,648.0 900.0,648.0 910.0,647.5 920.0,647.1 930.0,646.6 940.0,646.1 950.0,645.7 960.0,645.3 970.0,644.9 980.0,644.5 990.0,644.1 1000.0,643.7 1010.0,643.0 1020.0,642.3 1030.0,641.7 1040.0,641.0 1050.0,640.3 1060.0,640.3 1070.0,640.2 1080.0,640.1 1090.0,640.1 1100.0,640.0 1110.0,638.4 1120.0,636.8 1130.0,635.2 1140.0,633.6 1150.0,632.0 1160.0,630.1 1170.0,628.3 1180.0,626.4 1190.0,624.5 1200.0,622.7 1210.0,622.2 1220.0,621.7 1230.0,621.3 1240.0,620.8 1250.0,620.4 1260.0,619.9 1270.0,619.8 1280.0,619.6 1290.0,619.5 1300.0,619.4 1310.0,619.3 1320.0,619.1 1330.0,619.0 1340.0,618.9 1350.0,618.7 1360.0,618.6 1370.0,618.5 1380.0,618.4 1390.0,618.2 1400.0,618.1 1410.0,618.0 1420.0,617.8 1430.0,617.7 1440.0,617.6 1450.0,617.5 1460.0,617.3 1470.0,617.3 1480.0,617.3 1480.0,950.0 540.0,950.0" fill="rgb(48,14,11)"/>
<polygon points="540.0,673.7 550.0,673.7 560.0,673.7 570.0,673.7 580.0,673.7 590.0,673.7 600.0,673.7 610.0,673.3 620.0,672.9 630.0,672.5 640.0,672.2 650.0,671.7 660.0,671.2 670.0,670.7 680.0,670.3 690.0,669.6 700.0,668.8 710.0,667.0 720.0,665.2 730.0,663.3 740.0,661.5 750.0,659.7 760.0,658.2 770.0,656.8 780.0,655.4 790.0,653.9 800.0,652.5 810.0,652.5 820.0,652.5 830.0,652.5 840.0,652.5 850.0,652.5 860.0,652.5 870.0,652.5 880.0,652.5 890.0,652.5 900.0,652.5 910.0,652.1 920.0,651.6 930.0,651.2 940.0,650.8 950.0,650.3 960.0,649.8 970.0,649.3 980.0,648.8 990.0,648.3 1000.0,647.8 1010.0,647.1 1020.0,646.4 1030.0,645.6 1040.0,644.9 1050.0,644.2 1060.0,644.0 1070.0,643.9 1080.0,643.8 1090.0,643.6 1100.0,643.5 1110.0,642.0 1120.0,640.5 1130.0,639.0 1140.0,637.5 1150.0,636.0 1160.0,634.1 1170.0,632.1 1180.0,630.2 1190.0,628.3 1200.0,626.3 1210.0,626.0 1220.0,625.7 1230.0,625.4 1240.0,625.0 1250.0,624.7 1260.0,624.4 1270.0,624.2 1280.0,624.1 1290.0,623.9 1300.0,623.7 1310.0,623.6 1320.0,623.4 1330.0,623.2 1340.0,623.1 1350.0,622.9 1360.0,622.8 1370.0,622.6 1380.0,622.4 1390.0,622.3 1400.0,622.1 1410.0,622.0 1420.0,621.8 1430.0,621.6 1440.0,621.5 1450.0,621.3 1460.0,621.2 1470.0,621.2 1480.0,621.2 1480.0,950.0 540.0,950.0" fill="rgb(47,14,11)"/>
<polygon points="540.0,680.0 550.0,680.0 560.0,680.0 570.0,680.0 580.0,680.0 590.0,680.0 600.0,680.0 610.0,679.5 620.0,679.0 630.0,678.5 640.0,678.0 650.0,677.3 660.0,676.6 670.0,675.9 680.0,675.1 690.0,674.1 700.0,673.0 710.0,671.2 720.0,669.4 730.0,667.6 740.0,665.8 750.0,664.0 760.0,662.6 770.0,661.2 780.0,659.8 790.0,658.4 800.0,657.0 810.0,657.0 820.0,657.0 830.0,657.0 840.0,657.0 850.0,657.0 860.0,657.0 870.0,657.0 880.0,657.0 890.0,657.0 900.0,657.0 910.0,656.6 920.0,656.2 930.0,655.8 940.0,655.4 950.0,655.0 960.0,654.4 970.0,653.8 980.0,653.2 990.0,652.6 1000.0,652.0 1010.0,651.2 1020.0,650.4 1030.0,649.6 1040.0,648.8 1050.0,648.0 1060.0,647.8 1070.0,647.6 1080.0,647.4 1090.0,647.2 1100.0,647.0 1110.0,645.6 1120.0,644.2 1130.0,642.8 1140.0,641.4 1150.0,640.0 1160.0,638.0 1170.0,636.0 1180.0,634.0 1190.0,632.0 1200.0,630.0 1210.0,629.8 1220.0,629.6 1230.0,629.4 1240.0,629.2 1250.0,629.0 1260.0,628.8 1270.0,628.7 1280.0,628.5 1290.0,628.3 1300.0,628.1 1310.0,627.9 1320.0,627.7 1330.0,627.5 1340.0,627.3 1350.0,627.1 1360.0,626.9 1370.0,626.7 1380.0,626.5 1390.0,626.3 1400.0,626.2 1410.0,626.0 1420.0,625.8 1430.0,625.6 1440.0,625.4 1450.0,625.2 1460.0,625.0 1470.0,625.0 1480.0,625.0 1480.0,950.0 540.0,950.0" fill="rgb(46,14,11)"/>
<polygon points="540.0,682.8 550.0,682.8 560.0,682.8 570.0,682.8 580.0,682.8 590.0,682.8 600.0,682.8 610.0,682.3 620.0,681.8 630.0,681.3 640.0,680.8 650.0,680.0 660.0,679.2 670.0,678.5 680.0,677.7 690.0,676.6 700.0,675.5 710.0,673.7 720.0,672.0 730.0,670.2 740.0,668.4 750.0,666.7 760.0,665.3 770.0,664.0 780.0,662.7 790.0,661.3 800.0,660.0 810.0,660.0 820.0,660.0 830.0,660.0 840.0,660.0 850.0,660.0 860.0,660.0 870.0,660.0 880.0,660.0 890.0,660.0 900.0,660.0 910.0,659.6 920.0,659.1 930.0,658.7 940.0,658.3 950.0,657.8 960.0,657.2 970.0,656.6 980.0,655.9 990.0,655.3 1000.0,654.7 1010.0,653.8 1020.0,652.9 1030.0,652.1 1040.0,651.2 1050.0,650.3 1060.0,650.1 1070.0,649.9 1080.0,649.6 1090.0,649.4 1100.0,649.2 1110.0,647.7 1120.0,646.3 1130.0,644.9 1140.0,643.4 1150.0,642.0 1160.0,639.9 1170.0,637.9 1180.0,635.8 1190.0,633.7 1200.0,631.7 1210.0,631.5 1220.0,631.3 1230.0,631.2 1240.0,631.0 1250.0,630.9 1260.0,630.7 1270.0,630.5 1280.0,630.4 1290.0,630.2 1300.0,630.1 1310.0,629.9 1320.0,629.7 1330.0,629.6 1340.0,629.4 1350.0,629.3 1360.0,629.1 1370.0,628.9 1380.0,628.8 1390.0,628.6 1400.0,628.5 1410.0,628.3 1420.0,628.1 1430.0,628.0 1440.0,627.8 1450.0,627.7 1460.0,627.5 1470.0,627.5 1480.0,627.5 1480.0,950.0 540.0,950.0" fill="rgb(45,14,11)"/>
<polygon points="540.0,685.7 550.0,685.7 560.0,685.7 570.0,685.7 580.0,685.7 590.0,685.7 600.0,685.7 610.0,685.2 620.0,684.7 630.0,684.2 640.0,683.7 650.0,682.8 660.0,681.9 670.0,681.0 680.0,680.2 690.0,679.1 700.0,678.0 710.0,676.3 720.0,674.5 730.0,672.8 740.0,671.1 750.0,669.3 760.0,668.1 770.0,666.8 780.0,665.5 790.0,664.3 800.0,663.0 810.0,663.0 820.0,663.0 830.0,663.0 840.0,663.0 850.0,663.0 860.0,663.0 870.0,663.0 880.0,663.0 890.0,663.0 900.0,663.0 910.0,662.5 920.0,662.1 930.0,661.6 940.0,661.1 950.0,660.7 960.0,660.0 970.0,659.3 980.0,658.7 990.0,658.0 1000.0,657.3 1010.0,656.4 1020.0,655.5 1030.0,654.5 1040.0,653.6 1050.0,652.7 1060.0,652.4 1070.0,652.1 1080.0,651.9 1090.0,651.6 1100.0,651.3 1110.0,649.9 1120.0,648.4 1130.0,646.9 1140.0,645.5 1150.0,644.0 1160.0,641.9 1170.0,639.7 1180.0,637.6 1190.0,635.5 1200.0,633.3 1210.0,633.2 1220.0,633.1 1230.0,632.9 1240.0,632.8 1250.0,632.7 1260.0,632.6 1270.0,632.4 1280.0,632.3 1290.0,632.2 1300.0,632.1 1310.0,631.9 1320.0,631.8 1330.0,631.7 1340.0,631.5 1350.0,631.4 1360.0,631.3 1370.0,631.2 1380.0,631.0 1390.0,630.9 1400.0,630.8 1410.0,630.6 1420.0,630.5 1430.0,630.4 1440.0,630.3 1450.0,630.1 1460.0,630.0 1470.0,630.0 1480.0,630.0 1480.0,950.0 540.0,950.0" fill="rgb(44,14,11)"/>
<polygon points="540.0,688.5 550.0,688.5 560.0,688.5 570.0,688.5 580.0,688.5 590.0,688.5 600.0,688.5 610.0,688.0 620.0,687.5 630.0,687.0 640.0,686.5 650.0,685.5 660.0,684.6 670.0,683.6 680.0,682.7 690.0,681.6 700.0,680.5 710.0,678.8 720.0,677.1 730.0,675.4 740.0,673.7 750.0,672.0 760.0,670.8 770.0,669.6 780.0,668.4 790.0,667.2 800.0,666.0 810.0,666.0 820.0,666.0 830.0,666.0 840.0,666.0 850.0,666.0 860.0,666.0 870.0,666.0 880.0,666.0 890.0,666.0 900.0,666.0 910.0,665.5 920.0,665.0 930.0,664.5 940.0,664.0 950.0,663.5 960.0,662.8 970.0,662.1 980.0,661.4 990.0,660.7 1000.0,660.0 1010.0,659.0 1020.0,658.0 1030.0,657.0 1040.0,656.0 1050.0,655.0 1060.0,654.7 1070.0,654.4 1080.0,654.1 1090.0,653.8 1100.0,653.5 1110.0,652.0 1120.0,650.5 1130.0,649.0 1140.0,647.5 1150.0,646.0 1160.0,643.8 1170.0,641.6 1180.0,639.4 1190.0,637.2 1200.0,635.0 1210.0,634.9 1220.0,634.8 1230.0,634.7 1240.0,634.6 1250.0,634.5 1260.0,634.4 1270.0,634.3 1280.0,634.2 1290.0,634.1 1300.0,634.0 1310.0,633.9 1320.0,633.8 1330.0,633.8 1340.0,633.7 1350.0,633.6 1360.0,633.5 1370.0,633.4 1380.0,633.3 1390.0,633.2 1400.0,633.1 1410.0,633.0 1420.0,632.9 1430.0,632.8 1440.0,632.7 1450.0,632.6 1460.0,632.5 1470.0,632.5 1480.0,632.5 1480.0,950.0 540.0,950.0" fill="rgb(43,14,11)"/>
<polygon points="540.0,691.3 550.0,691.3 560.0,691.3 570.0,691.3 580.0,691.3 590.0,691.3 600.0,691.3 610.0,690.8 620.0,690.3 630.0,689.8 640.0,689.3 650.0,688.3 660.0,687.3 670.0,686.2 680.0,685.2 690.0,684.1 700.0,683.0 710.0,681.3 720.0,679.7 730.0,678.0 740.0,676.3 750.0,674.7 760.0,673.5 770.0,672.4 780.0,671.3 790.0,670.1 800.0,669.0 810.0,669.0 820.0,669.0 830.0,669.0 840.0,669.0 850.0,669.0 860.0,669.0 870.0,669.0 880.0,669.0 890.0,669.0 900.0,669.0 910.0,668.5 920.0,667.9 930.0,667.4 940.0,666.9 950.0,666.3 960.0,665.6 970.0,664.9 980.0,664.1 990.0,663.4 1000.0,662.7 1010.0,661.6 1020.0,660.5 1030.0,659.5 1040.0,658.4 1050.0,657.3 1060.0,657.0 1070.0,656.7 1080.0,656.3 1090.0,656.0 1100.0,655.7 1110.0,654.1 1120.0,652.6 1130.0,651.1 1140.0,649.5 1150.0,648.0 1160.0,645.7 1170.0,643.5 1180.0,641.2 1190.0,638.9 1200.0,636.7 1210.0,636.6 1220.0,636.5 1230.0,636.5 1240.0,636.4 1250.0,636.3 1260.0,636.3 1270.0,636.2 1280.0,636.2 1290.0,636.1 1300.0,636.0 1310.0,636.0 1320.0,635.9 1330.0,635.8 1340.0,635.8 1350.0,635.7 1360.0,635.6 1370.0,635.6 1380.0,635.5 1390.0,635.4 1400.0,635.4 1410.0,635.3 1420.0,635.3 1430.0,635.2 1440.0,635.1 1450.0,635.1 1460.0,635.0 1470.0,635.0 1480.0,635.0 1480.0,950.0 540.0,950.0" fill="rgb(42,14,11)"/>
<polygon points="540.0,694.2 550.0,694.2 560.0,694.2 570.0,694.2 580.0,694.2 590.0,694.2 600.0,694.2 610.0,693.7 620.0,693.2 630.0,692.7 640.0,692.2 650.0,691.1 660.0,689.9 670.0,688.8 680.0,687.7 690.0,686.6 700.0,685.5 710.0,683.9 720.0,682.2 730.0,680.6 740.0,679.0 750.0,677.3 760.0,676.3 770.0,675.2 780.0,674.1 790.0,673.1 800.0,672.0 810.0,672.0 820.0,672.0 830.0,672.0 840.0,672.0 850.0,672.0 860.0,672.0 870.0,672.0 880.0,672.0 890.0,672.0 900.0,672.0 910.0,671.4 920.0,670.9 930.0,670.3 940.0,669.7 950.0,669.2 960.0,668.4 970.0,667.6 980.0,666.9 990.0,666.1 1000.0,665.3 1010.0,664.2 1020.0,663.1 1030.0,661.9 1040.0,660.8 1050.0,659.7 1060.0,659.3 1070.0,658.9 1080.0,658.6 1090.0,658.2 1100.0,657.8 1110.0,656.3 1120.0,654.7 1130.0,653.1 1140.0,651.6 1150.0,650.0 1160.0,647.7 1170.0,645.3 1180.0,643.0 1190.0,640.7 1200.0,638.3 1210.0,638.3 1220.0,638.3 1230.0,638.2 1240.0,638.2 1250.0,638.2 1260.0,638.1 1270.0,638.1 1280.0,638.1 1290.0,638.0 1300.0,638.0 1310.0,638.0 1320.0,637.9 1330.0,637.9 1340.0,637.9 1350.0,637.9 1360.0,637.8 1370.0,637.8 1380.0,637.8 1390.0,637.7 1400.0,637.7 1410.0,637.7 1420.0,637.6 1430.0,637.6 1440.0,637.6 1450.0,637.5 1460.0,637.5 1470.0,637.5 1480.0,637.5 1480.0,950.0 540.0,950.0" fill="rgb(41,14,11)"/>
<polygon points="540.0,697.0 550.0,697.0 560.0,697.0 570.0,697.0 580.0,697.0 590.0,697.0 600.0,697.0 610.0,696.5 620.0,696.0 630.0,695.5 640.0,695.0 650.0,693.8 660.0,692.6 670.0,691.4 680.0,690.2 690.0,689.1 700.0,688.0 710.0,686.4 720.0,684.8 730.0,683.2 740.0,681.6 750.0,680.0 760.0,679.0 770.0,678.0 780.0,677.0 790.0,676.0 800.0,675.0 810.0,675.0 820.0,675.0 830.0,675.0 840.0,675.0 850.0,675.0 860.0,675.0 870.0,675.0 880.0,675.0 890.0,675.0 900.0,675.0 910.0,674.4 920.0,673.8 930.0,673.2 940.0,672.6 950.0,672.0 960.0,671.2 970.0,670.4 980.0,669.6 990.0,668.8 1000.0,668.0 1010.0,666.8 1020.0,665.6 1030.0,664.4 1040.0,663.2 1050.0,662.0 1060.0,661.6 1070.0,661.2 1080.0,660.8 1090.0,660.4 1100.0,660.0 1110.0,658.4 1120.0,656.8 1130.0,655.2 1140.0,653.6 1150.0,652.0 1160.0,649.6 1170.0,647.2 1180.0,644.8 1190.0,642.4 1200.0,640.0 1210.0,640.0 1220.0,640.0 1230.0,640.0 1240.0,640.0 1250.0,640.0 1260.0,640.0 1270.0,640.0 1280.0,640.0 1290.0,640.0 1300.0,640.0 1310.0,640.0 1320.0,640.0 1330.0,640.0 1340.0,640.0 1350.0,640.0 1360.0,640.0 1370.0,640.0 1380.0,640.0 1390.0,640.0 1400.0,640.0 1410.0,640.0 1420.0,640.0 1430.0,640.0 1440.0,640.0 1450.0,640.0 1460.0,640.0 1470.0,640.0 1480.0,640.0 1480.0,950.0 540.0,950.0" fill="rgb(40,14,11)"/>
<polygon points="540.0,699.5 550.0,699.5 560.0,699.5 570.0,699.5 580.0,699.5 590.0,699.5 600.0,699.5 610.0,699.0 620.0,698.5 630.0,698.0 640.0,697.5 650.0,696.1 660.0,694.7 670.0,693.3 680.0,691.9 690.0,690.8 700.0,689.7 710.0,688.1 720.0,686.6 730.0,685.1 740.0,683.5 750.0,682.0 760.0,681.0 770.0,680.0 780.0,679.0 790.0,678.0 800.0,677.0 810.0,677.0 820.0,677.0 830.0,677.0 840.0,677.0 850.0,677.0 860.0,677.0 870.0,677.0 880.0,677.0 890.0,677.0 900.0,677.0 910.0,676.4 920.0,675.9 930.0,675.3 940.0,674.7 950.0,674.2 960.0,673.3 970.0,672.5 980.0,671.7 990.0,670.8 1000.0,670.0 1010.0,668.8 1020.0,667.6 1030.0,666.4 1040.0,665.2 1050.0,664.0 1060.0,663.6 1070.0,663.2 1080.0,662.8 1090.0,662.4 1100.0,662.0 1110.0,660.2 1120.0,658.5 1130.0,656.8 1140.0,655.0 1150.0,653.6 1160.0,651.6 1170.0,649.6 1180.0,647.5 1190.0,645.5 1200.0,643.4 1210.0,643.4 1220.0,643.4 1230.0,643.3 1240.0,643.3 1250.0,643.3 1260.0,643.2 1270.0,643.2 1280.0,643.2 1290.0,643.1 1300.0,643.1 1310.0,643.0 1320.0,643.0 1330.0,643.0 1340.0,642.9 1350.0,642.9 1360.0,642.9 1370.0,642.8 1380.0,642.8 1390.0,642.8 1400.0,642.7 1410.0,642.7 1420.0,642.6 1430.0,642.6 1440.0,642.6 1450.0,642.5 1460.0,642.5 1470.0,642.5 1480.0,642.5 1480.0,950.0 540.0,950.0" fill="rgb(39,14,11)"/>
<polygon points="540.0,702.0 550.0,702.0 560.0,702.0 570.0,702.0 580.0,702.0 590.0,702.0 600.0,702.0 610.0,701.5 620.0,701.0 630.0,700.5 640.0,700.0 650.0,698.4 660.0,696.8 670.0,695.2 680.0,693.7 690.0,692.4 700.0,691.3 710.0,689.9 720.0,688.4 730.0,686.9 740.0,685.5 750.0,684.0 760.0,683.0 770.0,682.0 780.0,681.0 790.0,680.0 800.0,679.0 810.0,679.0 820.0,679.0 830.0,679.0 840.0,679.0 850.0,679.0 860.0,679.0 870.0,679.0 880.0,679.0 890.0,679.0 900.0,679.0 910.0,678.5 920.0,677.9 930.0,677.4 940.0,676.9 950.0,676.3 960.0,675.5 970.0,674.6 980.0,673.7 990.0,672.9 1000.0,672.0 1010.0,670.8 1020.0,669.6 1030.0,668.4 1040.0,667.2 1050.0,666.0 1060.0,665.6 1070.0,665.2 1080.0,664.8 1090.0,664.4 1100.0,664.0 1110.0,662.1 1120.0,660.2 1130.0,658.3 1140.0,656.4 1150.0,655.3 1160.0,653.6 1170.0,651.9 1180.0,650.2 1190.0,648.6 1200.0,646.9 1210.0,646.8 1220.0,646.8 1230.0,646.7 1240.0,646.6 1250.0,646.5 1260.0,646.5 1270.0,646.4 1280.0,646.3 1290.0,646.2 1300.0,646.2 1310.0,646.1 1320.0,646.0 1330.0,645.9 1340.0,645.9 1350.0,645.8 1360.0,645.7 1370.0,645.7 1380.0,645.6 1390.0,645.5 1400.0,645.4 1410.0,645.4 1420.0,645.3 1430.0,645.2 1440.0,645.1 1450.0,645.1 1460.0,645.0 1470.0,645.0 1480.0,645.0 1480.0,950.0 540.0,950.0" fill="rgb(38,14,11)"/>
<polygon points="540.0,704.5 550.0,704.5 560.0,704.5 570.0,704.5 580.0,704.5 590.0,704.5 600.0,704.5 610.0,704.0 620.0,703.5 630.0,703.0 640.0,702.5 650.0,700.7 660.0,698.9 670.0,697.1 680.0,695.4 690.0,694.1 700.0,693.0 710.0,691.6 720.0,690.2 730.0,688.8 740.0,687.4 750.0,686.0 760.0,685.0 770.0,684.0 780.0,683.0 790.0,682.0 800.0,681.0 810.0,681.0 820.0,681.0 830.0,681.0 840.0,681.0 850.0,681.0 860.0,681.0 870.0,681.0 880.0,681.0 890.0,681.0 900.0,681.0 910.0,680.5 920.0,680.0 930.0,679.5 940.0,679.0 950.0,678.5 960.0,677.6 970.0,676.7 980.0,675.8 990.0,674.9 1000.0,674.0 1010.0,672.8 1020.0,671.6 1030.0,670.4 1040.0,669.2 1050.0,668.0 1060.0,667.6 1070.0,667.2 1080.0,666.8 1090.0,666.4 1100.0,666.0 1110.0,664.0 1120.0,661.9 1130.0,659.9 1140.0,657.8 1150.0,656.9 1160.0,655.6 1170.0,654.3 1180.0,653.0 1190.0,651.7 1200.0,650.3 1210.0,650.2 1220.0,650.1 1230.0,650.0 1240.0,649.9 1250.0,649.8 1260.0,649.7 1270.0,649.6 1280.0,649.5 1290.0,649.4 1300.0,649.2 1310.0,649.1 1320.0,649.0 1330.0,648.9 1340.0,648.8 1350.0,648.7 1360.0,648.6 1370.0,648.5 1380.0,648.4 1390.0,648.3 1400.0,648.2 1410.0,648.0 1420.0,647.9 1430.0,647.8 1440.0,647.7 1450.0,647.6 1460.0,647.5 1470.0,647.5 1480.0,647.5 1480.0,950.0 540.0,950.0" fill="rgb(37,14,11)"/>
<polygon points="540.0,707.0 550.0,707.0 560.0,707.0 570.0,707.0 580.0,707.0 590.0,707.0 600.0,707.0 610.0,706.5 620.0,706.0 630.0,705.5 640.0,705.0 650.0,703.0 660.0,701.0 670.0,699.0 680.0,697.1 690.0,695.8 700.0,694.7 710.0,693.3 720.0,692.0 730.0,690.7 740.0,689.3 750.0,688.0 760.0,687.0 770.0,686.0 780.0,685.0 790.0,684.0 800.0,683.0 810.0,683.0 820.0,683.0 830.0,683.0 840.0,683.0 850.0,683.0 860.0,683.0 870.0,683.0 880.0,683.0 890.0,683.0 900.0,683.0 910.0,682.5 920.0,682.1 930.0,681.6 940.0,681.1 950.0,680.7 960.0,679.7 970.0,678.8 980.0,677.9 990.0,676.9 1000.0,676.0 1010.0,674.8 1020.0,673.6 1030.0,672.4 1040.0,671.2 1050.0,670.0 1060.0,669.6 1070.0,669.2 1080.0,668.8 1090.0,668.4 1100.0,668.0 1110.0,665.8 1120.0,663.6 1130.0,661.4 1140.0,659.2 1150.0,658.5 1160.0,657.6 1170.0,656.6 1180.0,655.7 1190.0,654.7 1200.0,653.8 1210.0,653.6 1220.0,653.5 1230.0,653.4 1240.0,653.2 1250.0,653.1 1260.0,652.9 1270.0,652.8 1280.0,652.6 1290.0,652.5 1300.0,652.3 1310.0,652.2 1320.0,652.0 1330.0,651.9 1340.0,651.8 1350.0,651.6 1360.0,651.5 1370.0,651.3 1380.0,651.2 1390.0,651.0 1400.0,650.9 1410.0,650.7 1420.0,650.6 1430.0,650.4 1440.0,650.3 1450.0,650.1 1460.0,650.0 1470.0,650.0 1480.0,650.0 1480.0,950.0 540.0,950.0" fill="rgb(36,14,11)"/>
<polygon points="540.0,709.5 550.0,709.5 560.0,709.5 570.0,709.5 580.0,709.5 590.0,709.5 600.0,709.5 610.0,709.0 620.0,708.5 630.0,708.0 640.0,707.5 650.0,705.3 660.0,703.1 670.0,701.0 680.0,698.8 690.0,697.4 700.0,696.3 710.0,695.1 720.0,693.8 730.0,692.5 740.0,691.3 750.0,690.0 760.0,689.0 770.0,688.0 780.0,687.0 790.0,686.0 800.0,685.0 810.0,685.0 820.0,685.0 830.0,685.0 840.0,685.0 850.0,685.0 860.0,685.0 870.0,685.0 880.0,685.0 890.0,685.0 900.0,685.0 910.0,684.6 920.0,684.1 930.0,683.7 940.0,683.3 950.0,682.8 960.0,681.9 970.0,680.9 980.0,679.9 990.0,679.0 1000.0,678.0 1010.0,676.8 1020.0,675.6 1030.0,674.4 1040.0,673.2 1050.0,672.0 1060.0,671.6 1070.0,671.2 1080.0,670.8 1090.0,670.4 1100.0,670.0 1110.0,667.6 1120.0,665.3 1130.0,663.0 1140.0,660.6 1150.0,660.2 1160.0,659.6 1170.0,659.0 1180.0,658.4 1190.0,657.8 1200.0,657.2 1210.0,657.1 1220.0,656.9 1230.0,656.7 1240.0,656.5 1250.0,656.3 1260.0,656.1 1270.0,656.0 1280.0,655.8 1290.0,655.6 1300.0,655.4 1310.0,655.2 1320.0,655.1 1330.0,654.9 1340.0,654.7 1350.0,654.5 1360.0,654.3 1370.0,654.1 1380.0,654.0 1390.0,653.8 1400.0,653.6 1410.0,653.4 1420.0,653.2 1430.0,653.0 1440.0,652.9 1450.0,652.7 1460.0,652.5 1470.0,652.5 1480.0,652.5 1480.0,950.0 540.0,950.0" fill="rgb(35,14,11)"/>
<polygon points="540.0,712.0 550.0,712.0 560.0,712.0 570.0,712.0 580.0,712.0 590.0,712.0 600.0,712.0 610.0,711.5 620.0,711.0 630.0,710.5 640.0,710.0 650.0,707.6 660.0,705.2 670.0,702.9 680.0,700.5 690.0,699.1 700.0,698.0 710.0,696.8 720.0,695.6 730.0,694.4 740.0,693.2 750.0,692.0 760.0,691.0 770.0,690.0 780.0,689.0 790.0,688.0 800.0,687.0 810.0,687.0 820.0,687.0 830.0,687.0 840.0,687.0 850.0,687.0 860.0,687.0 870.0,687.0 880.0,687.0 890.0,687.0 900.0,687.0 910.0,686.6 920.0,686.2 930.0,685.8 940.0,685.4 950.0,685.0 960.0,684.0 970.0,683.0 980.0,682.0 990.0,681.0 1000.0,680.0 1010.0,678.8 1020.0,677.6 1030.0,676.4 1040.0,675.2 1050.0,674.0 1060.0,673.6 1070.0,673.2 1080.0,672.8 1090.0,672.4 1100.0,672.0 1110.0,669.5 1120.0,667.0 1130.0,664.5 1140.0,662.0 1150.0,661.8 1160.0,661.6 1170.0,661.3 1180.0,661.1 1190.0,660.9 1200.0,660.7 1210.0,660.5 1220.0,660.2 1230.0,660.0 1240.0,659.8 1250.0,659.6 1260.0,659.4 1270.0,659.2 1280.0,658.9 1290.0,658.7 1300.0,658.5 1310.0,658.3 1320.0,658.1 1330.0,657.8 1340.0,657.6 1350.0,657.4 1360.0,657.2 1370.0,657.0 1380.0,656.8 1390.0,656.5 1400.0,656.3 1410.0,656.1 1420.0,655.9 1430.0,655.7 1440.0,655.4 1450.0,655.2 1460.0,655.0 1470.0,655.0 1480.0,655.0 1480.0,950.0 540.0,950.0" fill="rgb(34,14,11)"/>
<polygon points="540.0,716.7 550.0,716.7 560.0,716.7 570.0,716.7 580.0,716.7 590.0,716.7 600.0,716.7 610.0,715.9 620.0,715.2 630.0,714.4 640.0,713.7 650.0,711.3 660.0,706.9 670.0,703.3 680.0,701.3 690.0,700.0 700.0,699.0 710.0,700.9 720.0,701.0 730.0,700.2 740.0,699.0 750.0,697.8 760.0,694.9 770.0,693.8 780.0,692.0 790.0,689.9 800.0,688.7 810.0,688.8 820.0,688.9 830.0,689.0 840.0,689.1 850.0,689.2 860.0,689.2 870.0,689.3 880.0,689.4 890.0,689.4 900.0,689.5 910.0,689.2 920.0,688.8 930.0,688.5 940.0,688.2 950.0,687.8 960.0,687.0 970.0,686.2 980.0,685.4 990.0,684.6 1000.0,683.8 1010.0,682.8 1020.0,681.8 1030.0,680.7 1040.0,679.7 1050.0,678.7 1060.0,678.2 1070.0,677.7 1080.0,677.3 1090.0,676.8 1100.0,676.3 1110.0,673.8 1120.0,671.3 1130.0,668.8 1140.0,665.8 1150.0,664.8 1160.0,664.6 1170.0,664.3 1180.0,664.1 1190.0,663.9 1200.0,663.6 1210.0,663.4 1220.0,663.2 1230.0,662.9 1240.0,662.7 1250.0,662.5 1260.0,662.2 1270.0,662.0 1280.0,661.7 1290.0,661.5 1300.0,661.3 1310.0,661.0 1320.0,660.8 1330.0,660.6 1340.0,660.3 1350.0,660.1 1360.0,659.9 1370.0,659.6 1380.0,659.4 1390.0,659.2 1400.0,658.9 1410.0,658.7 1420.0,658.4 1430.0,658.2 1440.0,658.0 1450.0,657.7 1460.0,657.5 1470.0,657.5 1480.0,657.5 1480.0,950.0 540.0,950.0" fill="rgb(33,14,11)"/>
<polygon points="540.0,721.3 550.0,721.3 560.0,721.3 570.0,721.3 580.0,721.3 590.0,721.3 600.0,721.3 610.0,720.3 620.0,719.3 630.0,718.3 640.0,717.3 650.0,715.1 660.0,708.5 670.0,703.8 680.0,702.0 690.0,700.9 700.0,700.0 710.0,705.0 720.0,706.4 730.0,706.1 740.0,704.9 750.0,703.7 760.0,698.8 770.0,697.6 780.0,695.0 790.0,691.8 800.0,690.3 810.0,690.5 820.0,690.7 830.0,690.9 840.0,691.1 850.0,691.3 860.0,691.5 870.0,691.6 880.0,691.7 890.0,691.9 900.0,692.0 910.0,691.7 920.0,691.5 930.0,691.2 940.0,690.9 950.0,690.7 960.0,690.1 970.0,689.5 980.0,688.9 990.0,688.3 1000.0,687.7 1010.0,686.8 1020.0,685.9 1030.0,685.1 1040.0,684.2 1050.0,683.3 1060.0,682.8 1070.0,682.3 1080.0,681.7 1090.0,681.2 1100.0,680.7 1110.0,678.1 1120.0,675.6 1130.0,673.0 1140.0,669.7 1150.0,667.9 1160.0,667.6 1170.0,667.3 1180.0,667.1 1190.0,666.8 1200.0,666.6 1210.0,666.3 1220.0,666.1 1230.0,665.8 1240.0,665.6 1250.0,665.3 1260.0,665.1 1270.0,664.8 1280.0,664.6 1290.0,664.3 1300.0,664.1 1310.0,663.8 1320.0,663.5 1330.0,663.3 1340.0,663.0 1350.0,662.8 1360.0,662.5 1370.0,662.3 1380.0,662.0 1390.0,661.8 1400.0,661.5 1410.0,661.3 1420.0,661.0 1430.0,660.8 1440.0,660.5 1450.0,660.3 1460.0,660.0 1470.0,660.0 1480.0,660.0 1480.0,950.0 540.0,950.0" fill="rgb(32,14,11)"/>
<polygon points="540.0,726.0 550.0,726.0 560.0,726.0 570.0,726.0 580.0,726.0 590.0,726.0 600.0,726.0 610.0,724.8 620.0,723.5 630.0,722.2 640.0,721.0 650.0,718.8 660.0,710.1 670.0,704.3 680.0,702.8 690.0,701.8 700.0,701.0 710.0,709.1 720.0,711.8 730.0,711.9 740.0,710.7 750.0,709.5 760.0,702.6 770.0,701.4 780.0,698.0 790.0,693.7 800.0,692.0 810.0,692.3 820.0,692.6 830.0,692.9 840.0,693.2 850.0,693.5 860.0,693.7 870.0,693.9 880.0,694.1 890.0,694.3 900.0,694.5 910.0,694.3 920.0,694.1 930.0,693.9 940.0,693.7 950.0,693.5 960.0,693.1 970.0,692.7 980.0,692.3 990.0,691.9 1000.0,691.5 1010.0,690.8 1020.0,690.1 1030.0,689.4 1040.0,688.7 1050.0,688.0 1060.0,687.4 1070.0,686.8 1080.0,686.2 1090.0,685.6 1100.0,685.0 1110.0,682.4 1120.0,679.8 1130.0,677.2 1140.0,673.5 1150.0,670.9 1160.0,670.6 1170.0,670.3 1180.0,670.1 1190.0,669.8 1200.0,669.5 1210.0,669.3 1220.0,669.0 1230.0,668.7 1240.0,668.5 1250.0,668.2 1260.0,667.9 1270.0,667.6 1280.0,667.4 1290.0,667.1 1300.0,666.8 1310.0,666.6 1320.0,666.3 1330.0,666.0 1340.0,665.7 1350.0,665.5 1360.0,665.2 1370.0,664.9 1380.0,664.7 1390.0,664.4 1400.0,664.1 1410.0,663.9 1420.0,663.6 1430.0,663.3 1440.0,663.0 1450.0,662.8 1460.0,662.5 1470.0,662.5 1480.0,662.5 1480.0,950.0 540.0,950.0" fill="rgb(31,14,11)"/>
<polygon points="540.0,730.7 550.0,730.7 560.0,730.7 570.0,730.7 580.0,730.7 590.0,730.7 600.0,730.7 610.0,729.2 620.0,727.7 630.0,726.2 640.0,724.7 650.0,722.5 660.0,711.7 670.0,704.8 680.0,703.6 690.0,702.8 700.0,702.0 710.0,713.3 720.0,717.3 730.0,717.7 740.0,716.5 750.0,715.3 760.0,706.5 770.0,705.2 780.0,701.0 790.0,695.5 800.0,693.7 810.0,694.1 820.0,694.5 830.0,694.9 840.0,695.3 850.0,695.7 860.0,695.9 870.0,696.2 880.0,696.5 890.0,696.7 900.0,697.0 910.0,696.9 920.0,696.7 930.0,696.6 940.0,696.5 950.0,696.3 960.0,696.1 970.0,695.9 980.0,695.7 990.0,695.5 1000.0,695.3 1010.0,694.8 1020.0,694.3 1030.0,693.7 1040.0,693.2 1050.0,692.7 1060.0,692.0 1070.0,691.3 1080.0,690.7 1090.0,690.0 1100.0,689.3 1110.0,686.7 1120.0,684.1 1130.0,681.5 1140.0,677.3 1150.0,673.9 1160.0,673.6 1170.0,673.4 1180.0,673.1 1190.0,672.8 1200.0,672.5 1210.0,672.2 1220.0,671.9 1230.0,671.6 1240.0,671.3 1250.0,671.0 1260.0,670.8 1270.0,670.5 1280.0,670.2 1290.0,669.9 1300.0,669.6 1310.0,669.3 1320.0,669.0 1330.0,668.7 1340.0,668.5 1350.0,668.2 1360.0,667.9 1370.0,667.6 1380.0,667.3 1390.0,667.0 1400.0,666.7 1410.0,666.4 1420.0,666.2 1430.0,665.9 1440.0,665.6 1450.0,665.3 1460.0,665.0 1470.0,665.0 1480.0,665.0 1480.0,950.0 540.0,950.0" fill="rgb(30,14,11)"/>
<polygon points="540.0,735.3 550.0,735.3 560.0,735.3 570.0,735.3 580.0,735.3 590.0,735.3 600.0,735.3 610.0,733.6 620.0,731.8 630.0,730.1 640.0,728.3 650.0,726.3 660.0,713.4 670.0,705.3 680.0,704.4 690.0,703.7 700.0,703.0 710.0,717.4 720.0,722.7 730.0,723.6 740.0,722.4 750.0,721.2 760.0,710.4 770.0,709.0 780.0,704.0 790.0,697.4 800.0,695.3 810.0,695.8 820.0,696.3 830.0,696.8 840.0,697.3 850.0,697.8 860.0,698.2 870.0,698.5 880.0,698.8 890.0,699.2 900.0,699.5 910.0,699.4 920.0,699.4 930.0,699.3 940.0,699.2 950.0,699.2 960.0,699.2 970.0,699.2 980.0,699.2 990.0,699.2 1000.0,699.2 1010.0,698.8 1020.0,698.4 1030.0,698.1 1040.0,697.7 1050.0,697.3 1060.0,696.6 1070.0,695.9 1080.0,695.1 1090.0,694.4 1100.0,693.7 1110.0,691.0 1120.0,688.4 1130.0,685.8 1140.0,681.2 1150.0,677.0 1160.0,676.7 1170.0,676.4 1180.0,676.0 1190.0,675.7 1200.0,675.4 1210.0,675.1 1220.0,674.8 1230.0,674.5 1240.0,674.2 1250.0,673.9 1260.0,673.6 1270.0,673.3 1280.0,673.0 1290.0,672.7 1300.0,672.4 1310.0,672.1 1320.0,671.8 1330.0,671.5 1340.0,671.2 1350.0,670.9 1360.0,670.6 1370.0,670.2 1380.0,669.9 1390.0,669.6 1400.0,669.3 1410.0,669.0 1420.0,668.7 1430.0,668.4 1440.0,668.1 1450.0,667.8 1460.0,667.5 1470.0,667.5 1480.0,667.5 1480.0,950.0 540.0,950.0" fill="rgb(29,14,11)"/>
<polygon points="540.0,740.0 550.0,740.0 560.0,740.0 570.0,740.0 580.0,740.0 590.0,740.0 600.0,740.0 610.0,738.0 620.0,736.0 630.0,734.0 640.0,732.0 650.0,730.0 660.0,715.0 670.0,705.8 680.0,705.2 690.0,704.6 700.0,704.0 710.0,721.5 720.0,728.1 730.0,729.4 740.0,728.2 750.0,727.0 760.0,714.2 770.0,712.8 780.0,707.0 790.0,699.3 800.0,697.0 810.0,697.6 820.0,698.2 830.0,698.8 840.0,699.4 850.0,700.0 860.0,700.4 870.0,700.8 880.0,701.2 890.0,701.6 900.0,702.0 910.0,702.0 920.0,702.0 930.0,702.0 940.0,702.0 950.0,702.0 960.0,702.2 970.0,702.4 980.0,702.6 990.0,702.8 1000.0,703.0 1010.0,702.8 1020.0,702.6 1030.0,702.4 1040.0,702.2 1050.0,702.0 1060.0,701.2 1070.0,700.4 1080.0,699.6 1090.0,698.8 1100.0,698.0 1110.0,695.3 1120.0,692.7 1130.0,690.0 1140.0,685.0 1150.0,680.0 1160.0,679.7 1170.0,679.4 1180.0,679.0 1190.0,678.7 1200.0,678.4 1210.0,678.1 1220.0,677.7 1230.0,677.4 1240.0,677.1 1250.0,676.8 1260.0,676.5 1270.0,676.1 1280.0,675.8 1290.0,675.5 1300.0,675.2 1310.0,674.8 1320.0,674.5 1330.0,674.2 1340.0,673.9 1350.0,673.5 1360.0,673.2 1370.0,672.9 1380.0,672.6 1390.0,672.3 1400.0,671.9 1410.0,671.6 1420.0,671.3 1430.0,671.0 1440.0,670.6 1450.0,670.3 1460.0,670.0 1470.0,670.0 1480.0,670.0 1480.0,950.0 540.0,950.0" fill="rgb(28,14,11)"/>
<polygon points="540.0,743.3 550.0,743.3 560.0,743.3 570.0,743.3 580.0,743.3 590.0,743.3 600.0,743.3 610.0,741.1 620.0,739.0 630.0,736.8 640.0,734.6 650.0,732.4 660.0,719.4 670.0,711.2 680.0,710.1 690.0,709.1 700.0,708.0 710.0,723.5 720.0,729.9 730.0,731.6 740.0,730.8 750.0,730.0 760.0,719.2 770.0,717.7 780.0,712.2 790.0,704.4 800.0,701.2 810.0,701.5 820.0,701.9 830.0,702.3 840.0,702.6 850.0,703.0 860.0,703.4 870.0,703.8 880.0,704.2 890.0,704.6 900.0,705.0 910.0,705.1 920.0,705.1 930.0,705.2 940.0,705.3 950.0,705.3 960.0,705.4 970.0,705.5 980.0,705.6 990.0,705.7 1000.0,705.8 1010.0,705.7 1020.0,705.5 1030.0,705.3 1040.0,705.2 1050.0,705.0 1060.0,704.4 1070.0,703.8 1080.0,703.2 1090.0,702.6 1100.0,702.0 1110.0,699.5 1120.0,697.1 1130.0,694.6 1140.0,690.2 1150.0,686.0 1160.0,685.7 1170.0,685.5 1180.0,685.2 1190.0,684.9 1200.0,684.7 1210.0,684.4 1220.0,684.1 1230.0,683.8 1240.0,683.6 1250.0,683.3 1260.0,683.0 1270.0,682.8 1280.0,682.5 1290.0,682.2 1300.0,682.0 1310.0,681.7 1320.0,681.4 1330.0,681.2 1340.0,680.9 1350.0,680.6 1360.0,680.4 1370.0,680.1 1380.0,679.8 1390.0,679.5 1400.0,679.3 1410.0,679.0 1420.0,678.7 1430.0,678.5 1440.0,678.2 1450.0,677.9 1460.0,677.7 1470.0,677.7 1480.0,677.7 1480.0,950.0 540.0,950.0" fill="rgb(28,14,11)"/>
<polygon points="540.0,746.7 550.0,746.7 560.0,746.7 570.0,746.7 580.0,746.7 590.0,746.7 600.0,746.7 610.0,744.3 620.0,741.9 630.0,739.5 640.0,737.2 650.0,734.8 660.0,723.8 670.0,716.6 680.0,715.1 690.0,713.6 700.0,712.0 710.0,725.5 720.0,731.8 730.0,733.8 740.0,733.4 750.0,733.0 760.0,724.1 770.0,722.7 780.0,717.3 790.0,709.5 800.0,705.3 810.0,705.5 820.0,705.6 830.0,705.7 840.0,705.9 850.0,706.0 860.0,706.4 870.0,706.8 880.0,707.2 890.0,707.6 900.0,708.0 910.0,708.1 920.0,708.3 930.0,708.4 940.0,708.5 950.0,708.7 960.0,708.7 970.0,708.7 980.0,708.7 990.0,708.7 1000.0,708.7 1010.0,708.5 1020.0,708.4 1030.0,708.3 1040.0,708.1 1050.0,708.0 1060.0,707.6 1070.0,707.2 1080.0,706.8 1090.0,706.4 1100.0,706.0 1110.0,703.7 1120.0,701.4 1130.0,699.2 1140.0,695.3 1150.0,692.0 1160.0,691.8 1170.0,691.6 1180.0,691.4 1190.0,691.1 1200.0,690.9 1210.0,690.7 1220.0,690.5 1230.0,690.3 1240.0,690.1 1250.0,689.8 1260.0,689.6 1270.0,689.4 1280.0,689.2 1290.0,689.0 1300.0,688.8 1310.0,688.6 1320.0,688.3 1330.0,688.1 1340.0,687.9 1350.0,687.7 1360.0,687.5 1370.0,687.3 1380.0,687.1 1390.0,686.8 1400.0,686.6 1410.0,686.4 1420.0,686.2 1430.0,686.0 1440.0,685.8 1450.0,685.5 1460.0,685.3 1470.0,685.3 1480.0,685.3 1480.0,950.0 540.0,950.0" fill="rgb(27,14,11)"/>
<polygon points="540.0,750.0 550.0,750.0 560.0,750.0 570.0,750.0 580.0,750.0 590.0,750.0 600.0,750.0 610.0,747.4 620.0,744.9 630.0,742.3 640.0,739.8 650.0,737.2 660.0,728.1 670.0,721.9 680.0,720.1 690.0,718.0 700.0,716.0 710.0,727.5 720.0,733.6 730.0,736.0 740.0,736.0 750.0,736.0 760.0,729.0 770.0,727.7 780.0,722.5 790.0,714.7 800.0,709.5 810.0,709.4 820.0,709.3 830.0,709.2 840.0,709.1 850.0,709.0 860.0,709.4 870.0,709.8 880.0,710.2 890.0,710.6 900.0,711.0 910.0,711.2 920.0,711.4 930.0,711.6 940.0,711.8 950.0,712.0 960.0,711.9 970.0,711.8 980.0,711.7 990.0,711.6 1000.0,711.5 1010.0,711.4 1020.0,711.3 1030.0,711.2 1040.0,711.1 1050.0,711.0 1060.0,710.8 1070.0,710.6 1080.0,710.4 1090.0,710.2 1100.0,710.0 1110.0,707.9 1120.0,705.8 1130.0,703.8 1140.0,700.5 1150.0,698.0 1160.0,697.8 1170.0,697.7 1180.0,697.5 1190.0,697.4 1200.0,697.2 1210.0,697.0 1220.0,696.9 1230.0,696.7 1240.0,696.5 1250.0,696.4 1260.0,696.2 1270.0,696.1 1280.0,695.9 1290.0,695.7 1300.0,695.6 1310.0,695.4 1320.0,695.3 1330.0,695.1 1340.0,694.9 1350.0,694.8 1360.0,694.6 1370.0,694.5 1380.0,694.3 1390.0,694.1 1400.0,694.0 1410.0,693.8 1420.0,693.6 1430.0,693.5 1440.0,693.3 1450.0,693.2 1460.0,693.0 1470.0,693.0 1480.0,693.0 1480.0,950.0 540.0,950.0" fill="rgb(26,14,11)"/>
<polygon points="540.0,753.3 550.0,753.3 560.0,753.3 570.0,753.3 580.0,753.3 590.0,753.3 600.0,753.3 610.0,750.6 620.0,747.8 630.0,745.1 640.0,742.3 650.0,739.6 660.0,732.5 670.0,727.3 680.0,725.1 690.0,722.5 700.0,720.0 710.0,729.6 720.0,735.5 730.0,738.2 740.0,738.6 750.0,739.0 760.0,733.9 770.0,732.6 780.0,727.7 790.0,719.8 800.0,713.7 810.0,713.3 820.0,713.0 830.0,712.7 840.0,712.3 850.0,712.0 860.0,712.4 870.0,712.8 880.0,713.2 890.0,713.6 900.0,714.0 910.0,714.3 920.0,714.5 930.0,714.8 940.0,715.1 950.0,715.3 960.0,715.1 970.0,714.9 980.0,714.7 990.0,714.5 1000.0,714.3 1010.0,714.3 1020.0,714.2 1030.0,714.1 1040.0,714.1 1050.0,714.0 1060.0,714.0 1070.0,714.0 1080.0,714.0 1090.0,714.0 1100.0,714.0 1110.0,712.1 1120.0,710.2 1130.0,708.3 1140.0,705.7 1150.0,704.0 1160.0,703.9 1170.0,703.8 1180.0,703.7 1190.0,703.6 1200.0,703.5 1210.0,703.4 1220.0,703.2 1230.0,703.1 1240.0,703.0 1250.0,702.9 1260.0,702.8 1270.0,702.7 1280.0,702.6 1290.0,702.5 1300.0,702.4 1310.0,702.3 1320.0,702.2 1330.0,702.1 1340.0,702.0 1350.0,701.8 1360.0,701.7 1370.0,701.6 1380.0,701.5 1390.0,701.4 1400.0,701.3 1410.0,701.2 1420.0,701.1 1430.0,701.0 1440.0,700.9 1450.0,700.8 1460.0,700.7 1470.0,700.7 1480.0,700.7 1480.0,950.0 540.0,950.0" fill="rgb(25,14,11)"/>
<polygon points="540.0,756.7 550.0,756.7 560.0,756.7 570.0,756.7 580.0,756.7 590.0,756.7 600.0,756.7 610.0,753.7 620.0,750.8 630.0,747.9 640.0,744.9 650.0,742.0 660.0,736.9 670.0,732.7 680.0,730.0 690.0,727.0 700.0,724.0 710.0,731.6 720.0,737.3 730.0,740.4 740.0,741.2 750.0,742.0 760.0,738.9 770.0,737.6 780.0,732.8 790.0,724.9 800.0,717.8 810.0,717.3 820.0,716.7 830.0,716.1 840.0,715.6 850.0,715.0 860.0,715.4 870.0,715.8 880.0,716.2 890.0,716.6 900.0,717.0 910.0,717.3 920.0,717.7 930.0,718.0 940.0,718.3 950.0,718.7 960.0,718.4 970.0,718.1 980.0,717.8 990.0,717.5 1000.0,717.2 1010.0,717.1 1020.0,717.1 1030.0,717.1 1040.0,717.0 1050.0,717.0 1060.0,717.2 1070.0,717.4 1080.0,717.6 1090.0,717.8 1100.0,718.0 1110.0,716.3 1120.0,714.6 1130.0,712.9 1140.0,710.8 1150.0,710.0 1160.0,709.9 1170.0,709.9 1180.0,709.8 1190.0,709.8 1200.0,709.7 1210.0,709.7 1220.0,709.6 1230.0,709.6 1240.0,709.5 1250.0,709.5 1260.0,709.4 1270.0,709.4 1280.0,709.3 1290.0,709.2 1300.0,709.2 1310.0,709.1 1320.0,709.1 1330.0,709.0 1340.0,709.0 1350.0,708.9 1360.0,708.9 1370.0,708.8 1380.0,708.8 1390.0,708.7 1400.0,708.7 1410.0,708.6 1420.0,708.5 1430.0,708.5 1440.0,708.4 1450.0,708.4 1460.0,708.3 1470.0,708.3 1480.0,708.3 1480.0,950.0 540.0,950.0" fill="rgb(24,14,11)"/>
<polygon points="540.0,760.0 550.0,760.0 560.0,760.0 570.0,760.0 580.0,760.0 590.0,760.0 600.0,760.0 610.0,756.9 620.0,753.8 630.0,750.6 640.0,747.5 650.0,744.4 660.0,741.2 670.0,738.1 680.0,735.0 690.0,731.5 700.0,728.0 710.0,733.6 720.0,739.2 730.0,742.6 740.0,743.8 750.0,745.0 760.0,743.8 770.0,742.6 780.0,738.0 790.0,730.0 800.0,722.0 810.0,721.2 820.0,720.4 830.0,719.6 840.0,718.8 850.0,718.0 860.0,718.4 870.0,718.8 880.0,719.2 890.0,719.6 900.0,720.0 910.0,720.4 920.0,720.8 930.0,721.2 940.0,721.6 950.0,722.0 960.0,721.6 970.0,721.2 980.0,720.8 990.0,720.4 1000.0,720.0 1010.0,720.0 1020.0,720.0 1030.0,720.0 1040.0,720.0 1050.0,720.0 1060.0,720.4 1070.0,720.8 1080.0,721.2 1090.0,721.6 1100.0,722.0 1110.0,720.5 1120.0,719.0 1130.0,717.5 1140.0,716.0 1150.0,716.0 1160.0,716.0 1170.0,716.0 1180.0,716.0 1190.0,716.0 1200.0,716.0 1210.0,716.0 1220.0,716.0 1230.0,716.0 1240.0,716.0 1250.0,716.0 1260.0,716.0 1270.0,716.0 1280.0,716.0 1290.0,716.0 1300.0,716.0 1310.0,716.0 1320.0,716.0 1330.0,716.0 1340.0,716.0 1350.0,716.0 1360.0,716.0 1370.0,716.0 1380.0,716.0 1390.0,716.0 1400.0,716.0 1410.0,716.0 1420.0,716.0 1430.0,716.0 1440.0,716.0 1450.0,716.0 1460.0,716.0 1470.0,716.0 1480.0,716.0 1480.0,950.0 540.0,950.0" fill="rgb(23,14,11)"/>
<polygon points="540.0,761.7 550.0,761.7 560.0,761.7 570.0,761.7 580.0,761.7 590.0,761.7 600.0,761.7 610.0,758.6 620.0,755.6 630.0,752.6 640.0,749.6 650.0,746.6 660.0,743.5 670.0,740.5 680.0,737.5 690.0,734.7 700.0,731.8 710.0,736.6 720.0,741.3 730.0,744.2 740.0,745.2 750.0,746.2 760.0,745.2 770.0,744.2 780.0,739.9 790.0,732.5 800.0,725.0 810.0,724.2 820.0,723.3 830.0,722.5 840.0,721.7 850.0,720.8 860.0,721.2 870.0,721.5 880.0,721.8 890.0,722.2 900.0,722.5 910.0,722.9 920.0,723.4 930.0,723.8 940.0,724.2 950.0,724.7 960.0,724.2 970.0,723.8 980.0,723.4 990.0,722.9 1000.0,722.5 1010.0,722.5 1020.0,722.5 1030.0,722.5 1040.0,722.5 1050.0,722.5 1060.0,723.0 1070.0,723.5 1080.0,724.0 1090.0,724.5 1100.0,725.0 1110.0,724.2 1120.0,723.3 1130.0,721.5 1140.0,719.7 1150.0,719.7 1160.0,719.7 1170.0,719.7 1180.0,719.7 1190.0,719.7 1200.0,719.7 1210.0,719.7 1220.0,719.7 1230.0,719.7 1240.0,719.7 1250.0,719.7 1260.0,719.7 1270.0,719.7 1280.0,719.7 1290.0,719.7 1300.0,719.7 1310.0,719.7 1320.0,719.7 1330.0,719.7 1340.0,719.7 1350.0,719.7 1360.0,719.7 1370.0,719.7 1380.0,719.7 1390.0,719.7 1400.0,719.7 1410.0,719.7 1420.0,719.7 1430.0,719.7 1440.0,719.7 1450.0,719.7 1460.0,719.7 1470.0,719.7 1480.0,719.7 1480.0,950.0 540.0,950.0" fill="rgb(22,14,11)"/>
<polygon points="540.0,763.3 550.0,763.3 560.0,763.3 570.0,763.3 580.0,763.3 590.0,763.3 600.0,763.3 610.0,760.4 620.0,757.5 630.0,754.6 640.0,751.7 650.0,748.8 660.0,745.8 670.0,742.9 680.0,740.0 690.0,737.8 700.0,735.6 710.0,739.5 720.0,743.4 730.0,745.7 740.0,746.5 750.0,747.3 760.0,746.5 770.0,745.7 780.0,741.9 790.0,734.9 800.0,728.0 810.0,727.1 820.0,726.3 830.0,725.4 840.0,724.5 850.0,723.7 860.0,723.9 870.0,724.2 880.0,724.5 890.0,724.7 900.0,725.0 910.0,725.5 920.0,725.9 930.0,726.4 940.0,726.9 950.0,727.3 960.0,726.9 970.0,726.4 980.0,725.9 990.0,725.5 1000.0,725.0 1010.0,725.0 1020.0,725.0 1030.0,725.0 1040.0,725.0 1050.0,725.0 1060.0,725.6 1070.0,726.2 1080.0,726.8 1090.0,727.4 1100.0,728.0 1110.0,727.8 1120.0,727.7 1130.0,725.5 1140.0,723.3 1150.0,723.3 1160.0,723.3 1170.0,723.3 1180.0,723.3 1190.0,723.3 1200.0,723.3 1210.0,723.3 1220.0,723.3 1230.0,723.3 1240.0,723.3 1250.0,723.3 1260.0,723.3 1270.0,723.3 1280.0,723.3 1290.0,723.3 1300.0,723.3 1310.0,723.3 1320.0,723.3 1330.0,723.3 1340.0,723.3 1350.0,723.3 1360.0,723.3 1370.0,723.3 1380.0,723.3 1390.0,723.3 1400.0,723.3 1410.0,723.3 1420.0,723.3 1430.0,723.3 1440.0,723.3 1450.0,723.3 1460.0,723.3 1470.0,723.3 1480.0,723.3 1480.0,950.0 540.0,950.0" fill="rgb(21,14,11)"/>
<polygon points="540.0,765.0 550.0,765.0 560.0,765.0 570.0,765.0 580.0,765.0 590.0,765.0 600.0,765.0 610.0,762.2 620.0,759.4 630.0,756.6 640.0,753.8 650.0,750.9 660.0,748.1 670.0,745.3 680.0,742.5 690.0,741.0 700.0,739.4 710.0,742.5 720.0,745.5 730.0,747.3 740.0,747.9 750.0,748.5 760.0,747.9 770.0,747.3 780.0,743.8 790.0,737.4 800.0,731.0 810.0,730.1 820.0,729.2 830.0,728.3 840.0,727.4 850.0,726.5 860.0,726.7 870.0,726.9 880.0,727.1 890.0,727.3 900.0,727.5 910.0,728.0 920.0,728.5 930.0,729.0 940.0,729.5 950.0,730.0 960.0,729.5 970.0,729.0 980.0,728.5 990.0,728.0 1000.0,727.5 1010.0,727.5 1020.0,727.5 1030.0,727.5 1040.0,727.5 1050.0,727.5 1060.0,728.2 1070.0,728.9 1080.0,729.6 1090.0,730.3 1100.0,731.0 1110.0,731.5 1120.0,732.0 1130.0,729.5 1140.0,727.0 1150.0,727.0 1160.0,727.0 1170.0,727.0 1180.0,727.0 1190.0,727.0 1200.0,727.0 1210.0,727.0 1220.0,727.0 1230.0,727.0 1240.0,727.0 1250.0,727.0 1260.0,727.0 1270.0,727.0 1280.0,727.0 1290.0,727.0 1300.0,727.0 1310.0,727.0 1320.0,727.0 1330.0,727.0 1340.0,727.0 1350.0,727.0 1360.0,727.0 1370.0,727.0 1380.0,727.0 1390.0,727.0 1400.0,727.0 1410.0,727.0 1420.0,727.0 1430.0,727.0 1440.0,727.0 1450.0,727.0 1460.0,727.0 1470.0,727.0 1480.0,727.0 1480.0,950.0 540.0,950.0" fill="rgb(20,14,11)"/>
<polygon points="540.0,766.7 550.0,766.7 560.0,766.7 570.0,766.7 580.0,766.7 590.0,766.7 600.0,766.7 610.0,764.0 620.0,761.2 630.0,758.5 640.0,755.8 650.0,753.1 660.0,750.4 670.0,747.7 680.0,745.0 690.0,744.1 700.0,743.3 710.0,745.4 720.0,747.6 730.0,748.9 740.0,749.3 750.0,749.7 760.0,749.3 770.0,748.9 780.0,745.7 790.0,739.9 800.0,734.0 810.0,733.1 820.0,732.1 830.0,731.2 840.0,730.3 850.0,729.3 860.0,729.5 870.0,729.6 880.0,729.7 890.0,729.9 900.0,730.0 910.0,730.5 920.0,731.1 930.0,731.6 940.0,732.1 950.0,732.7 960.0,732.1 970.0,731.6 980.0,731.1 990.0,730.5 1000.0,730.0 1010.0,730.0 1020.0,730.0 1030.0,730.0 1040.0,730.0 1050.0,730.0 1060.0,730.8 1070.0,731.6 1080.0,732.4 1090.0,733.2 1100.0,734.0 1110.0,735.2 1120.0,736.3 1130.0,733.5 1140.0,730.7 1150.0,730.7 1160.0,730.7 1170.0,730.7 1180.0,730.7 1190.0,730.7 1200.0,730.7 1210.0,730.7 1220.0,730.7 1230.0,730.7 1240.0,730.7 1250.0,730.7 1260.0,730.7 1270.0,730.7 1280.0,730.7 1290.0,730.7 1300.0,730.7 1310.0,730.7 1320.0,730.7 1330.0,730.7 1340.0,730.7 1350.0,730.7 1360.0,730.7 1370.0,730.7 1380.0,730.7 1390.0,730.7 1400.0,730.7 1410.0,730.7 1420.0,730.7 1430.0,730.7 1440.0,730.7 1450.0,730.7 1460.0,730.7 1470.0,730.7 1480.0,730.7 1480.0,950.0 540.0,950.0" fill="rgb(19,14,11)"/>
<polygon points="540.0,768.3 550.0,768.3 560.0,768.3 570.0,768.3 580.0,768.3 590.0,768.3 600.0,768.3 610.0,765.7 620.0,763.1 630.0,760.5 640.0,757.9 650.0,755.3 660.0,752.7 670.0,750.1 680.0,747.5 690.0,747.3 700.0,747.1 710.0,748.4 720.0,749.7 730.0,750.4 740.0,750.6 750.0,750.8 760.0,750.6 770.0,750.4 780.0,747.7 790.0,742.3 800.0,737.0 810.0,736.0 820.0,735.1 830.0,734.1 840.0,733.1 850.0,732.2 860.0,732.2 870.0,732.3 880.0,732.4 890.0,732.4 900.0,732.5 910.0,733.1 920.0,733.6 930.0,734.2 940.0,734.8 950.0,735.3 960.0,734.8 970.0,734.2 980.0,733.6 990.0,733.1 1000.0,732.5 1010.0,732.5 1020.0,732.5 1030.0,732.5 1040.0,732.5 1050.0,732.5 1060.0,733.4 1070.0,734.3 1080.0,735.2 1090.0,736.1 1100.0,737.0 1110.0,738.8 1120.0,740.7 1130.0,737.5 1140.0,734.3 1150.0,734.3 1160.0,734.3 1170.0,734.3 1180.0,734.3 1190.0,734.3 1200.0,734.3 1210.0,734.3 1220.0,734.3 1230.0,734.3 1240.0,734.3 1250.0,734.3 1260.0,734.3 1270.0,734.3 1280.0,734.3 1290.0,734.3 1300.0,734.3 1310.0,734.3 1320.0,734.3 1330.0,734.3 1340.0,734.3 1350.0,734.3 1360.0,734.3 1370.0,734.3 1380.0,734.3 1390.0,734.3 1400.0,734.3 1410.0,734.3 1420.0,734.3 1430.0,734.3 1440.0,734.3 1450.0,734.3 1460.0,734.3 1470.0,734.3 1480.0,734.3 1480.0,950.0 540.0,950.0" fill="rgb(18,14,11)"/>
<polygon points="540.0,770.0 550.0,770.0 560.0,770.0 570.0,770.0 580.0,770.0 590.0,770.0 600.0,770.0 610.0,767.5 620.0,765.0 630.0,762.5 640.0,760.0 650.0,757.5 660.0,755.0 670.0,752.5 680.0,750.0 690.0,750.4 700.0,750.9 710.0,751.3 720.0,751.8 730.0,752.0 740.0,752.0 750.0,752.0 760.0,752.0 770.0,752.0 780.0,749.6 790.0,744.8 800.0,740.0 810.0,739.0 820.0,738.0 830.0,737.0 840.0,736.0 850.0,735.0 860.0,735.0 870.0,735.0 880.0,735.0 890.0,735.0 900.0,735.0 910.0,735.6 920.0,736.2 930.0,736.8 940.0,737.4 950.0,738.0 960.0,737.4 970.0,736.8 980.0,736.2 990.0,735.6 1000.0,735.0 1010.0,735.0 1020.0,735.0 1030.0,735.0 1040.0,735.0 1050.0,735.0 1060.0,736.0 1070.0,737.0 1080.0,738.0 1090.0,739.0 1100.0,740.0 1110.0,742.5 1120.0,745.0 1130.0,741.5 1140.0,738.0 1150.0,738.0 1160.0,738.0 1170.0,738.0 1180.0,738.0 1190.0,738.0 1200.0,738.0 1210.0,738.0 1220.0,738.0 1230.0,738.0 1240.0,738.0 1250.0,738.0 1260.0,738.0 1270.0,738.0 1280.0,738.0 1290.0,738.0 1300.0,738.0 1310.0,738.0 1320.0,738.0 1330.0,738.0 1340.0,738.0 1350.0,738.0 1360.0,738.0 1370.0,738.0 1380.0,738.0 1390.0,738.0 1400.0,738.0 1410.0,738.0 1420.0,738.0 1430.0,738.0 1440.0,738.0 1450.0,738.0 1460.0,738.0 1470.0,738.0 1480.0,738.0 1480.0,950.0 540.0,950.0" fill="rgb(17,14,11)"/>
<polygon points="540.0,773.3 550.0,773.3 560.0,773.3 570.0,773.3 580.0,773.3 590.0,773.3 600.0,773.3 610.0,771.2 620.0,769.0 630.0,766.9 640.0,764.8 650.0,762.6 660.0,760.5 670.0,758.3 680.0,756.2 690.0,756.5 700.0,756.8 710.0,757.1 720.0,757.4 730.0,757.6 740.0,757.5 750.0,756.7 760.0,755.8 770.0,755.7 780.0,753.6 790.0,749.5 800.0,745.3 810.0,744.3 820.0,743.2 830.0,742.2 840.0,741.6 850.0,741.1 860.0,741.4 870.0,741.7 880.0,741.7 890.0,741.7 900.0,741.7 910.0,742.2 920.0,742.7 930.0,743.2 940.0,743.7 950.0,744.2 960.0,743.7 970.0,743.2 980.0,742.7 990.0,742.2 1000.0,741.7 1010.0,741.7 1020.0,741.7 1030.0,741.7 1040.0,741.7 1050.0,741.7 1060.0,742.5 1070.0,743.3 1080.0,744.2 1090.0,745.0 1100.0,746.2 1110.0,748.6 1120.0,750.6 1130.0,747.1 1140.0,743.6 1150.0,743.0 1160.0,743.0 1170.0,743.0 1180.0,743.0 1190.0,743.0 1200.0,743.0 1210.0,743.0 1220.0,743.0 1230.0,743.0 1240.0,743.0 1250.0,743.0 1260.0,743.0 1270.0,743.0 1280.0,743.0 1290.0,743.0 1300.0,743.0 1310.0,743.0 1320.0,743.0 1330.0,743.0 1340.0,743.0 1350.0,743.0 1360.0,743.0 1370.0,743.0 1380.0,743.0 1390.0,743.0 1400.0,743.0 1410.0,743.0 1420.0,743.0 1430.0,743.0 1440.0,743.0 1450.0,743.0 1460.0,743.0 1470.0,743.0 1480.0,743.0 1480.0,950.0 540.0,950.0" fill="rgb(16,14,11)"/>
<polygon points="540.0,776.7 550.0,776.7 560.0,776.7 570.0,776.7 580.0,776.7 590.0,776.7 600.0,776.7 610.0,774.9 620.0,773.1 630.0,771.3 640.0,769.5 650.0,767.7 660.0,766.0 670.0,764.2 680.0,762.4 690.0,762.6 700.0,762.7 710.0,762.9 720.0,763.1 730.0,763.1 740.0,763.0 750.0,761.3 760.0,759.7 770.0,759.4 780.0,757.6 790.0,754.1 800.0,750.7 810.0,749.6 820.0,748.4 830.0,747.3 840.0,747.2 850.0,747.2 860.0,747.8 870.0,748.3 880.0,748.3 890.0,748.3 900.0,748.3 910.0,748.7 920.0,749.1 930.0,749.5 940.0,749.9 950.0,750.3 960.0,749.9 970.0,749.5 980.0,749.1 990.0,748.7 1000.0,748.3 1010.0,748.3 1020.0,748.3 1030.0,748.3 1040.0,748.3 1050.0,748.3 1060.0,749.0 1070.0,749.7 1080.0,750.3 1090.0,751.0 1100.0,752.3 1110.0,754.7 1120.0,756.1 1130.0,752.7 1140.0,749.2 1150.0,748.0 1160.0,748.0 1170.0,748.0 1180.0,748.0 1190.0,748.0 1200.0,748.0 1210.0,748.0 1220.0,748.0 1230.0,748.0 1240.0,748.0 1250.0,748.0 1260.0,748.0 1270.0,748.0 1280.0,748.0 1290.0,748.0 1300.0,748.0 1310.0,748.0 1320.0,748.0 1330.0,748.0 1340.0,748.0 1350.0,748.0 1360.0,748.0 1370.0,748.0 1380.0,748.0 1390.0,748.0 1400.0,748.0 1410.0,748.0 1420.0,748.0 1430.0,748.0 1440.0,748.0 1450.0,748.0 1460.0,748.0 1470.0,748.0 1480.0,748.0 1480.0,950.0 540.0,950.0" fill="rgb(15,14,11)"/>
<polygon points="540.0,780.0 550.0,780.0 560.0,780.0 570.0,780.0 580.0,780.0 590.0,780.0 600.0,780.0 610.0,778.6 620.0,777.1 630.0,775.7 640.0,774.3 650.0,772.9 660.0,771.4 670.0,770.0 680.0,768.6 690.0,768.6 700.0,768.7 710.0,768.7 720.0,768.7 730.0,768.7 740.0,768.5 750.0,766.0 760.0,763.5 770.0,763.1 780.0,761.5 790.0,758.8 800.0,756.0 810.0,754.8 820.0,753.7 830.0,752.5 840.0,752.9 850.0,753.2 860.0,754.1 870.0,755.0 880.0,755.0 890.0,755.0 900.0,755.0 910.0,755.3 920.0,755.6 930.0,755.9 940.0,756.2 950.0,756.5 960.0,756.2 970.0,755.9 980.0,755.6 990.0,755.3 1000.0,755.0 1010.0,755.0 1020.0,755.0 1030.0,755.0 1040.0,755.0 1050.0,755.0 1060.0,755.5 1070.0,756.0 1080.0,756.5 1090.0,757.0 1100.0,758.5 1110.0,760.8 1120.0,761.7 1130.0,758.2 1140.0,754.8 1150.0,753.0 1160.0,753.0 1170.0,753.0 1180.0,753.0 1190.0,753.0 1200.0,753.0 1210.0,753.0 1220.0,753.0 1230.0,753.0 1240.0,753.0 1250.0,753.0 1260.0,753.0 1270.0,753.0 1280.0,753.0 1290.0,753.0 1300.0,753.0 1310.0,753.0 1320.0,753.0 1330.0,753.0 1340.0,753.0 1350.0,753.0 1360.0,753.0 1370.0,753.0 1380.0,753.0 1390.0,753.0 1400.0,753.0 1410.0,753.0 1420.0,753.0 1430.0,753.0 1440.0,753.0 1450.0,753.0 1460.0,753.0 1470.0,753.0 1480.0,753.0 1480.0,950.0 540.0,950.0" fill="rgb(14,14,11)"/>
<polygon points="540.0,783.3 550.0,783.3 560.0,783.3 570.0,783.3 580.0,783.3 590.0,783.3 600.0,783.3 610.0,782.3 620.0,781.2 630.0,780.1 640.0,779.0 650.0,778.0 660.0,776.9 670.0,775.8 680.0,774.8 690.0,774.7 700.0,774.6 710.0,774.5 720.0,774.4 730.0,774.2 740.0,774.0 750.0,770.7 760.0,767.3 770.0,766.8 780.0,765.5 790.0,763.4 800.0,761.3 810.0,760.1 820.0,758.9 830.0,757.7 840.0,758.5 850.0,759.3 860.0,760.5 870.0,761.7 880.0,761.7 890.0,761.7 900.0,761.7 910.0,761.9 920.0,762.1 930.0,762.3 940.0,762.5 950.0,762.7 960.0,762.5 970.0,762.3 980.0,762.1 990.0,761.9 1000.0,761.7 1010.0,761.7 1020.0,761.7 1030.0,761.7 1040.0,761.7 1050.0,761.7 1060.0,762.0 1070.0,762.3 1080.0,762.7 1090.0,763.0 1100.0,764.7 1110.0,766.8 1120.0,767.2 1130.0,763.8 1140.0,760.3 1150.0,758.0 1160.0,758.0 1170.0,758.0 1180.0,758.0 1190.0,758.0 1200.0,758.0 1210.0,758.0 1220.0,758.0 1230.0,758.0 1240.0,758.0 1250.0,758.0 1260.0,758.0 1270.0,758.0 1280.0,758.0 1290.0,758.0 1300.0,758.0 1310.0,758.0 1320.0,758.0 1330.0,758.0 1340.0,758.0 1350.0,758.0 1360.0,758.0 1370.0,758.0 1380.0,758.0 1390.0,758.0 1400.0,758.0 1410.0,758.0 1420.0,758.0 1430.0,758.0 1440.0,758.0 1450.0,758.0 1460.0,758.0 1470.0,758.0 1480.0,758.0 1480.0,950.0 540.0,950.0" fill="rgb(13,14,11)"/>
<polygon points="540.0,786.7 550.0,786.7 560.0,786.7 570.0,786.7 580.0,786.7 590.0,786.7 600.0,786.7 610.0,786.0 620.0,785.2 630.0,784.5 640.0,783.8 650.0,783.1 660.0,782.4 670.0,781.7 680.0,781.0 690.0,780.7 700.0,780.5 710.0,780.3 720.0,780.1 730.0,779.8 740.0,779.5 750.0,775.3 760.0,771.2 770.0,770.5 780.0,769.5 790.0,768.1 800.0,766.7 810.0,765.4 820.0,764.1 830.0,762.8 840.0,764.1 850.0,765.4 860.0,766.9 870.0,768.3 880.0,768.3 890.0,768.3 900.0,768.3 910.0,768.4 920.0,768.5 930.0,768.6 940.0,768.7 950.0,768.8 960.0,768.7 970.0,768.6 980.0,768.5 990.0,768.4 1000.0,768.3 1010.0,768.3 1020.0,768.3 1030.0,768.3 1040.0,768.3 1050.0,768.3 1060.0,768.5 1070.0,768.7 1080.0,768.8 1090.0,769.0 1100.0,770.8 1110.0,772.9 1120.0,772.8 1130.0,769.4 1140.0,765.9 1150.0,763.0 1160.0,763.0 1170.0,763.0 1180.0,763.0 1190.0,763.0 1200.0,763.0 1210.0,763.0 1220.0,763.0 1230.0,763.0 1240.0,763.0 1250.0,763.0 1260.0,763.0 1270.0,763.0 1280.0,763.0 1290.0,763.0 1300.0,763.0 1310.0,763.0 1320.0,763.0 1330.0,763.0 1340.0,763.0 1350.0,763.0 1360.0,763.0 1370.0,763.0 1380.0,763.0 1390.0,763.0 1400.0,763.0 1410.0,763.0 1420.0,763.0 1430.0,763.0 1440.0,763.0 1450.0,763.0 1460.0,763.0 1470.0,763.0 1480.0,763.0 1480.0,950.0 540.0,950.0" fill="rgb(12,14,11)"/>
<polygon points="540.0,790.0 550.0,790.0 560.0,790.0 570.0,790.0 580.0,790.0 590.0,790.0 600.0,790.0 610.0,789.6 620.0,789.3 630.0,788.9 640.0,788.6 650.0,788.2 660.0,787.9 670.0,787.5 680.0,787.1 690.0,786.8 700.0,786.4 710.0,786.1 720.0,785.7 730.0,785.4 740.0,785.0 750.0,780.0 760.0,775.0 770.0,774.2 780.0,773.5 790.0,772.8 800.0,772.0 810.0,770.7 820.0,769.3 830.0,768.0 840.0,769.8 850.0,771.5 860.0,773.2 870.0,775.0 880.0,775.0 890.0,775.0 900.0,775.0 910.0,775.0 920.0,775.0 930.0,775.0 940.0,775.0 950.0,775.0 960.0,775.0 970.0,775.0 980.0,775.0 990.0,775.0 1000.0,775.0 1010.0,775.0 1020.0,775.0 1030.0,775.0 1040.0,775.0 1050.0,775.0 1060.0,775.0 1070.0,775.0 1080.0,775.0 1090.0,775.0 1100.0,777.0 1110.0,779.0 1120.0,778.3 1130.0,775.0 1140.0,771.5 1150.0,768.0 1160.0,768.0 1170.0,768.0 1180.0,768.0 1190.0,768.0 1200.0,768.0 1210.0,768.0 1220.0,768.0 1230.0,768.0 1240.0,768.0 1250.0,768.0 1260.0,768.0 1270.0,768.0 1280.0,768.0 1290.0,768.0 1300.0,768.0 1310.0,768.0 1320.0,768.0 1330.0,768.0 1340.0,768.0 1350.0,768.0 1360.0,768.0 1370.0,768.0 1380.0,768.0 1390.0,768.0 1400.0,768.0 1410.0,768.0 1420.0,768.0 1430.0,768.0 1440.0,768.0 1450.0,768.0 1460.0,768.0 1470.0,768.0 1480.0,768.0 1480.0,950.0 540.0,950.0" fill="rgb(9,14,11)"/>
<polygon points="625.0,215.0 810.0,215.0 825.0,316.0 675.0,316.0 650.0,300.0 665.0,270.0 640.0,250.0" fill="rgb(119,64,26)"/>
<polygon points="661.0,316.0 825.0,316.0 825.0,345.0 661.0,345.0" fill="rgb(115,38,20)"/>
<polygon points="880.0,258.0 900.0,250.0 930.0,262.0 968.0,262.0 945.0,272.0 920.0,290.0 905.0,292.0 890.0,280.0" fill="rgb(125,14,11)"/>
<polygon points="955.0,300.0 980.0,288.0 1005.0,277.0 1000.0,292.0 1030.0,302.0 1062.0,296.0 1085.0,315.0 1060.0,312.0 1030.0,316.0 1015.0,325.0 1000.0,318.0 975.0,310.0" fill="rgb(125,14,11)"/>
<polygon points="1352.0,335.0 1445.0,300.0 1445.0,360.0 1362.0,402.0 1352.0,400.0" fill="rgb(121,31,26)"/>
<polygon points="1352.0,338.0 1375.0,300.0 1395.0,272.0 1430.0,283.0 1430.0,312.0 1405.0,325.0 1385.0,332.0 1365.0,340.0" fill="rgb(125,31,26)"/>
<polygon points="1262.0,352.0 1298.0,345.0 1302.0,380.0 1285.0,392.0 1262.0,380.0" fill="rgb(122,54,76)"/>
<polygon points="1190.0,398.0 1230.0,392.0 1262.0,398.0 1290.0,405.0 1285.0,418.0 1240.0,414.0 1195.0,416.0" fill="rgb(119,54,76)"/>
<polygon points="1114.9,517.7 1131.8,512.1 1157.0,512.1 1179.4,506.5 1201.9,498.1 1213.1,492.5 1224.3,512.1 1201.9,520.5 1182.2,531.8 1168.2,545.8 1157.0,557.0 1140.2,568.2 1123.4,585.0 1106.5,599.0 1084.1,604.7 1075.7,600.4 1092.5,579.4 1106.5,562.6 1117.7,545.8 1112.1,531.8" fill="rgb(88,76,115)"/>
<polygon points="1157.0,520.5 1168.2,500.9 1185.0,484.1 1196.2,486.9 1182.2,506.5 1168.2,523.4" fill="rgb(99,76,153)"/>
<polygon points="1073.5,602.4 1091.1,579.4 1105.1,564.0 1120.5,552.8 1145.8,552.8 1157.0,558.4 1140.2,569.6 1123.4,586.4 1106.5,600.4 1084.1,606.1" fill="rgb(82,64,255)"/>
<polygon points="1084.1,600.4 1100.9,582.2 1120.5,568.2 1140.2,564.0 1131.8,579.4 1112.1,593.4 1095.3,603.3" fill="rgb(93,76,230)"/>
<polygon points="1179.4,478.5 1196.2,456.1 1224.3,433.6 1238.3,439.2 1213.1,461.7 1193.4,481.3" fill="rgb(109,51,102)"/>
<polygon points="1173.8,419.6 1274.7,419.6 1269.1,433.6 1224.3,436.4 1196.2,444.9 1173.8,439.2" fill="rgb(113,51,76)"/>
<polygon points="200.0,215.0 670.0,215.0 670.0,330.0 640.0,440.0 600.0,470.0 585.0,540.0 560.0,560.0 560.0,720.0 200.0,720.0" fill="rgb(119,161,230)"/>
<polygon points="475.0,230.0 700.0,230.0 700.0,345.0 575.0,345.0 550.0,320.0 500.0,305.0 480.0,290.0" fill="rgb(116,89,31)"/>
<polygon points="480.0,230.0 565.0,230.0 560.0,265.0 525.0,290.0 495.0,280.0" fill="rgb(123,89,51)"/>
<polygon points="610.0,230.0 675.0,230.0 675.0,280.0 625.0,277.5" fill="rgb(120,76,26)"/>
<polygon points="410.0,235.0 480.0,235.0 490.0,290.0 510.0,305.0 550.0,315.0 575.0,340.0 512.5,355.0 475.0,357.5 460.0,337.5 440.0,325.0 445.0,297.5 425.0,285.0 410.0,265.0" fill="rgb(131,178,255)"/>
<polygon points="500.0,277.5 560.0,277.5 560.0,297.5 500.0,297.5" fill="rgb(133,143,204)"/>
<polygon points="387.5,235.0 410.0,235.0 410.0,265.0 425.0,285.0 445.0,297.5 440.0,315.0 390.0,315.0" fill="rgb(126,178,255)"/>
<polygon points="400.0,317.5 440.0,315.0 450.0,322.5 475.0,356.2 487.5,355.0 475.0,380.0 440.0,385.0 412.5,370.0 397.5,345.0" fill="rgb(143,178,255)"/>
<polygon points="387.5,362.5 398.8,365.0 417.5,385.0 442.5,396.2 442.5,411.2 412.5,402.5 393.8,387.5 385.0,375.0" fill="rgb(98,54,76)"/>
<polygon points="440.0,395.0 475.0,387.5 500.0,372.5 512.5,355.0 512.5,370.0 500.0,390.0 475.0,402.5 440.0,410.0" fill="rgb(110,89,128)"/>
<polygon points="387.5,407.5 513.8,405.0 513.8,422.5 387.5,422.5" fill="rgb(122,161,230)"/>
<polygon points="487.5,377.5 513.8,370.0 513.8,422.5 495.0,422.5" fill="rgb(130,125,178)"/>
<polygon points="275.0,237.5 320.0,237.5 317.5,265.0 307.5,290.0 300.0,315.0 275.0,320.0 272.5,290.0 277.5,265.0" fill="rgb(139,178,255)"/>
<polygon points="320.0,237.5 387.5,237.5 387.5,265.0 340.0,262.5 320.0,265.0" fill="rgb(128,178,255)"/>
<polygon points="310.0,265.0 387.5,260.0 387.5,315.0 350.0,315.0 305.0,320.0" fill="rgb(111,89,128)"/>
<polygon points="322.5,277.5 340.0,271.2 375.0,287.5 380.0,302.5 355.0,312.5 310.0,310.0 307.5,300.0 325.0,295.0" fill="rgb(99,71,102)"/>
<polygon points="225.0,250.0 240.0,252.5 245.0,282.5 262.5,282.5 275.0,320.0 241.2,315.0 237.5,285.0" fill="rgb(110,107,153)"/>
<polygon points="253.8,287.5 272.5,290.0 275.0,315.0 262.5,317.5 256.2,305.0" fill="rgb(101,89,128)"/>
<polygon points="235.0,256.2 263.8,256.2 266.2,278.8 243.8,281.2" fill="rgb(145,178,255)"/>
<polygon points="237.5,310.0 272.5,320.0 275.0,420.0 230.0,420.0 227.5,397.5 238.8,365.0" fill="rgb(103,161,230)"/>
<polygon points="253.8,322.5 271.2,325.0 268.8,375.0 253.8,372.5" fill="rgb(100,71,102)"/>
<polygon points="272.5,322.5 285.0,322.5 286.2,375.0 282.5,420.0 272.5,420.0" fill="rgb(132,178,255)"/>
<polygon points="286.2,322.5 387.5,315.0 387.5,420.0 283.8,420.0" fill="rgb(116,128,204)"/>
<polygon points="290.0,317.5 375.0,315.0 360.0,335.0 300.0,340.0" fill="rgb(111,107,153)"/>
<polygon points="360.0,327.5 387.5,323.8 390.0,342.5 367.5,347.5" fill="rgb(130,161,230)"/>
<polygon points="372.5,357.5 390.0,362.5 387.5,405.0 372.5,390.0" fill="rgb(101,89,128)"/>
<polygon points="513.8,340.0 557.5,340.0 567.5,370.0 560.0,405.0 545.0,438.0 513.8,438.0" fill="rgb(148,178,255)"/>
<polygon points="560.0,347.5 585.0,350.0 590.0,377.5 567.5,377.5" fill="rgb(115,89,128)"/>
<polygon points="580.0,345.0 600.0,350.0 602.5,390.0 592.5,390.0 590.0,365.0" fill="rgb(151,161,230)"/>
<polygon points="513.8,395.0 662.5,395.0 662.5,445.0 513.8,445.0" fill="rgb(128,230,102)"/>
<polygon points="545.0,390.0 661.2,385.0 661.2,440.0 545.0,440.0" fill="rgb(128,230,102)"/>
<polygon points="602.5,340.0 661.2,340.0 661.2,387.5 605.0,390.0" fill="rgb(122,115,76)"/>
<polygon points="661.2,353.8 676.2,355.0 675.0,371.2 662.5,370.0" fill="rgb(133,107,153)"/>
<polygon points="590.0,400.0 645.0,405.0 640.0,435.0 600.0,435.0" fill="rgb(133,143,204)"/>
<polygon points="229.5,419.5 291.4,419.5 289.0,457.6 274.8,481.4 279.5,517.1 262.9,524.3 243.8,481.4 231.9,452.9" fill="rgb(97,178,255)"/>
<polygon points="243.8,419.5 327.1,419.5 327.1,488.6 315.2,488.6 298.6,471.9 286.7,450.5 267.6,448.1 246.2,441.0" fill="rgb(118,178,255)"/>
<polygon points="289.0,433.8 327.1,433.8 327.1,495.7 315.2,495.7 298.6,476.7" fill="rgb(119,178,255)"/>
<polygon points="271.2,481.4 279.5,505.2 291.4,529.0 303.3,552.9 320.0,576.7 339.0,600.5 310.5,600.5 289.0,562.4 274.8,533.8 262.9,521.9" fill="rgb(49,178,255)"/>
<polygon points="274.3,536.2 284.3,543.3 298.6,574.3 315.2,600.5 308.1,602.9 289.0,567.1 276.0,543.3" fill="rgb(24,89,128)"/>
<polygon points="267.6,457.6 284.3,452.9 298.6,481.4 315.2,505.2 324.8,529.0 339.0,548.1 353.3,571.9 362.9,595.7 339.0,598.1 320.0,576.7 303.3,552.9 291.4,529.0 279.5,505.2 271.2,481.4" fill="rgb(35,45,64)"/>
<polygon points="262.9,488.6 271.2,481.4 279.5,505.2 291.4,529.0 303.3,552.9 320.0,576.7 324.8,591.0 315.2,586.2 298.6,562.4 286.7,538.6 272.4,514.8" fill="rgb(81,178,255)"/>
<polygon points="315.2,488.6 329.5,495.7 348.6,524.3 367.6,552.9 374.8,576.7 365.2,583.8 348.6,562.4 331.9,533.8 317.6,510.0 310.5,495.7" fill="rgb(141,178,255)"/>
<polygon points="327.1,419.5 329.5,495.7 348.6,524.3 367.6,552.9 386.7,562.4 353.3,514.8 327.1,488.6" fill="rgb(113,178,255)"/>
<polygon points="365.0,580.0 375.0,560.0 390.0,555.0 436.2,601.2 447.5,622.5 440.0,643.0 425.0,643.0 400.0,620.0 365.0,605.0" fill="rgb(38,89,128)"/>
<polygon points="295.0,580.0 440.0,580.0 440.0,610.0 400.0,622.5 350.0,612.5 312.5,615.0" fill="rgb(38,89,128)"/>
<polygon points="381.9,557.6 401.0,562.4 405.7,600.5 391.4,600.5" fill="rgb(23,71,102)"/>
<polygon points="307.5,602.5 330.0,610.0 362.5,613.8 375.0,627.5 407.5,622.5 440.0,605.0 450.0,625.0 435.0,666.2 385.0,670.0 375.0,648.8 360.0,636.2 340.0,626.2 312.5,618.8" fill="rgb(16,62,89)"/>
<polygon points="317.5,593.8 365.0,603.8 365.0,611.2 317.5,603.8" fill="rgb(101,161,230)"/>
<polygon points="382.0,621.2 391.2,627.0 396.2,660.0 392.5,661.2" fill="rgb(75,161,230)"/>
<polygon points="327.1,419.5 405.7,419.5 401.0,481.4 386.7,519.5 353.3,514.8 327.1,488.6" fill="rgb(99,152,217)"/>
<polygon points="405.7,419.5 449.8,419.5 449.8,517.1 386.7,519.5 401.0,481.4" fill="rgb(112,128,230)"/>
<polygon points="353.3,514.8 449.8,517.1 449.8,545.7 410.5,552.9 372.4,533.8" fill="rgb(93,125,178)"/>
<polygon points="375.0,545.0 400.0,550.0 450.8,545.0 450.8,575.0 437.5,577.5 436.2,601.2 390.0,555.0" fill="rgb(49,143,204)"/>
<polygon points="450.8,445.0 500.0,445.0 500.0,540.0 450.8,545.0" fill="rgb(100,125,178)"/>
<polygon points="450.8,420.0 513.8,420.0 513.8,445.0 450.8,445.0" fill="rgb(113,125,178)"/>
<polygon points="503.3,445.7 529.5,445.7 520.0,481.4 510.5,510.0 498.6,543.3 477.1,545.7 486.7,517.1 498.6,481.4" fill="rgb(135,178,255)"/>
<polygon points="517.5,445.0 556.2,445.0 556.2,461.2 517.5,461.2" fill="rgb(148,143,204)"/>
<polygon points="525.0,461.2 556.2,461.2 556.2,487.5 525.0,485.0" fill="rgb(116,143,204)"/>
<polygon points="522.5,485.0 556.2,487.5 556.2,550.5 512.5,550.5 522.5,520.0" fill="rgb(96,161,230)"/>
<polygon points="510.0,537.5 530.0,520.0 535.0,525.0 515.0,545.0 500.0,550.5 500.0,545.0" fill="rgb(78,107,153)"/>
<polygon points="450.8,537.5 467.5,540.0 465.0,555.0 450.8,555.0" fill="rgb(67,107,153)"/>
<polygon points="557.5,447.5 610.0,447.5 610.0,550.5 557.5,550.5" fill="rgb(114,178,255)"/>
<polygon points="600.0,447.5 645.0,447.5 647.5,495.0 645.0,550.5 610.0,550.5 605.0,495.0" fill="rgb(137,178,255)"/>
<polygon points="570.0,502.5 605.0,502.5 610.0,545.0 575.0,545.0" fill="rgb(138,178,255)"/>
<polygon points="557.5,447.5 600.0,447.5 595.0,467.5 557.5,470.0" fill="rgb(126,143,204)"/>
<polygon points="557.5,482.5 577.5,482.5 575.0,502.5 557.5,502.5" fill="rgb(101,89,128)"/>
<polygon points="615.0,515.0 635.0,515.0 635.0,545.0 617.5,545.0" fill="rgb(119,107,153)"/>
<polygon points="640.0,447.5 702.5,447.5 702.5,495.0 650.0,502.5 645.0,495.0" fill="rgb(100,80,115)"/>
<polygon points="642.5,452.5 665.0,452.5 662.5,495.0 645.0,495.0" fill="rgb(107,71,102)"/>
<polygon points="675.0,457.5 687.5,455.0 685.0,475.0 675.0,477.5" fill="rgb(107,54,76)"/>
<polygon points="647.5,495.0 702.5,492.5 702.5,530.0 650.0,530.0" fill="rgb(88,71,102)"/>
<polygon points="670.0,520.0 702.5,517.5 702.5,550.5 675.0,550.5 682.5,537.5" fill="rgb(78,54,76)"/>
<polygon points="450.8,550.5 556.2,550.5 556.2,635.0 525.0,620.0 487.5,595.0 450.8,580.0" fill="rgb(89,128,76)"/>
<polygon points="500.0,575.0 515.0,580.0 525.0,595.0 547.5,610.0 545.0,617.5 520.0,605.0 505.0,590.0" fill="rgb(77,89,128)"/>
<polygon points="482.5,555.0 495.0,560.0 500.0,575.0 487.5,572.5" fill="rgb(107,143,204)"/>
<polygon points="437.5,577.5 450.8,575.0 487.5,595.0 525.0,620.0 556.2,635.0 556.2,643.0 512.5,632.5 475.0,610.0 447.5,595.0" fill="rgb(61,143,204)"/>
<polygon points="437.5,595.0 447.5,595.0 475.0,610.0 512.5,632.5 556.2,643.0 556.2,657.5 500.0,643.0 462.5,620.0 440.0,610.0" fill="rgb(41,107,153)"/>
<polygon points="440.0,605.0 462.5,617.5 487.5,627.5 505.0,645.0 515.0,662.5 522.5,685.0 525.0,705.0 432.5,667.5 435.0,642.5 448.8,625.0" fill="rgb(17,71,102)"/>
<polygon points="520.0,630.0 555.0,630.0 555.0,705.0 525.0,705.0 522.5,685.0 515.0,662.5" fill="rgb(39,89,128)"/>
<polygon points="532.5,622.5 552.5,625.0 550.0,647.5 535.0,645.0" fill="rgb(84,161,230)"/>
<polygon points="554.8,549.6 681.8,549.6 668.3,576.7 648.5,591.5 636.2,601.4 633.7,631.0 632.5,670.5 621.4,658.1 614.0,638.4 589.3,658.1 569.6,665.5 554.8,648.3" fill="rgb(93,102,76)"/>
<polygon points="589.3,549.6 655.9,549.6 648.5,574.3 638.7,594.0 623.9,591.5 614.0,574.3 594.3,569.3" fill="rgb(115,178,255)"/>
<polygon points="598.0,591.5 612.8,586.6 615.2,623.6 605.4,648.3 589.3,658.1 593.0,626.1" fill="rgb(67,89,76)"/>
<polygon points="593.0,635.9 614.0,628.5 621.4,658.1 601.7,668.0 584.4,668.0" fill="rgb(43,76,76)"/>
<polygon points="564.7,589.1 579.5,586.6 581.9,608.8 567.1,606.3" fill="rgb(96,125,178)"/>
<polygon points="557.5,580.0 590.0,580.0 590.0,642.5 557.5,642.5" fill="rgb(87,161,230)"/>
<polygon points="557.5,657.5 625.0,655.0 681.2,647.5 681.2,687.5 573.8,705.0 557.5,705.0" fill="rgb(43,89,128)"/>
<polygon points="621.4,638.4 633.7,635.9 636.2,668.0 626.3,670.5" fill="rgb(107,143,204)"/>
<polygon points="607.5,682.5 681.2,682.5 725.0,692.5 725.0,720.0 675.0,705.0 662.5,752.5 647.5,740.0 630.0,712.5" fill="rgb(41,89,128)"/>
<polygon points="667.5,705.0 725.0,710.0 725.0,740.0 700.0,740.0 690.0,742.5 678.8,763.8 662.5,752.5" fill="rgb(26,62,89)"/>
<polygon points="952.3,273.5 973.3,256.0 1008.3,242.0 1011.8,252.5 987.3,270.0 962.8,284.0" fill="rgb(145,5,13)"/>
<polygon points="923.0,300.0 940.5,279.0 961.5,272.0 965.0,286.0 944.0,307.0" fill="rgb(142,5,13)"/>
<polygon points="1035.4,319.5 1059.9,309.0 1063.4,326.5 1042.4,337.0" fill="rgb(125,5,13)"/>
<polygon points="1031.2,336.0 1048.8,318.5 1055.8,336.0 1038.2,353.5" fill="rgb(125,5,13)"/>
<polygon points="1070.5,291.2 1091.5,291.2 1091.5,315.8 1070.5,315.8" fill="rgb(125,5,13)"/>
<polygon points="1080.5,307.0 1101.5,307.0 1101.5,321.0 1080.5,321.0" fill="rgb(125,5,13)"/>
<polygon points="301.5,623.6 343.5,620.1 350.5,634.1 308.5,641.1" fill="rgb(14,5,13)"/>
<polygon points="327.4,640.5 344.9,644.0 341.4,661.5 327.4,658.0" fill="rgb(14,5,13)"/>
<polygon points="344.2,645.0 361.8,652.0 368.8,673.0 351.2,666.0" fill="rgb(14,5,13)"/>
<polygon points="348.1,637.8 369.1,641.2 365.6,655.2 348.1,651.8" fill="rgb(14,5,13)"/>
<polygon points="1076.6,889.8 1139.6,875.8 1199.1,842.5 1206.1,847.8 1143.1,882.8 1076.6,896.8" fill="rgb(9,5,13)"/>
<polygon points="1393.0,351.0 1428.0,344.0 1435.0,365.0 1400.0,372.0" fill="rgb(136,5,13)"/>
<polygon points="640.0,500.0 1270.0,490.0 1270.0,600.0 640.0,600.0" fill="rgb(0,18,23)" style="mix-blend-mode:lighten"/>
<polygon points="600.0,600.0 1270.0,600.0 1270.0,892.0 600.0,892.0" fill="rgb(0,15,18)" style="mix-blend-mode:lighten"/>
<polygon points="650.0,215.0 1120.0,215.0 1120.0,345.0 650.0,345.0" fill="rgb(0,26,23)" style="mix-blend-mode:lighten"/>
<polygon points="1150.0,330.0 1450.0,260.0 1450.0,400.0 1300.0,440.0 1160.0,440.0" fill="rgb(0,51,38)" style="mix-blend-mode:lighten"/>
<polygon points="1060.0,615.0 1100.0,560.0 1150.0,510.0 1175.0,465.0 1230.0,450.0 1260.0,470.0 1220.0,520.0 1170.0,570.0 1110.0,620.0" fill="rgb(0,64,102)" style="mix-blend-mode:lighten"/>
<polygon points="860.0,540.0 960.0,540.0 950.0,640.0 860.0,640.0" fill="rgb(0,38,51)" style="mix-blend-mode:lighten"/>
</g></g>
<g class="b">
<path d="M241.0 309.0 L245.0 309.4 L249.0 309.3 L253.0 309.9 L257.0 310.0 L259.8 312.3 L260.9 316.0 L263.1 318.8 L266.0 321.0 L268.8 322.7 L272.3 322.9 L275.0 325.0 L279.2 324.9 L283.3 324.2 L287.5 323.9 L291.7 325.5 L295.9 325.4 L300.0 324.0 L304.1 322.1 L308.7 323.4 L312.8 322.0 L317.0 321.0 L320.2 319.7 L323.3 318.5 L326.9 318.4 L330.0 317.0 L334.2 316.2 L338.6 316.2 L342.8 315.4 L347.0 314.4 L390.0 314.4"/>
<path d="M387.5 235.5 L387.5 303.0 L388.4 306.8 L389.0 310.6 L390.0 314.4 L392.7 317.8 L396.7 319.4 L400.0 322.0 L398.7 325.7 L397.3 329.4 L397.0 333.5 L395.0 337.0 L392.5 340.2 L389.7 343.3 L386.9 346.3 L385.0 350.0 L385.7 353.4 L384.8 356.7 L384.0 360.0 L389.0 362.0 L389.3 366.2 L387.5 370.0 L387.8 419.6"/>
<path d="M235.0 419.6 L513.8 419.6"/>
<path d="M325.2 419.6 L325.2 498.5 L437.0 602.5"/>
<path d="M450.6 419.6 L450.6 575.0 L445.0 574.0 L441.6 576.4 L437.5 577.0 L438.0 590.0 L437.0 593.9 L436.6 598.0 L436.5 602.0 L436.6 605.8 L439.4 608.8 L440.0 612.5 L443.0 615.5 L444.5 619.5 L447.5 622.5 L445.5 626.5 L444.6 631.0 L442.5 635.0 L440.5 637.9 L439.5 641.4 L437.0 644.1 L436.0 647.5 L438.8 650.8 L440.0 655.0 L439.0 658.6 L435.8 661.2 L435.0 665.0"/>
<path d="M450.6 551.1 L859.2 551.1"/>
<path d="M513.8 340.7 L513.8 445.9"/>
<path d="M513.8 340.7 L661.0 340.7"/>
<path d="M513.8 445.9 L703.0 445.9"/>
<path d="M661.0 235.5 L661.0 445.9"/>
<path d="M556.0 445.9 L556.0 701.2"/>
<path d="M703.0 445.9 L703.0 551.1"/>
<path d="M703.0 472.2 L841.2 472.2"/>
<path d="M661.0 393.3 L777.5 393.3 L780.2 396.4 L783.5 398.7 L787.5 400.0 L791.9 400.1 L795.6 397.3 L800.0 397.5 L803.7 398.6 L807.5 399.1 L811.2 400.2 L815.0 401.0 L818.8 400.0"/>
<path d="M661.0 316.0 L818.0 316.0"/>
<path d="M803.8 235.5 L804.7 239.5 L803.9 243.8 L804.8 247.9 L807.0 251.7 L806.0 256.1 L807.5 260.0 L815.0 290.0 L815.3 294.2 L817.4 298.2 L815.8 302.7 L818.1 306.6 L818.6 310.8 L818.8 315.0 L816.8 317.6 L814.4 319.9 L812.5 322.5 L815.7 324.3 L817.2 327.8 L819.4 330.6 L822.5 332.5 L822.0 336.2 L821.5 340.0 L821.5 380.1 L821.3 383.5 L822.2 386.8 L823.0 390.0 L820.8 393.0 L820.9 397.0 L818.8 400.0 L820.0 403.7 L820.7 407.5 L822.5 411.0 L822.5 415.0 L826.2 420.0 L826.4 424.4 L828.4 428.1 L831.0 431.7 L831.1 436.1 L832.5 440.0 L833.6 444.2 L835.1 448.3 L836.1 452.6 L836.2 457.0 L837.6 460.8 L839.8 464.3 L839.9 468.4 L841.2 472.2 L844.1 474.0 L847.6 474.9 L850.0 477.5 L850.4 481.5 L852.5 485.0 L855.5 487.2 L857.3 490.4 L858.8 493.8 L859.2 500.0 L859.2 564.2 L863.5 641.0"/>
<path d="M821.5 380.1 L931.0 380.1"/>
<path d="M836.2 457.0 L926.2 457.0 L927.1 461.1 L928.8 465.0"/>
<path d="M910.0 296.0 L910.0 312.5 L906.2 315.1 L902.0 316.7 L897.5 317.5 L896.0 321.2 L895.0 325.0 L897.4 328.0 L899.2 331.3 L900.0 335.0 L899.3 338.4 L898.5 341.7 L897.5 345.0 L901.3 347.5 L904.3 350.8 L907.5 354.0 L910.1 356.8 L914.3 357.5 L917.3 359.7 L920.0 362.5 L923.8 365.1 L926.3 368.7 L928.8 372.5 L930.8 376.0 L931.0 380.0 L930.8 384.1 L933.4 387.4 L932.8 391.6 L935.0 395.0 L937.9 397.6 L938.5 401.8 L941.5 404.4 L943.8 407.5 L945.5 410.3 L947.6 412.8 L950.0 415.0 L952.4 418.5 L953.8 422.5 L952.2 425.7 L949.2 427.9 L947.5 431.0 L944.5 433.5 L941.1 435.4 L936.9 435.3 L933.8 437.5 L933.8 440.9 L935.2 444.1 L935.0 447.5 L932.8 450.3 L929.8 452.5 L928.9 456.3 L926.2 458.8 L927.6 462.4 L927.3 466.2 L927.5 470.0 L930.1 473.4 L931.5 477.4 L934.2 480.7 L935.0 485.0 L936.6 489.1 L938.7 492.9 L941.8 496.1 L943.8 500.0 L946.8 501.4 L949.9 502.8 L952.5 505.0 L950.2 508.8 L949.1 513.1 L948.8 517.5 L951.3 520.9 L955.0 523.2 L957.8 526.3 L960.0 530.0 L962.4 533.8 L966.4 536.2 L968.8 540.0 L969.6 543.9 L971.2 547.5 L975.0 552.0 L973.3 555.3 L972.3 559.1 L970.0 562.1 L967.5 565.0 L964.9 568.8 L964.6 573.5 L962.5 577.5 L960.6 580.8 L958.9 584.2 L958.2 588.1 L956.5 591.5 L955.0 595.0 L952.9 598.0 L952.0 601.5 L951.2 605.0 L949.3 608.7 L947.4 612.5 L945.7 616.3 L943.8 620.0 L942.4 623.2 L940.2 626.1 L939.6 629.7 L937.5 632.5 L935.4 635.8 L935.5 639.9 L934.4 643.6 L932.5 647.0 L931.3 650.3 L933.7 653.7 L932.5 657.0 L933.7 660.2 L934.2 663.5 L935.5 666.7 L936.2 670.0 L933.9 673.4 L932.7 677.3 L931.6 681.2 L930.0 685.0 L929.5 689.6 L925.5 692.9 L925.0 697.5 L924.5 701.3 L923.7 705.1 L922.5 708.8 L961.2 710.0 L962.4 713.2 L962.8 716.6 L962.5 720.0 L965.7 721.8 L968.2 724.3 L969.7 727.8 L972.5 730.0"/>
<path d="M943.8 406.5 L1003.8 406.5"/>
<path d="M950.0 300.0 L954.1 301.8 L958.5 302.8 L962.9 303.9 L966.5 307.0 L971.1 307.7 L975.0 310.0 L979.2 310.6 L983.1 312.2 L986.9 313.9 L990.6 316.0 L995.0 316.0 L997.0 319.5 L997.7 323.6 L999.5 327.1 L1002.5 330.0 L1004.7 332.1 L1006.7 334.4 L1007.5 337.5"/>
<path d="M1008.2 428.0 L1008.2 490.0 L1006.2 495.0 L1008.6 497.9 L1009.7 501.3 L1010.0 505.0 L1008.7 508.2 L1006.5 511.0 L1006.1 514.8 L1003.8 517.5 L1002.9 521.3 L1001.0 524.5 L998.8 527.5"/>
<path d="M975.0 552.0 L979.0 550.3 L983.2 550.0 L987.5 550.0 L988.3 546.1 L990.0 542.5 L992.6 539.6 L993.3 535.8 L995.0 532.5 L998.8 527.5 L1002.1 528.7 L1005.8 527.8 L1009.1 529.4 L1012.5 530.0 L1016.2 529.1 L1019.2 526.7 L1022.5 525.0 L1027.1 524.4 L1031.2 522.6 L1035.0 520.0 L1038.9 520.9 L1042.5 522.5 L1044.0 518.4 L1048.0 516.2 L1050.0 512.5 L1051.8 508.8 L1055.0 506.2 L1058.4 503.8 L1062.7 504.3 L1066.2 502.5 L1067.0 498.7 L1066.0 495.0 L1068.9 497.0 L1072.5 497.5 L1075.0 500.3 L1079.1 500.6 L1082.4 502.2 L1085.0 505.0 L1088.9 504.7 L1092.3 507.4 L1096.4 505.9 L1100.0 507.5 L1103.2 506.2 L1106.5 505.3 L1110.0 506.0 L1112.7 508.5 L1114.3 511.4 L1115.0 515.0 L1116.3 510.7 L1117.6 506.4 L1120.0 502.5 L1122.2 499.7 L1125.8 498.3 L1126.9 494.4 L1130.0 492.5 L1133.5 491.3 L1136.6 489.3 L1139.5 487.0 L1142.5 485.0 L1145.2 481.8 L1148.0 478.7 L1150.0 475.0 L1151.5 470.9 L1151.9 466.5 L1153.8 462.5 L1153.7 459.1 L1153.9 455.8 L1155.0 452.5 L1155.6 435.0"/>
<path d="M1066.0 426.0 L1066.0 497.0"/>
<path d="M1023.0 426.0 L1066.0 426.0 L1097.5 428.5"/>
<path d="M1155.6 423.0 L1155.6 479.6 L1257.0 479.6"/>
<path d="M1172.5 412.5 L1172.9 416.1 L1172.5 419.6 L1265.0 419.6 L1266.6 423.1 L1269.2 425.7 L1272.5 427.5 L1273.2 431.3 L1275.2 434.5 L1277.5 437.5 L1274.2 440.3 L1273.5 444.9 L1270.0 447.5 L1270.9 451.4 L1272.5 455.0 L1275.1 458.0 L1276.2 462.0 L1278.8 465.0 L1275.0 470.0 L1272.0 472.0 L1268.7 473.6 L1265.6 475.5 L1262.5 477.5"/>
<path d="M1277.5 437.0 L1281.3 439.2 L1285.9 439.7 L1289.4 442.7 L1293.1 445.0 L1297.5 446.0"/>
<path d="M1306.5 340.7 L1308.0 385.0 L1307.4 388.9 L1307.7 392.8 L1306.7 396.6 L1307.0 400.5 L1307.5 404.5 L1305.3 408.0 L1305.5 411.9 L1304.3 415.7 L1304.0 419.5 L1304.6 423.9 L1303.9 428.3 L1303.8 432.7 L1303.0 437.0 L1301.3 439.6 L1298.6 441.3 L1297.0 444.0"/>
<path d="M1347.5 339.0 L1346.3 343.3 L1344.0 347.1 L1342.6 351.3 L1340.0 355.0 L1338.3 358.3 L1336.1 361.2 L1334.1 364.2 L1332.5 367.5 L1332.0 371.4 L1330.7 375.1 L1330.0 379.0 L1327.4 382.3 L1327.6 386.4 L1326.0 390.0 L1324.7 393.4 L1326.4 397.1 L1325.0 400.5"/>
<path d="M1307.0 400.5 L1352.5 400.5 L1356.2 398.2 L1360.0 396.0"/>
<path d="M1304.0 419.5 L1350.0 419.0 L1351.6 422.6 L1353.3 426.1 L1354.0 430.0"/>
<path d="M1339.5 419.5 L1339.5 440.0"/>
<path d="M1355.0 332.5 L1357.0 365.0 L1358.7 368.7 L1357.7 372.8 L1359.6 376.4 L1359.4 380.4 L1359.4 384.3 L1359.7 388.3 L1361.0 392.0"/>
<path d="M1256.0 479.6 L1257.5 513.8 L1261.2 513.2 L1265.0 513.2 L1268.8 513.7 L1272.5 512.5"/>
<path d="M1177.5 479.6 L1177.5 493.8 L1180.6 491.6 L1184.2 490.4 L1187.5 488.8 L1190.2 486.3 L1193.6 485.3 L1196.4 483.1 L1200.0 482.5 L1204.0 481.9 L1207.5 483.8 L1210.4 485.8 L1213.2 487.9 L1215.0 491.0 L1219.0 492.8 L1222.2 496.0 L1226.8 496.8 L1230.0 500.0 L1231.0 503.8 L1232.5 507.5 L1232.1 511.5 L1230.0 515.0 L1232.0 518.0 L1235.0 520.0"/>
<path d="M1215.0 491.0 L1211.2 492.2 L1208.5 495.2 L1205.0 497.0 L1202.3 499.9 L1200.0 503.0 L1196.4 504.0 L1194.1 507.1 L1190.6 508.2 L1187.5 510.0 L1184.3 511.7 L1180.7 512.8 L1178.7 516.6 L1175.0 517.5 L1173.3 520.8 L1170.3 522.8 L1166.9 524.4 L1165.0 527.5 L1162.4 530.2 L1162.0 534.2 L1158.5 536.3 L1157.5 540.0 L1154.0 540.9 L1150.2 540.9 L1146.7 542.0 L1143.8 545.0 L1140.0 545.0 L1136.0 543.4 L1131.7 544.2 L1127.5 543.8 L1097.5 561.5"/>
<path d="M1115.0 515.0 L1115.7 518.3 L1115.8 521.6 L1116.0 525.0 L1117.7 528.1 L1119.6 531.1 L1120.8 534.4 L1122.5 537.5 L1125.2 540.5 L1127.5 543.8"/>
<path d="M967.5 565.0 L996.2 565.5 L997.0 562.5 L1097.5 561.5 L1133.8 562.0 L1253.0 562.5"/>
<path d="M1133.8 562.0 L1131.6 565.5 L1128.1 567.5 L1125.0 570.0 L1122.5 573.3 L1118.4 574.5 L1115.6 577.5 L1112.5 580.0 L1110.1 583.4 L1107.0 585.9 L1102.8 587.0 L1100.0 590.0 L1096.5 592.1 L1092.3 591.9 L1088.6 593.4 L1085.0 595.0 L1082.5 596.7 L1079.5 597.6 L1077.5 600.0 L1076.2 603.8"/>
<path d="M951.2 603.7 L1097.5 603.7 L1097.5 607.5"/>
<path d="M996.0 604.0 L992.0 650.0 L988.8 687.5 L988.8 710.0 L989.7 713.7 L989.4 717.5 L990.5 721.2 L990.0 725.0"/>
<path d="M1049.0 604.0 L1057.5 652.5 L1057.6 657.0 L1061.1 660.5 L1060.7 665.2 L1062.5 669.2 L1062.7 673.7 L1065.0 677.5 L1063.5 681.8 L1060.7 685.4 L1060.0 690.0 L1060.0 705.0 L1062.1 708.5 L1061.3 712.9 L1063.8 716.2 L1122.5 723.0 L1123.5 719.5 L1125.0 716.2 L1128.8 715.5 L1132.5 715.9 L1136.2 716.2"/>
<path d="M1010.0 722.0 L1009.0 717.9 L1008.4 713.7 L1006.2 710.0 L1061.0 710.0"/>
<path d="M1097.5 607.5 L1097.8 611.6 L1100.0 615.0 L1103.2 617.6 L1104.9 621.3 L1107.5 624.3 L1110.0 627.5 L1111.6 631.5 L1115.2 634.0 L1117.6 637.4 L1119.8 640.9 L1122.7 644.0 L1125.0 647.5 L1126.7 651.3 L1129.3 654.3 L1132.1 657.2 L1135.0 660.0 L1137.9 663.3 L1137.7 668.0 L1140.5 671.3 L1142.5 675.0 L1144.8 677.7 L1147.5 680.0"/>
<path d="M1097.5 607.5 L1099.4 605.0 L1103.1 605.1 L1105.0 602.5 L1108.8 600.9 L1113.1 601.6 L1117.2 601.1 L1121.1 600.1 L1125.0 598.8 L1145.0 599.5 L1147.9 602.3 L1150.3 605.4 L1152.5 608.8 L1156.2 609.5 L1159.9 610.3 L1163.7 609.8 L1167.5 609.7 L1171.3 609.5 L1175.0 610.0 L1200.0 633.8"/>
<path d="M873.0 656.3 L932.5 656.3"/>
<path d="M877.5 741.2 L877.1 736.8 L879.2 732.8 L878.6 728.3 L880.5 724.3 L881.2 720.0 L882.0 715.7 L879.9 711.7 L881.2 707.4 L879.9 703.3 L880.1 699.1 L878.8 695.0 L876.0 691.3 L876.0 686.4 L873.8 682.5 L872.0 641.0 L867.8 640.5 L863.5 640.0"/>
<path d="M746.2 564.2 L746.2 617.5 L750.0 618.5 L753.9 618.4 L757.5 620.0 L760.9 621.8 L764.1 624.0 L768.5 623.4 L771.5 625.9 L775.0 627.5 L778.9 628.4 L782.7 629.5 L786.0 632.1 L790.0 632.5 L793.4 634.9 L797.3 635.7 L801.3 636.1 L805.0 637.5 L820.0 637.5 L823.8 637.4 L826.7 634.5 L830.5 634.5 L834.0 633.4 L837.5 632.5 L841.8 631.9 L845.8 633.5 L850.0 633.8 L853.5 635.0 L856.9 636.6 L860.5 637.5 L863.5 640.0"/>
<path d="M682.0 564.2 L746.2 564.2"/>
<path d="M682.0 551.1 L682.0 682.6 L608.0 682.6 L607.5 686.0"/>
<path d="M859.2 564.2 L952.5 564.2 L956.0 570.0 L954.0 572.5 L951.9 574.9 L950.0 577.5 L962.5 577.5"/>
<path d="M408.0 235.5 L408.0 262.0 L408.8 265.8 L412.2 268.1 L412.2 272.3 L415.0 275.0 L418.0 277.0 L420.1 279.9 L421.8 283.2 L425.0 285.0 L427.8 287.2 L430.0 290.0 L433.1 291.9 L435.0 295.0 L438.1 297.0 L441.4 297.8 L445.0 297.5 L444.4 301.9 L443.2 306.1 L441.0 310.0 L440.8 313.8 L440.5 317.5 L439.6 321.2 L440.0 325.0 L443.2 323.6 L446.7 323.2 L450.0 322.0 L452.7 324.5 L454.6 327.6 L456.9 330.4 L457.9 334.1 L460.0 337.0 L462.2 339.8 L464.4 342.5 L467.0 345.0 L468.1 348.4 L471.4 350.2 L473.3 353.0 L475.0 356.0 L478.7 354.9 L482.8 355.1 L486.1 352.5 L490.0 352.0 L493.9 351.0 L498.0 350.8 L502.1 351.0 L506.0 350.0 L510.2 351.5 L514.0 354.0"/>
<path d="M225.0 251.0 L227.9 251.3 L230.3 253.1 L233.0 254.0 L236.1 254.4 L238.9 255.8 L241.9 256.6 L245.0 257.0 L248.4 256.2 L251.7 256.6 L254.6 259.5 L258.0 259.0 L260.6 261.6 L262.0 265.0 L261.8 268.6 L258.6 271.2 L259.0 275.0 L259.8 278.0 L259.5 281.2 L261.3 284.0 L262.0 287.0 L265.2 285.9 L268.0 284.0 L268.0 280.2 L270.4 277.1 L272.1 273.8 L272.0 270.0 L273.4 267.4 L275.3 265.0 L276.0 262.0 L275.5 258.8 L272.8 256.4 L273.7 252.8 L272.0 250.0 L270.8 246.3 L268.4 243.0 L266.2 239.7 L266.0 235.5 L847.0 235.5 L848.3 232.4 L847.3 229.2 L847.5 226.0 L850.3 226.7 L853.2 227.1 L856.0 226.0 L856.1 229.6 L856.1 233.2 L858.4 236.4 L858.8 240.0 L861.7 242.0 L865.3 242.2 L868.0 244.8 L871.4 245.9 L875.0 246.0 L878.6 244.3 L882.4 243.9 L886.1 243.7 L890.0 244.0 L892.9 246.5 L896.7 246.2 L900.0 247.5 L902.3 249.9 L905.4 251.2 L907.5 253.8 L910.6 254.3 L913.8 254.5 L917.0 255.0 L920.0 256.0 L923.2 257.6 L926.6 258.9 L930.0 260.0 L933.9 259.4 L936.9 257.2 L940.0 255.0 L942.9 257.5 L946.3 258.7 L950.0 259.0 L953.6 260.9 L957.4 260.3 L961.4 259.2 L964.9 261.7 L968.8 261.0 L965.1 261.1 L962.0 262.5 L959.3 264.8 L956.0 265.7 L953.5 268.5 L950.0 269.0 L946.5 269.8 L943.9 272.2 L941.3 274.7 L938.6 276.9 L935.0 277.5 L931.4 279.2 L928.2 281.4 L927.1 285.9 L922.7 286.8 L920.6 290.2 L917.5 292.5 L915.4 294.6 L912.8 295.4 L910.0 296.0 L913.8 296.6 L917.6 296.6 L921.2 293.9 L925.0 295.0 L928.1 294.6 L930.7 292.2 L934.2 293.4 L937.0 292.0 L938.8 294.1 L938.7 297.2 L941.0 299.0 L943.8 300.8 L947.0 299.7 L950.0 300.0 L953.7 299.8 L955.7 296.5 L958.4 294.4 L962.1 294.3 L965.0 292.5 L967.4 289.9 L970.6 289.1 L973.9 288.3 L977.1 287.6 L980.0 286.0 L982.9 283.4 L986.1 281.4 L990.0 281.0 L993.9 279.9 L996.4 276.5 L1000.0 275.0 L1005.0 276.0 L1001.7 276.5 L999.3 278.3 L997.5 281.0 L995.9 284.1 L993.8 286.8 L991.8 289.6 L990.0 292.5 L993.4 292.4 L996.7 291.8 L1000.0 291.0 L1002.9 293.0 L1005.8 294.9 L1008.3 297.5 L1012.0 298.2 L1015.0 300.0 L1018.1 300.0 L1021.2 301.2 L1024.4 300.0 L1027.5 301.0 L1030.8 299.4 L1034.9 300.4 L1038.0 298.1 L1041.5 297.1 L1045.0 296.0 L1048.4 294.2 L1052.0 295.1 L1055.5 295.3 L1058.9 293.4 L1062.5 294.5 L1063.4 297.9 L1065.0 301.0 L1068.0 302.1 L1071.5 301.1 L1074.3 303.4 L1077.5 303.8 L1079.5 306.5 L1080.8 309.7 L1083.5 311.9 L1085.0 315.0 L1081.4 313.8 L1077.6 313.0 L1073.5 314.5 L1070.0 312.5 L1066.6 313.6 L1063.4 311.5 L1060.1 310.4 L1056.6 312.2 L1053.3 311.4 L1050.0 311.0 L1046.2 311.7 L1042.6 313.5 L1038.9 314.4 L1035.0 315.0 L1032.0 316.2 L1028.8 316.6 L1025.6 316.6 L1022.5 317.5 L1021.3 320.3 L1019.5 322.7 L1017.5 325.0 L1014.9 327.0 L1014.6 330.9 L1011.3 332.4 L1008.9 334.6 L1007.5 337.5 L1006.5 340.9 L1005.3 344.2 L1003.0 347.0 L1005.9 345.4 L1006.9 341.9 L1009.1 339.6 L1012.0 338.0 L1014.6 336.0 L1017.7 334.8 L1020.0 332.5 L1018.9 335.7 L1016.4 337.8 L1014.4 340.3 L1011.2 341.9 L1010.0 345.0 L1008.1 347.6 L1005.2 349.3 L1004.8 353.1 L1002.0 355.0 L1004.3 358.1 L1005.3 361.9 L1007.5 365.0 L1005.5 368.1 L1006.0 371.7 L1005.8 375.2 L1005.3 378.6 L1003.2 381.6 L1002.5 385.0 L1003.6 388.3 L1002.0 391.7 L1002.1 395.1 L1004.3 398.3 L1004.2 401.6 L1003.8 405.0 L1003.3 408.4 L1004.2 411.7 L1005.0 415.0 L1006.1 418.6 L1009.1 421.0 L1011.6 423.8 L1012.5 427.5 L1017.5 430.0 L1019.6 427.6 L1023.0 427.0 L1024.6 423.8 L1027.5 422.5 L1028.6 418.8 L1030.3 415.4 L1031.8 411.9 L1033.3 408.4 L1035.0 405.0 L1035.6 401.4 L1032.7 398.5 L1031.5 395.3 L1033.6 391.4 L1032.8 388.1 L1031.0 385.0 L1032.3 381.6 L1030.5 378.3 L1031.8 374.9 L1031.6 371.6 L1029.3 368.4 L1030.0 365.0 L1032.2 362.3 L1033.9 359.5 L1034.9 356.2 L1036.1 353.0 L1037.5 350.0 L1039.6 347.1 L1042.2 344.7 L1045.0 342.5 L1046.0 339.5 L1047.3 336.8 L1050.0 335.0 L1052.7 332.7 L1054.5 329.5 L1058.2 328.2 L1059.0 324.0 L1062.5 322.5 L1065.9 320.9 L1067.5 317.5 L1070.6 319.7 L1073.6 322.0 L1077.5 322.5 L1080.0 325.1 L1083.0 326.6 L1086.4 327.2 L1090.2 327.2 L1092.5 330.0 L1094.0 333.7 L1097.5 336.1 L1098.8 340.0 L1098.7 343.9 L1096.9 347.4 L1096.6 351.2 L1096.0 355.0 L1094.2 358.5 L1090.9 361.0 L1090.0 365.0 L1088.4 367.3 L1087.8 370.2 L1086.0 372.5 L1088.9 373.6 L1091.0 376.0 L1094.1 374.2 L1095.4 371.0 L1098.4 369.1 L1100.0 366.0 L1102.9 365.6 L1105.8 365.1 L1108.8 366.0 L1109.9 369.5 L1110.4 373.3 L1113.4 376.2 L1113.8 380.0 L1113.4 383.9 L1113.6 387.7 L1114.5 391.4 L1116.0 395.0 L1113.2 397.8 L1113.3 402.4 L1110.0 405.0 L1108.3 408.2 L1106.3 411.3 L1106.0 415.0 L1105.1 418.3 L1102.5 420.4 L1100.0 422.5 L1097.5 427.5 L1100.9 428.1 L1103.7 430.1 L1107.0 431.0 L1110.0 432.5 L1113.7 431.8 L1117.6 432.1 L1121.0 429.2 L1125.0 430.0 L1128.2 427.6 L1131.8 426.8 L1135.4 425.7 L1138.9 424.5 L1143.3 426.0 L1146.7 424.6 L1150.0 422.5 L1153.1 419.9 L1157.1 419.6 L1160.5 417.7 L1164.1 416.3 L1167.7 414.9 L1171.6 414.3 L1175.0 412.5 L1177.7 410.4 L1179.7 407.6 L1181.9 404.9 L1184.7 402.9 L1187.5 401.0 L1187.0 397.4 L1188.9 394.3 L1190.0 391.0 L1190.0 387.5 L1193.6 385.9 L1197.5 385.0 L1201.0 384.2 L1204.3 384.9 L1207.5 385.9 L1210.8 387.0 L1214.1 387.9 L1217.5 387.5 L1221.0 386.1 L1224.9 386.2 L1228.3 384.6 L1231.7 383.0 L1235.2 381.8 L1238.9 381.1 L1242.5 380.0 L1244.7 376.9 L1245.6 373.2 L1247.5 370.0 L1246.8 366.1 L1245.0 362.5 L1247.4 360.1 L1249.5 357.2 L1252.6 355.5 L1255.4 353.5 L1256.6 349.8 L1259.8 348.2 L1262.5 346.0 L1265.5 344.5 L1269.2 344.4 L1272.4 343.2 L1275.0 340.7 L1347.5 339.0 L1348.4 335.6 L1350.0 332.5 L1353.6 332.8 L1356.9 331.7 L1360.0 330.0 L1362.0 327.0 L1364.9 324.9 L1366.7 321.7 L1370.0 320.0 L1371.3 316.8 L1371.2 313.4 L1371.0 310.0 L1373.4 307.5 L1374.4 304.3 L1375.4 301.2 L1376.8 298.3 L1377.5 295.0 L1380.1 292.3 L1381.6 288.5 L1385.2 286.6 L1386.4 282.6 L1389.2 280.0 L1393.1 278.4 L1395.0 275.0 L1398.4 275.9 L1400.0 279.0 L1403.3 277.4 L1406.7 277.1 L1410.4 279.0 L1413.8 277.5 L1417.1 278.9 L1420.2 280.6 L1421.6 284.7 L1425.0 286.0 L1426.2 289.6 L1424.2 293.3 L1424.8 297.0 L1424.4 300.6 L1424.1 304.3 L1425.4 307.9 L1424.8 311.6 L1427.2 315.2 L1425.1 318.9 L1426.0 322.5 L1429.2 323.8 L1432.5 325.0 L1432.3 328.4 L1434.5 331.5 L1433.8 335.0 L1435.6 338.0 L1437.6 340.9 L1441.0 342.5 L1440.0 347.5 L1436.7 350.0 L1432.7 350.5 L1428.7 351.1 L1425.0 352.5 L1421.3 351.9 L1418.0 354.1 L1414.5 354.7 L1410.9 354.9 L1407.3 354.2 L1403.8 355.0 L1401.8 358.1 L1401.5 361.8 L1400.0 365.0 L1396.7 367.1 L1393.1 368.8 L1389.7 370.7 L1386.1 372.2 L1382.5 373.8 L1379.6 376.2 L1375.8 376.2 L1372.5 377.5 L1369.5 379.1 L1369.0 382.7 L1366.3 384.6 L1365.0 387.5 L1364.6 390.5 L1361.8 392.2 L1361.0 395.0 L1359.7 398.6 L1359.4 402.4 L1359.3 406.2 L1358.8 410.0 L1357.5 415.0 L1359.2 417.5 L1360.5 420.2 L1362.5 422.5 L1364.6 425.3 L1368.0 426.0 L1371.8 426.0 L1375.0 428.0 L1375.4 424.5 L1378.0 422.0 L1376.6 419.0 L1374.0 417.0 L1379.0 418.0 L1378.1 421.1 L1379.6 424.0 L1380.0 427.0 L1377.6 429.1 L1375.0 431.0 L1362.0 431.0 L1358.4 431.1 L1355.2 433.4 L1351.6 433.9 L1348.0 434.0 L1345.0 435.6 L1341.4 435.2 L1338.4 436.8 L1335.0 437.0 L1331.5 438.5 L1327.6 437.8 L1324.0 439.0 L1320.1 438.7 L1317.2 441.6 L1313.3 441.4 L1310.0 443.0 L1306.8 444.6 L1302.9 444.7 L1300.0 447.0 L1297.2 449.1 L1295.1 452.2 L1292.0 454.0 L1290.0 457.5 L1292.7 459.8 L1295.2 462.3 L1296.0 466.0 L1295.2 469.5 L1294.6 473.1 L1294.3 476.7 L1292.5 480.0 L1291.0 483.3 L1289.2 486.5 L1286.2 489.0 L1285.0 492.5 L1283.1 495.2 L1279.1 495.1 L1277.5 498.2 L1275.0 500.0 L1274.0 496.2 L1272.5 492.5 L1269.9 490.1 L1268.2 486.8 L1265.0 485.0 L1264.7 480.9 L1262.5 477.5 L1263.3 481.0 L1264.6 484.5 L1264.9 488.2 L1265.5 491.8 L1267.5 495.0 L1269.4 498.2 L1270.2 502.0 L1272.5 505.0 L1271.1 508.8 L1272.5 512.5 L1272.0 515.6 L1272.0 518.9 L1271.4 522.0 L1270.0 525.0 L1267.6 527.8 L1265.8 531.0 L1263.2 533.7 L1262.5 537.5 L1259.7 540.1 L1259.4 544.1 L1257.7 547.4 L1255.0 550.0 L1251.0 553.0 L1252.2 555.5 L1252.9 558.2 L1252.5 561.0 L1253.8 563.8 L1255.1 567.2 L1257.5 570.0 L1257.7 574.1 L1258.9 577.9 L1261.9 581.0 L1262.5 585.0 L1262.0 588.9 L1263.8 592.5 L1263.0 595.3 L1261.5 597.6 L1260.0 600.0 L1256.6 602.0 L1255.0 605.9 L1252.0 608.4 L1247.7 609.2 L1245.8 613.0 L1242.5 615.0 L1239.1 615.9 L1235.5 615.8 L1231.9 616.0 L1228.7 618.5 L1225.0 617.5 L1222.8 619.9 L1220.1 621.6 L1217.5 623.5 L1215.5 626.2 L1212.5 627.5 L1210.0 632.5 L1206.6 632.7 L1203.2 632.0 L1200.0 633.8 L1197.7 636.2 L1194.9 638.0 L1193.3 641.2 L1190.0 642.5 L1188.7 645.4 L1185.9 647.2 L1185.3 650.7 L1182.5 652.5 L1179.3 653.6 L1176.7 655.5 L1175.8 659.4 L1171.7 659.5 L1170.0 662.5 L1167.2 664.8 L1163.5 665.8 L1160.6 667.9 L1158.3 671.0 L1155.0 672.5 L1152.1 674.6 L1149.7 677.2 L1147.5 680.0 L1145.8 683.1 L1146.5 686.8 L1145.0 690.0 L1143.0 692.8 L1141.2 695.7 L1140.8 699.2 L1140.0 702.5 L1139.0 705.9 L1139.2 709.7 L1137.2 712.8 L1136.2 716.2 L1137.6 719.6 L1137.5 723.3 L1138.5 726.7 L1140.0 730.0 L1140.4 733.2 L1142.2 736.1 L1141.4 739.5 L1142.5 742.5 L1143.4 746.4 L1145.9 749.7 L1145.1 754.1 L1147.1 757.6 L1149.8 760.9 L1150.0 765.0 L1150.0 768.8 L1153.5 771.3 L1154.2 774.8 L1154.4 778.6 L1156.0 781.8 L1157.5 785.0 L1158.4 788.6 L1159.2 792.3 L1160.8 795.7 L1162.3 799.1 L1163.8 802.6 L1165.2 806.1 L1165.0 810.0 L1165.0 813.9 L1165.5 817.6 L1166.7 821.3 L1167.5 825.0 L1166.4 828.7 L1167.1 832.5 L1166.9 836.3 L1166.2 840.0 L1164.3 843.6 L1165.0 847.5 L1165.0 851.1 L1162.5 853.7 L1162.0 857.2 L1160.0 860.0 L1156.6 860.2 L1153.9 862.3 L1150.8 863.3 L1147.5 863.8 L1144.8 862.1 L1142.5 860.0 L1140.7 856.8 L1139.4 853.3 L1136.5 850.9 L1135.0 847.5 L1134.0 843.8 L1130.3 841.8 L1128.8 838.5 L1127.5 835.0 L1125.1 831.6 L1123.9 827.9 L1124.5 823.5 L1122.5 820.0 L1121.2 817.1 L1118.0 815.6 L1116.1 813.1 L1115.0 810.0 L1113.8 806.6 L1113.7 802.8 L1112.9 799.2 L1111.7 795.8 L1110.0 792.5 L1110.0 772.5 L1109.0 768.7 L1106.5 765.3 L1106.0 761.3 L1105.0 757.5 L1101.8 755.1 L1100.1 751.4 L1097.7 748.4 L1094.3 746.1 L1092.5 742.5 L1088.9 740.9 L1086.7 737.4 L1082.3 737.1 L1080.0 733.8 L1076.5 734.5 L1073.2 735.8 L1070.0 737.2 L1067.5 740.0 L1063.8 741.0 L1060.0 741.1 L1056.2 741.6 L1052.5 742.5 L1051.4 739.3 L1050.8 735.9 L1048.5 733.2 L1046.0 730.8 L1045.0 727.5 L1041.9 725.6 L1038.3 725.9 L1035.0 725.0 L1031.7 723.9 L1028.5 722.7 L1025.0 722.5 L1012.5 723.0 L1010.0 725.8 L1005.9 725.1 L1002.9 726.9 L1000.0 728.8 L996.7 727.9 L993.4 726.8 L990.0 726.0 L986.7 725.8 L983.2 726.2 L980.0 725.0 L977.5 726.6 L975.8 729.5 L972.5 730.0 L973.7 733.8 L975.0 737.5 L972.2 739.7 L970.1 742.6 L967.5 745.0 L969.3 747.9 L970.4 751.3 L972.5 753.9 L976.4 755.4 L977.5 758.8 L974.6 759.2 L972.3 760.9 L970.0 762.5 L966.5 760.6 L964.7 757.2 L961.9 754.6 L960.0 751.2 L958.3 754.3 L954.9 755.3 L952.5 757.5 L948.5 756.9 L945.1 759.3 L941.1 758.3 L937.5 760.0 L935.4 757.5 L931.8 756.9 L930.7 753.2 L927.7 751.8 L925.0 750.0 L922.5 747.0 L919.1 745.7 L916.0 743.8 L912.5 742.5 L908.8 743.6 L904.8 742.8 L901.0 743.1 L897.5 745.0 L894.0 743.2 L890.0 743.7 L886.4 742.0 L882.5 742.0 L878.8 741.2 L875.6 743.3 L872.2 744.4 L868.8 745.3 L865.0 745.0 L861.7 745.9 L858.3 746.0 L855.0 745.0 L853.3 748.3 L851.1 751.4 L850.0 755.0 L847.4 757.7 L845.2 760.8 L842.2 763.1 L840.0 766.2 L837.0 768.0 L833.6 768.8 L830.1 769.3 L827.3 771.5 L824.3 773.4 L820.3 772.6 L817.5 775.0 L814.5 777.0 L812.8 780.3 L810.3 782.8 L807.5 785.0 L805.2 787.4 L802.9 789.8 L801.6 793.0 L798.8 795.0 L799.9 798.9 L799.0 802.6 L797.0 806.2 L797.5 810.0 L799.5 813.5 L799.5 817.5 L801.2 821.0 L801.2 825.0 L803.1 828.0 L804.2 831.2 L804.5 834.7 L806.2 837.7 L806.2 841.2 L803.7 843.8 L800.0 843.8 L796.2 843.9 L792.7 842.7 L789.5 840.8 L785.6 841.0 L782.5 838.8 L778.4 838.3 L775.4 835.4 L771.9 833.7 L768.8 831.2 L765.0 830.0 L762.5 826.9 L762.2 823.0 L761.0 819.4 L758.7 816.2 L760.1 811.7 L756.7 808.9 L756.2 805.0 L753.4 802.7 L752.4 799.2 L749.8 796.8 L749.1 793.1 L746.5 790.7 L745.0 787.5 L742.2 784.8 L740.3 781.7 L740.2 777.5 L737.3 775.0 L736.8 771.0 L734.2 768.3 L732.5 765.0 L731.4 761.4 L727.7 759.6 L725.5 756.9 L723.4 754.0 L722.5 750.1 L720.0 747.6 L717.5 745.0 L713.9 744.7 L710.2 744.6 L707.1 742.1 L703.8 740.4 L700.0 741.0 L696.6 741.2 L693.6 743.5 L690.0 742.5 L690.4 746.0 L689.3 749.1 L688.1 752.2 L686.2 755.0 L684.8 758.8 L682.3 761.7 L678.8 763.8 L675.8 761.1 L672.9 758.3 L668.5 757.7 L666.6 753.6 L662.5 752.5 L659.5 750.1 L657.1 746.8 L654.3 744.0 L651.3 741.5 L647.5 740.0 L644.9 736.7 L644.4 732.7 L644.1 728.6 L642.5 725.0 L640.9 721.6 L636.6 720.9 L634.6 717.9 L633.2 714.3 L630.0 712.5 L626.7 710.8 L624.8 707.7 L622.1 705.4 L620.4 702.1 L618.4 699.1 L615.0 697.5 L612.3 695.2 L611.9 691.4 L610.0 688.5 L607.5 686.0 L603.7 685.2 L600.0 686.2 L596.2 685.2 L592.5 687.1 L588.8 687.1 L585.0 687.8 L581.2 686.3 L577.5 687.4 L573.8 687.5 L573.8 701.2 L512.5 701.2 L433.8 668.8 L435.0 665.0 L385.0 667.5 L383.1 664.6 L381.6 661.6 L381.9 657.9 L380.0 655.0 L378.6 651.5 L377.2 648.1 L375.0 645.0 L371.7 643.0 L368.7 640.5 L365.0 639.1 L362.5 636.0 L359.6 633.9 L355.6 634.3 L353.1 631.6 L350.0 630.0 L347.0 627.6 L343.6 626.2 L339.5 626.1 L336.3 624.0 L333.8 620.7 L330.0 620.0 L326.6 618.6 L323.3 616.9 L319.8 615.9 L316.0 616.1 L312.5 615.0 L313.0 611.1 L311.9 607.4 L310.1 603.8 L310.0 600.0 L307.2 597.2 L304.0 594.8 L302.3 591.2 L301.1 587.1 L297.5 585.0 L294.6 582.7 L293.8 579.1 L290.8 576.9 L288.8 574.0 L288.3 570.2 L286.0 567.5 L284.4 563.9 L282.9 560.3 L282.4 556.5 L282.5 552.5 L281.0 549.2 L279.0 546.1 L275.6 543.9 L275.0 540.0 L275.0 527.5 L271.5 527.5 L268.7 524.5 L265.0 525.0 L262.6 522.0 L261.8 518.2 L260.0 515.0 L257.6 512.1 L256.2 508.5 L253.5 505.8 L251.7 502.5 L248.8 500.0 L247.9 496.8 L246.0 494.0 L245.0 490.9 L245.0 487.5 L242.3 484.5 L242.9 480.1 L239.4 477.5 L237.7 474.1 L237.5 470.0 L237.1 466.0 L233.4 463.7 L232.5 460.0 L234.7 457.0 L233.4 453.0 L235.5 450.0 L235.9 446.4 L238.7 443.6 L238.8 440.0 L238.5 436.6 L237.9 433.3 L237.6 429.9 L237.3 426.5 L235.2 423.4 L235.0 420.0 L232.0 415.0 L231.7 411.7 L230.6 408.6 L229.1 405.6 L230.6 402.0 L229.0 399.0 L230.0 396.1 L231.4 393.2 L230.4 389.8 L232.0 387.0 L233.1 383.6 L233.9 380.2 L235.7 377.0 L234.8 373.0 L237.0 370.0 L237.0 366.4 L237.8 362.9 L237.0 359.1 L238.9 355.7 L239.8 352.2 L239.3 348.5 L240.0 345.0 L240.0 325.0 L240.6 321.8 L240.7 318.6 L239.7 315.3 L240.4 312.2 L241.0 309.0 L242.1 305.8 L239.8 303.1 L240.0 300.0 L239.0 296.3 L237.3 292.7 L236.9 288.9 L237.0 285.0 L235.0 282.1 L236.2 278.2 L234.6 275.2 L234.1 271.9 L232.0 269.0 L232.0 265.7 L229.6 263.5 L228.0 261.0 L228.2 257.3 L226.1 254.3Z" stroke-width="4"/>
<path d="M1290.0 458.0 L1296.0 451.5 L1310.0 447.0 L1325.0 443.0 L1338.0 441.0 L1339.0 445.5 L1326.0 450.5 L1310.0 455.5 L1296.0 460.5Z"/>
<path d="M263.0 241.0 L269.0 248.0 L265.0 256.0 L272.0 262.0 L268.0 270.0 L273.0 276.0 L267.0 283.0 L263.0 287.0" stroke-width="7"/>
<path d="M257.0 261.0 L262.0 267.0" stroke-width="5"/>
<path d="M270.0 243.0 L275.0 250.0" stroke-width="4"/>
<path d="M275.0 527.0 L277.0 535.0 L279.0 543.0" stroke-width="5"/>
<path d="M1250.0 483.0 L1246.0 492.0 L1244.0 503.0 L1246.0 515.0 L1243.0 524.0 L1244.0 534.0 L1247.0 545.0 L1252.0 554.0" stroke-width="8"/>
<path d="M1232.0 512.0 L1243.0 522.0" stroke-width="4.5"/>
<path d="M1233.0 533.0 L1244.0 537.0" stroke-width="4.5"/>
<path d="M1236.0 545.0 L1247.0 547.0" stroke-width="4.5"/>
<path d="M1251.0 500.0 L1255.0 512.0 L1254.0 525.0" stroke-width="4"/>
<path d="M1238.0 493.0 L1242.0 500.0" stroke-width="4"/>
<path d="M1236.0 521.0 L1242.0 526.0" stroke-width="4"/>
<path d="M1234.0 535.0 L1242.0 540.0" stroke-width="4"/>
<path d="M1237.0 572.0 L1246.0 577.0 L1240.0 584.0 L1252.0 588.0 L1246.0 596.0 L1256.0 598.0 L1244.0 605.0 L1236.0 608.0 L1228.0 614.0 L1220.0 617.0" stroke-width="4.5"/>
<path d="M1110.0 789.0 L1112.0 796.0" stroke-width="7"/>
<path d="M1121.0 816.0 L1123.0 821.0" stroke-width="4.5"/>
<path d="M1146.0 862.0 L1149.0 864.0" stroke-width="5"/>
<path d="M995.0 714.0 L996.0 727.0" stroke-width="4"/>
<path d="M1001.0 716.0 L1000.0 726.0" stroke-width="3"/>
<path d="M850.0 741.0 L854.0 745.0 L857.0 741.0 L855.0 748.0" stroke-width="3.5"/>
<path d="M948.0 729.0 L953.0 726.0 L958.0 729.0 L956.0 734.0 L950.0 734.0 L948.0 729.0" stroke-width="3"/>
<path d="M962.0 731.0 L968.0 735.0 L972.0 732.0" stroke-width="4.5"/>
<path d="M972.0 752.0 L976.0 760.0" stroke-width="4"/>
<path d="M826.0 768.0 L822.0 771.0 L818.0 770.0 L815.0 775.0 L811.0 774.0 L808.0 780.0 L804.0 784.0" stroke-width="4.5"/>
<path d="M800.0 795.0 L798.0 805.0 L800.0 815.0 L803.0 825.0 L806.0 838.0" stroke-width="4.5"/>
<path d="M1003.0 347.0 L1012.0 338.0 L1020.0 332.5" stroke-width="3.5"/>
<path d="M1373.0 418.0 L1378.0 419.0 L1379.0 426.0" stroke-width="4"/>
<path d="M1375.0 437.0 L1378.0 439.0" stroke-width="4.5"/>
<path d="M1362.0 435.0 L1366.0 436.0" stroke-width="4"/>
<path d="M1070.0 318.0 L1076.0 321.0" stroke-width="4"/>
<path d="M1051.0 339.0 L1052.0 345.0" stroke-width="5"/>
<path d="M1141.0 700.0 L1138.0 712.0" stroke-width="4.5"/>
<path d="M1160.0 668.0 L1152.0 675.0" stroke-width="4"/>
<path d="M1185.0 648.0 L1180.0 655.0" stroke-width="4"/>
<path d="M1265.0 480.0 L1262.0 488.0" stroke-width="4"/>
</g>
<g class="lt"><text x="1486.3" y="322.7">Earliest</text><text x="1486.3" y="350.6">date of OW</text><text x="1486.3" y="378.5">gen. larval</text><text x="1486.3" y="406.5">development</text></g>
<rect x="1485.9" y="420.90" width="25.4" height="25.77" fill="#4d4d4d"/><text class="ll" x="1522.3" y="441.24">excl.-sev.</text>
<rect x="1485.9" y="446.37" width="25.4" height="25.77" fill="#d9d2e9"/><text class="ll" x="1522.3" y="466.71">Jan-06</text>
<rect x="1485.9" y="471.84" width="25.4" height="25.77" fill="#b0a5cc"/><text class="ll" x="1522.3" y="492.18">Jan-13</text>
<rect x="1485.9" y="497.31" width="25.4" height="25.77" fill="#8778b0"/><text class="ll" x="1522.3" y="517.64">Jan-20</text>
<rect x="1485.9" y="522.78" width="25.4" height="25.77" fill="#5f4b93"/><text class="ll" x="1522.3" y="543.12">Jan-27</text>
<rect x="1485.9" y="548.25" width="25.4" height="25.77" fill="#aaf5e0"/><text class="ll" x="1522.3" y="568.59">Feb-03</text>
<rect x="1485.9" y="573.72" width="25.4" height="25.77" fill="#8fe3d1"/><text class="ll" x="1522.3" y="594.06">Feb-10</text>
<rect x="1485.9" y="599.19" width="25.4" height="25.77" fill="#6fd4c2"/><text class="ll" x="1522.3" y="619.52">Feb-17</text>
<rect x="1485.9" y="624.66" width="25.4" height="25.77" fill="#52c2b3"/><text class="ll" x="1522.3" y="645.00">Feb-24</text>
<rect x="1485.9" y="650.13" width="25.4" height="25.77" fill="#b4ffc0"/><text class="ll" x="1522.3" y="670.47">Mar-03</text>
<rect x="1485.9" y="675.60" width="25.4" height="25.77" fill="#8fd698"/><text class="ll" x="1522.3" y="695.93">Mar-10</text>
<rect x="1485.9" y="701.07" width="25.4" height="25.77" fill="#66a86c"/><text class="ll" x="1522.3" y="721.40">Mar-17</text>
<rect x="1485.9" y="726.54" width="25.4" height="25.77" fill="#3c7e40"/><text class="ll" x="1522.3" y="746.88">Mar-24</text>
<rect x="1485.9" y="752.01" width="25.4" height="25.77" fill="#185214"/><text class="ll" x="1522.3" y="772.35">Mar-31</text>
<rect x="1485.9" y="777.48" width="25.4" height="25.77" fill="#ccff00"/><text class="ll" x="1522.3" y="797.82">Apr-07</text>
<rect x="1633" y="420.90" width="25.4" height="25.77" fill="#a5ea08"/><text class="ll" x="1670.6" y="441.24">Apr-14</text>
<rect x="1633" y="446.37" width="25.4" height="25.77" fill="#7adb0e"/><text class="ll" x="1670.6" y="466.71">Apr-21</text>
<rect x="1633" y="471.84" width="25.4" height="25.77" fill="#4fcb0c"/><text class="ll" x="1670.6" y="492.18">Apr-28</text>
<rect x="1633" y="497.31" width="25.4" height="25.77" fill="#ffff00"/><text class="ll" x="1670.6" y="517.64">May-05</text>
<rect x="1633" y="522.78" width="25.4" height="25.77" fill="#dcd808"/><text class="ll" x="1670.6" y="543.12">May-12</text>
<rect x="1633" y="548.25" width="25.4" height="25.77" fill="#b8ad0a"/><text class="ll" x="1670.6" y="568.59">May-19</text>
<rect x="1633" y="573.72" width="25.4" height="25.77" fill="#94820e"/><text class="ll" x="1670.6" y="594.06">May-26</text>
<rect x="1633" y="599.19" width="25.4" height="25.77" fill="#fdd58e"/><text class="ll" x="1670.6" y="619.52">Jun-02</text>
<rect x="1633" y="624.66" width="25.4" height="25.77" fill="#fdbf6f"/><text class="ll" x="1670.6" y="645.00">Jun-09</text>
<rect x="1633" y="650.13" width="25.4" height="25.77" fill="#fda850"/><text class="ll" x="1670.6" y="670.47">Jun-16</text>
<rect x="1633" y="675.60" width="25.4" height="25.77" fill="#fd9431"/><text class="ll" x="1670.6" y="695.93">Jun-23</text>
<rect x="1633" y="701.07" width="25.4" height="25.77" fill="#fd7f12"/><text class="ll" x="1670.6" y="721.40">Jun-30</text>
<rect x="1633" y="726.54" width="25.4" height="25.77" fill="#f5cccc"/><text class="ll" x="1670.6" y="746.88">Jul-07</text>
<rect x="1633" y="752.01" width="25.4" height="25.77" fill="#f69999"/><text class="ll" x="1670.6" y="772.35">Jul-14</text>
<rect x="1633" y="777.48" width="25.4" height="25.77" fill="#f76666"/><text class="ll" x="1670.6" y="797.82">Jul-21</text>
<rect x="1760" y="420.90" width="25.4" height="25.77" fill="#f83333"/><text class="ll" x="1796.6" y="441.24">Jul-28</text>
<rect x="1760" y="446.37" width="25.4" height="25.77" fill="#e6b5ab"/><text class="ll" x="1796.6" y="466.71">Aug-04</text>
<rect x="1760" y="471.84" width="25.4" height="25.77" fill="#cb8e83"/><text class="ll" x="1796.6" y="492.18">Aug-11</text>
<rect x="1760" y="497.31" width="25.4" height="25.77" fill="#b06a5c"/><text class="ll" x="1796.6" y="517.64">Aug-19</text>
<rect x="1760" y="522.78" width="25.4" height="25.77" fill="#fdaed8"/><text class="ll" x="1796.6" y="543.12">Sep-03</text>
</svg></body></html>
